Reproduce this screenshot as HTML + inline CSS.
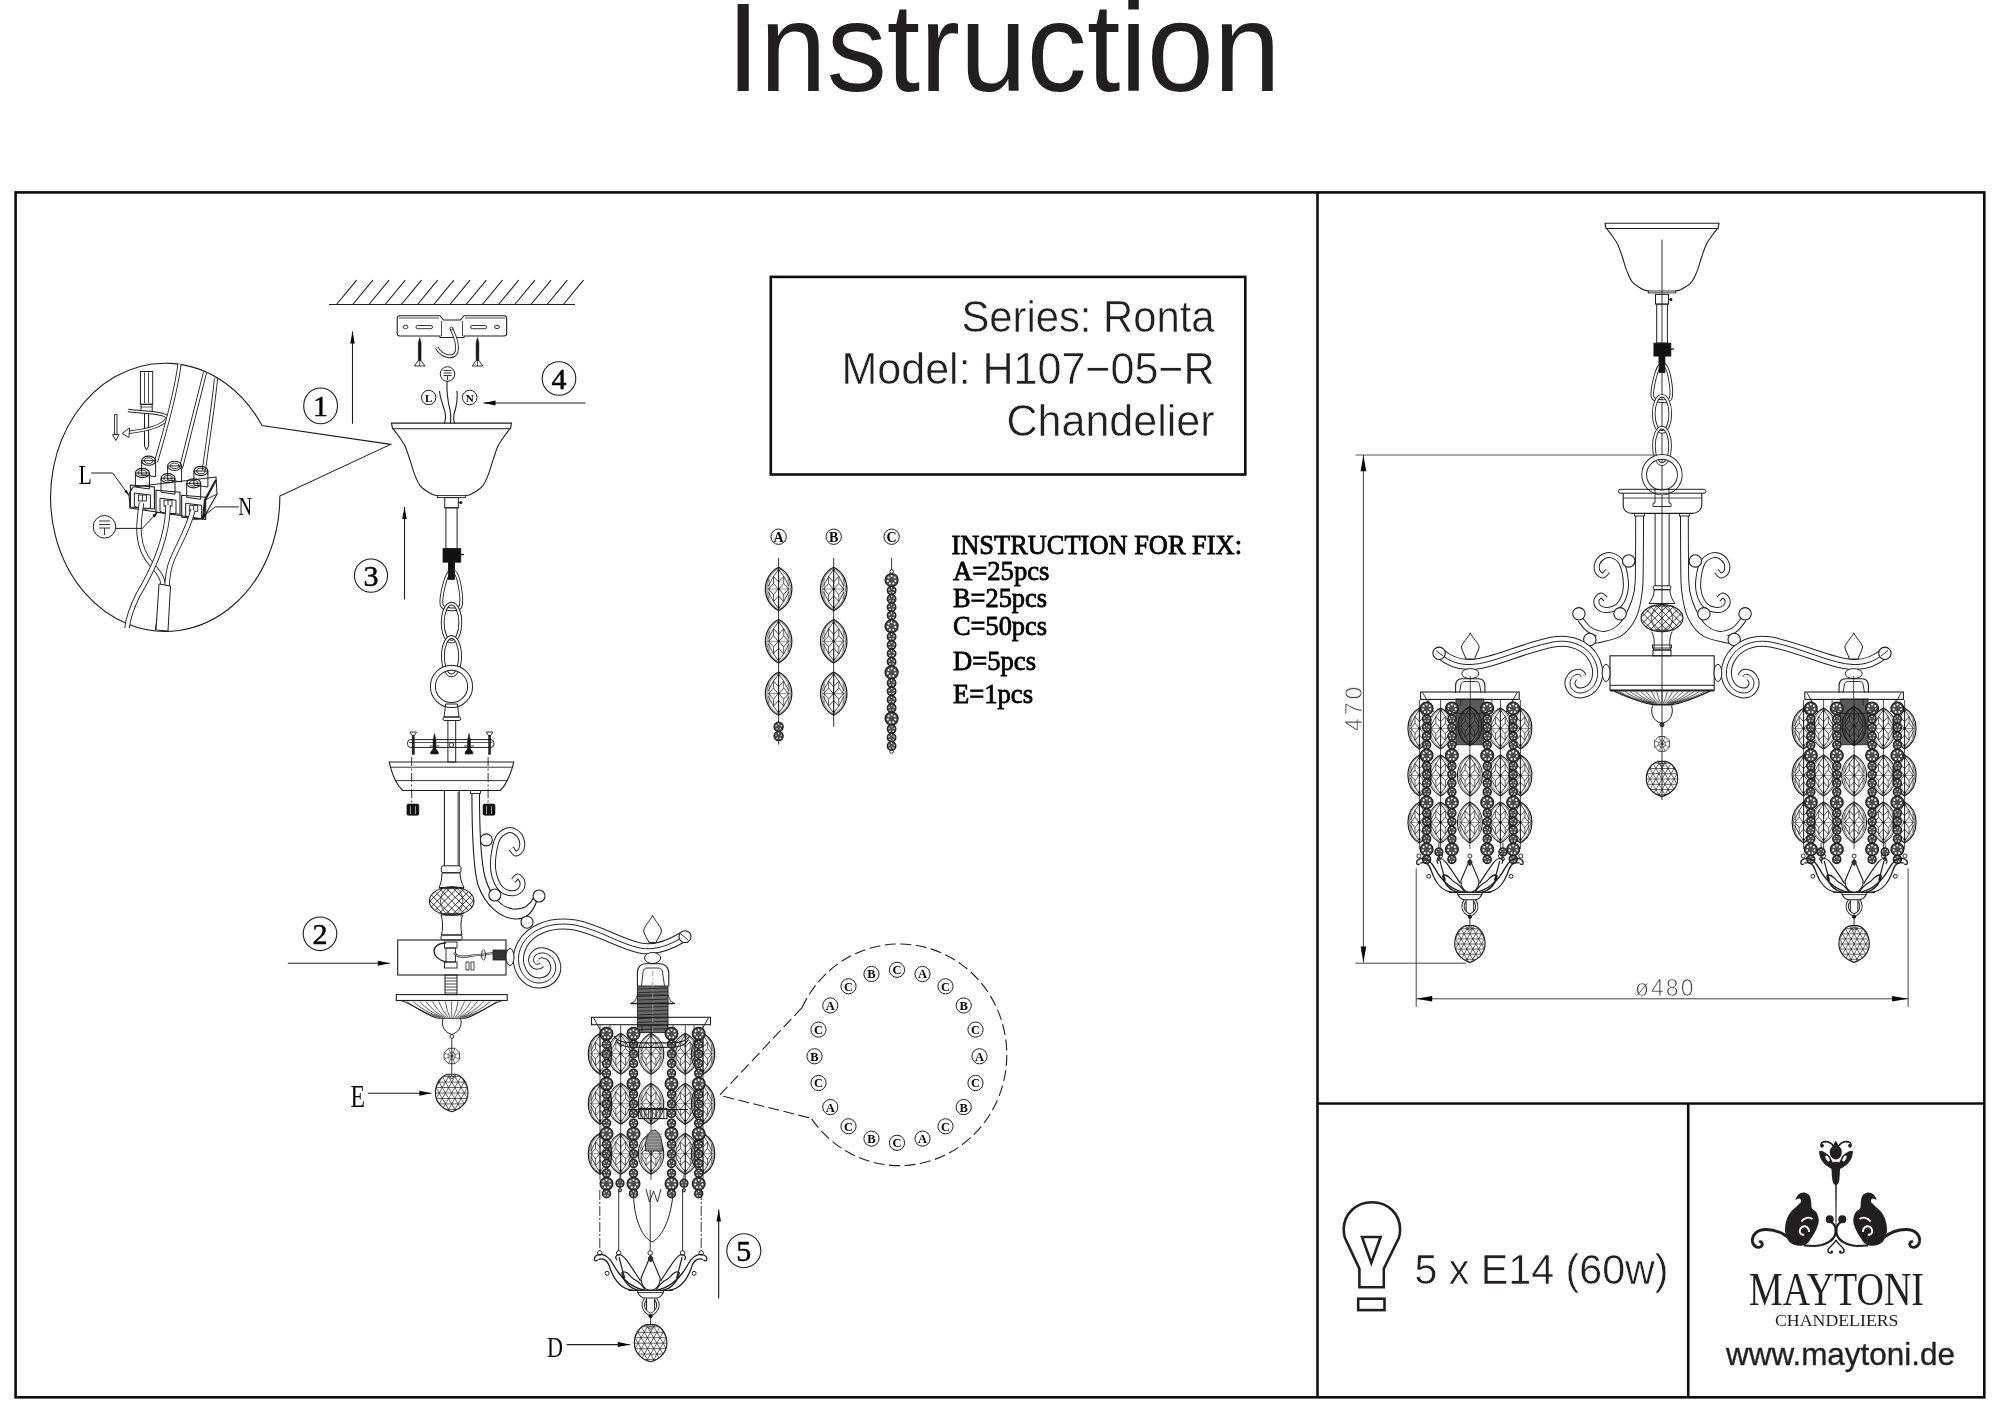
<!DOCTYPE html>
<html><head><meta charset="utf-8">
<style>
html,body{margin:0;padding:0;background:#fff;width:2000px;height:1414px;overflow:hidden}
svg{position:absolute;left:0;top:0;display:block;will-change:transform}
</style></head><body>
<svg width="2000" height="1414" viewBox="0 0 2000 1414">
<rect width="2000" height="1414" fill="#fff"/>
<g fill="#231f20" font-family="Liberation Sans">
<text x="726.5" y="90.5" font-size="127" textLength="554" lengthAdjust="spacingAndGlyphs">Instruction</text>
</g>
<g stroke="#100c0d" stroke-width="2.6" fill="none">
<rect x="15.6" y="192.4" width="1968.7" height="1204.9"/>
<line x1="1317.5" y1="192.4" x2="1317.5" y2="1397.3"/>
<line x1="1317.5" y1="1103.5" x2="1984.3" y2="1103.5"/>
<line x1="1688.2" y1="1103.5" x2="1688.2" y2="1397.3"/>
<rect x="770.8" y="276.9" width="474.5" height="197.6"/>
</g>
<g fill="#231f20" font-family="Liberation Sans" font-size="44.2" stroke="#fff" stroke-width="0.5">
<text x="961.5" y="331.5" textLength="253" lengthAdjust="spacingAndGlyphs">Series: Ronta</text>
<text x="841.5" y="383.5" textLength="373" lengthAdjust="spacingAndGlyphs">Model: H107−05−R</text>
<text x="1006.5" y="435.5" textLength="208" lengthAdjust="spacingAndGlyphs">Chandelier</text>
</g>
<g fill="#000" font-family="Liberation Serif" font-size="28" stroke="#000" stroke-width="0.8">
<text x="951.5" y="553.8" textLength="290.5" lengthAdjust="spacingAndGlyphs">INSTRUCTION FOR FIX:</text>
<text x="953" y="580.2" textLength="96.5" lengthAdjust="spacingAndGlyphs">A=25pcs</text>
<text x="953" y="607.4" textLength="94" lengthAdjust="spacingAndGlyphs">B=25pcs</text>
<text x="953" y="635.4" textLength="94" lengthAdjust="spacingAndGlyphs">C=50pcs</text>
<text x="953" y="669.8" textLength="83" lengthAdjust="spacingAndGlyphs">D=5pcs</text>
<text x="953" y="702.6" textLength="80" lengthAdjust="spacingAndGlyphs">E=1pcs</text>
</g>
<g fill="#231f20" font-family="Liberation Sans">
<text x="1414.5" y="1283.6" font-size="42.6" textLength="254" lengthAdjust="spacingAndGlyphs" stroke="#fff" stroke-width="0.5">5 x E14 (60w)</text>
<text x="1726" y="1364.5" font-size="32" textLength="229" lengthAdjust="spacingAndGlyphs" stroke="#231f20" stroke-width="0.35">www.maytoni.de</text>
</g>
<g fill="none" stroke="#1e1e1e" stroke-width="1"><line x1="329" y1="304.5" x2="575" y2="304.5" stroke-width="1.2"/><line x1="336.5" y1="304.5" x2="356.7" y2="280.2" stroke-width="1.1"/><line x1="352.7" y1="304.5" x2="372.9" y2="280.2" stroke-width="1.1"/><line x1="368.9" y1="304.5" x2="389.1" y2="280.2" stroke-width="1.1"/><line x1="385.1" y1="304.5" x2="405.3" y2="280.2" stroke-width="1.1"/><line x1="401.3" y1="304.5" x2="421.5" y2="280.2" stroke-width="1.1"/><line x1="417.5" y1="304.5" x2="437.7" y2="280.2" stroke-width="1.1"/><line x1="433.7" y1="304.5" x2="453.9" y2="280.2" stroke-width="1.1"/><line x1="449.9" y1="304.5" x2="470.1" y2="280.2" stroke-width="1.1"/><line x1="466.1" y1="304.5" x2="486.3" y2="280.2" stroke-width="1.1"/><line x1="482.3" y1="304.5" x2="502.5" y2="280.2" stroke-width="1.1"/><line x1="498.5" y1="304.5" x2="518.7" y2="280.2" stroke-width="1.1"/><line x1="514.7" y1="304.5" x2="534.9" y2="280.2" stroke-width="1.1"/><line x1="530.9" y1="304.5" x2="551.1" y2="280.2" stroke-width="1.1"/><line x1="547.1" y1="304.5" x2="567.3" y2="280.2" stroke-width="1.1"/><line x1="563.3" y1="304.5" x2="583.5" y2="280.2" stroke-width="1.1"/><path d="M400,315.7 L440,315.7 L443.5,320 L460.5,320 L464,315.7 L504,315.7 Q506.7,315.7 506.7,318.5 L506.7,333.5 Q506.7,336 504,336 L464,336 L464,337.5 L440,337.5 L440,336 L400,336 Q397.2,336 397.2,333.5 L397.2,318.5 Q397.2,315.7 400,315.7 Z" stroke-width="1.1"/><line x1="399" y1="318" x2="439" y2="318" stroke-width="0.8"/><line x1="465" y1="318" x2="505" y2="318" stroke-width="0.8"/><line x1="441.5" y1="321" x2="441.5" y2="336" stroke-width="0.8"/><line x1="462.5" y1="321" x2="462.5" y2="336" stroke-width="0.8"/><ellipse cx="405.5" cy="327" rx="2.5" ry="1.6" stroke-width="0.9"/><ellipse cx="497" cy="327" rx="2.5" ry="1.6" stroke-width="0.9"/><rect x="416" y="325.5" width="16.5" height="3.2" rx="1.6" stroke-width="0.9"/><rect x="470.7" y="325.5" width="15.8" height="3.2" rx="1.6" stroke-width="0.9"/><path d="M451.5,329 C455,336 458.5,345 456.5,352 C454,358.5 443,358 436.5,347.5" stroke="#222" stroke-width="3.6999999999999997" fill="none" stroke-linecap="butt"/><path d="M451.5,329 C455,336 458.5,345 456.5,352 C454,358.5 443,358 436.5,347.5" stroke="#fff" stroke-width="1.9" fill="none" stroke-linecap="butt"/><circle cx="451.5" cy="328.5" r="1.5" stroke-width="0.9"/><path d="M419.7,337.5 L421.1,343 L421,360.5 L418.4,360.5 L418.3,343 Z" fill="#111" stroke-width="0.6"/><path d="M414.5,366 L424.9,366 L421.2,360.5 L418.2,360.5 Z" fill="#fff" stroke-width="0.9"/><line x1="419.7" y1="361" x2="419.7" y2="366" stroke-width="0.8"/><path d="M477.5,337.5 L478.9,343 L478.8,360.5 L476.2,360.5 L476.1,343 Z" fill="#111" stroke-width="0.6"/><path d="M472.3,366 L482.7,366 L479,360.5 L476,360.5 Z" fill="#fff" stroke-width="0.9"/><line x1="477.5" y1="361" x2="477.5" y2="366" stroke-width="0.8"/><circle cx="447.5" cy="374" r="7.3" stroke-width="1"/><line x1="443.5" y1="370.5" x2="451.5" y2="370.5" stroke-width="0.9"/><line x1="443.5" y1="373" x2="451.5" y2="373" stroke-width="0.9"/><line x1="443.5" y1="375.5" x2="451.5" y2="375.5" stroke-width="0.9"/><line x1="447.5" y1="375.5" x2="447.5" y2="380" stroke-width="0.9"/><ellipse cx="428.7" cy="397.5" rx="7.2" ry="7.2" stroke-width="1.0" fill="none"/><text x="428.7" y="401.5" font-size="11" text-anchor="middle" fill="#000" stroke="none" stroke-width="0.5" font-family="Liberation Serif" font-weight="bold">L</text><ellipse cx="469.7" cy="397.5" rx="7.3" ry="7.3" stroke-width="1.0" fill="none"/><text x="469.7" y="401.5" font-size="11" text-anchor="middle" fill="#000" stroke="none" stroke-width="0.5" font-family="Liberation Serif" font-weight="bold">N</text><path d="M439.5,391 C440,398 443,405 445,412 C446.5,418 445,421 444.5,423.5" stroke-width="1.1"/><path d="M447,381 C446.5,392 448,402 450,410 C451.5,417 450.5,421 450.5,423.5" stroke-width="1.1"/><path d="M457,391 C458,400 456,408 454,414 C453,419 454,422 454.5,423.5" stroke-width="1.1"/><line x1="585.5" y1="403" x2="483.5" y2="403" stroke-width="1.1"/><path d="M483.5,403 L495.5,400.5 L495.5,405.5 Z" fill="#000" stroke="none"/><ellipse cx="559" cy="378.5" rx="16.8" ry="16.8" stroke-width="1.1" fill="none"/><text x="559" y="389" font-size="30" text-anchor="middle" fill="#000" stroke="#000" stroke-width="0.5" font-family="Liberation Serif" font-weight="normal">4</text><line x1="352.5" y1="423.8" x2="352.5" y2="331.5" stroke-width="1.1"/><path d="M352.5,331.5 L354.8,343.5 L350.2,343.5 Z" fill="#000" stroke="none"/><ellipse cx="320.6" cy="405.9" rx="16.9" ry="17.9" stroke-width="1.1" fill="none"/><text x="320.6" y="416.4" font-size="30" text-anchor="middle" fill="#000" stroke="#000" stroke-width="0.5" font-family="Liberation Serif" font-weight="normal">1</text><path d="M262,425.5 A114.6,134.1 0 1 0 279.8,496 L390.6,444.4 Z" stroke-width="1.1"/><rect x="140.4" y="371.5" width="12.3" height="32.8" stroke-width="1"/><line x1="144.5" y1="372.5" x2="144.5" y2="403" stroke-width="0.8"/><line x1="148.5" y1="372.5" x2="148.5" y2="403" stroke-width="0.8"/><rect x="141" y="404.3" width="11.2" height="8.3" stroke-width="1"/><line x1="141" y1="407" x2="152.2" y2="407" stroke-width="0.7"/><path d="M144.5,412.6 L148.6,412.6 L148.6,446 L146.5,450 L144.5,446 Z" stroke-width="1"/><path d="M128,410.5 C145,413 172,412 166,420 C160,428 140,431 128,432.5" stroke="#222" stroke-width="3.5" fill="none" stroke-linecap="butt"/><path d="M128,410.5 C145,413 172,412 166,420 C160,428 140,431 128,432.5" stroke="#fff" stroke-width="1.7000000000000002" fill="none" stroke-linecap="butt"/><path d="M122,433.5 L129.5,428 L129,437.5 Z" stroke-width="0.9" fill="#fff"/><rect x="114.6" y="414.6" width="2.4" height="20" stroke-width="0.9"/><path d="M112.5,434.6 L119.1,434.6 L115.8,440.5 Z" stroke-width="0.9"/><path d="M179.5,364 C175,400 162,440 156,462" stroke="#222" stroke-width="4.1000000000000005" fill="none" stroke-linecap="butt"/><path d="M179.5,364 C175,400 162,440 156,462" stroke="#fff" stroke-width="2.3000000000000003" fill="none" stroke-linecap="butt"/><path d="M205,372.5 C198,400 188,440 181,468" stroke="#222" stroke-width="4.1000000000000005" fill="none" stroke-linecap="butt"/><path d="M205,372.5 C198,400 188,440 181,468" stroke="#fff" stroke-width="2.3000000000000003" fill="none" stroke-linecap="butt"/><path d="M216,378.5 C213,410 207,445 204,470" stroke="#222" stroke-width="4.1000000000000005" fill="none" stroke-linecap="butt"/><path d="M216,378.5 C213,410 207,445 204,470" stroke="#fff" stroke-width="2.3000000000000003" fill="none" stroke-linecap="butt"/><path d="M133,487 L216,477 L217,494 L203,519 L130,508 L129,494 Z" stroke-width="1.1"/><path d="M205,500 L217,494" stroke-width="0.9"/><path d="M203,519 L205,500 L216,480" stroke-width="2.2"/><path d="M141.6,460.7 L141.6,474.7 L155.6,476.7 L155.6,460.7 Z" stroke-width="1"/><ellipse cx="148.6" cy="460.7" rx="7" ry="4.6" stroke-width="1.1"/><ellipse cx="148.6" cy="460.7" rx="4.2" ry="2.8" stroke-width="0.9"/><path d="M167.6,465.9 L167.6,479.9 L181.6,481.9 L181.6,465.9 Z" stroke-width="1"/><ellipse cx="174.6" cy="465.9" rx="7" ry="4.6" stroke-width="1.1"/><ellipse cx="174.6" cy="465.9" rx="4.2" ry="2.8" stroke-width="0.9"/><path d="M193.9,471 L193.9,485 L207.9,487 L207.9,471 Z" stroke-width="1"/><ellipse cx="200.9" cy="471" rx="7" ry="4.6" stroke-width="1.1"/><ellipse cx="200.9" cy="471" rx="4.2" ry="2.8" stroke-width="0.9"/><path d="M130.4,485 L154.4,487 L154.4,509 L130.4,507 Z" stroke-width="1.1"/><path d="M135.4,473 L135.4,487 L149.4,489 L149.4,473 Z" stroke-width="1"/><ellipse cx="142.4" cy="473" rx="7" ry="4.6" stroke-width="1.1"/><ellipse cx="142.4" cy="473" rx="4.2" ry="2.8" stroke-width="0.9"/><path d="M134.4,493 L134.4,506 Q142.4,511 150.4,508 L150.4,495 Z" stroke-width="1"/><rect x="138.4" y="495" width="8" height="6" stroke-width="0.9"/><line x1="142.4" y1="495" x2="142.4" y2="501" stroke-width="0.9"/><path d="M156,490.2 L180,492.2 L180,514.2 L156,512.2 Z" stroke-width="1.1"/><path d="M161,478.2 L161,492.2 L175,494.2 L175,478.2 Z" stroke-width="1"/><ellipse cx="168" cy="478.2" rx="7" ry="4.6" stroke-width="1.1"/><ellipse cx="168" cy="478.2" rx="4.2" ry="2.8" stroke-width="0.9"/><path d="M160,498.2 L160,511.2 Q168,516.2 176,513.2 L176,500.2 Z" stroke-width="1"/><rect x="164" y="500.2" width="8" height="6" stroke-width="0.9"/><line x1="168" y1="500.2" x2="168" y2="506.2" stroke-width="0.9"/><path d="M181.7,495.3 L205.7,497.3 L205.7,519.3 L181.7,517.3 Z" stroke-width="1.1"/><path d="M186.7,483.3 L186.7,497.3 L200.7,499.3 L200.7,483.3 Z" stroke-width="1"/><ellipse cx="193.7" cy="483.3" rx="7" ry="4.6" stroke-width="1.1"/><ellipse cx="193.7" cy="483.3" rx="4.2" ry="2.8" stroke-width="0.9"/><path d="M185.7,503.3 L185.7,516.3 Q193.7,521.3 201.7,518.3 L201.7,505.3 Z" stroke-width="1"/><rect x="189.7" y="505.3" width="8" height="6" stroke-width="0.9"/><line x1="193.7" y1="505.3" x2="193.7" y2="511.3" stroke-width="0.9"/><path d="M141.5,503 C139,520 134,545 152,565 C160,574 166,580 163,600 C160,615 158,625 157.5,631" stroke="#222" stroke-width="5.4" fill="none" stroke-linecap="butt"/><path d="M141.5,503 C139,520 134,545 152,565 C160,574 166,580 163,600 C160,615 158,625 157.5,631" stroke="#fff" stroke-width="3.6" fill="none" stroke-linecap="butt"/><path d="M168,505 C168,540 150,575 138,595 C132,607 128,620 127,628" stroke="#222" stroke-width="5.4" fill="none" stroke-linecap="butt"/><path d="M168,505 C168,540 150,575 138,595 C132,607 128,620 127,628" stroke="#fff" stroke-width="3.6" fill="none" stroke-linecap="butt"/><path d="M193,510 C188,530 178,545 172,560 C168,570 167,578 167,590" stroke="#222" stroke-width="5.4" fill="none" stroke-linecap="butt"/><path d="M193,510 C188,530 178,545 172,560 C168,570 167,578 167,590" stroke="#fff" stroke-width="3.6" fill="none" stroke-linecap="butt"/><path d="M159,584 L170.5,586 L168,631 L156,630 Z" stroke-width="1" fill="#fff"/><text x="78.5" y="484.3" font-size="28" font-family="Liberation Serif" fill="#000" stroke="none" transform="translate(78.5 484.3) scale(0.78 1) translate(-78.5 -484.3)">L</text><path d="M91.1,473 L112.7,473 L129,495.6" stroke-width="1"/><path d="M129,495.6 L124.3,491.6 L126.7,489.9 Z" fill="#000" stroke="none"/><text x="238.5" y="515.1" font-size="26" font-family="Liberation Serif" fill="#000" stroke="none" transform="translate(238.5 515.1) scale(0.72 1) translate(-238.5 -515.1)">N</text><path d="M238.8,506.9 L215.2,506.9 L200.9,518.2" stroke-width="1"/><path d="M200.9,518.2 L204.7,513.3 L206.5,515.7 Z" fill="#000" stroke="none"/><circle cx="104.5" cy="526.8" r="11.3" stroke-width="1"/><line x1="99" y1="521" x2="110" y2="521" stroke-width="0.9"/><line x1="99" y1="524.5" x2="110" y2="524.5" stroke-width="0.9"/><line x1="99" y1="528" x2="110" y2="528" stroke-width="0.9"/><line x1="104.5" y1="528" x2="104.5" y2="535" stroke-width="0.9"/><path d="M115.8,528.4 L142.4,528.4 L157.8,512" stroke-width="1"/><path d="M157.8,512 L154.8,517.4 L152.6,515.3 Z" fill="#000" stroke="none"/><path d="M391.5,423.1 L511.5,423.1 L510.5,428.70000000000005 L392.5,428.70000000000005 Z" stroke-width="1.1"/><path d="M393.1,428.7 C394.1,430 397,433.7 399,436.6 C401,439.5 403.2,442.2 405,446.1 C406.8,450 408.4,455.4 410,460.1 C411.6,464.8 412.8,469.8 414.5,474.1 C416.2,478.4 417.7,482.8 420.5,486.1 C423.3,489.4 428.7,492.5 431.5,494.1 C434.3,495.7 436.5,495.4 437.5,495.6" stroke-width="1.1"/><path d="M465.5,495.6 C466.5,495.4 468.7,495.7 471.5,494.1 C474.3,492.5 479.7,489.4 482.5,486.1 C485.3,482.8 486.8,478.4 488.5,474.1 C490.2,469.8 491.4,464.8 493,460.1 C494.6,455.4 496.2,450 498,446.1 C499.8,442.2 502,439.5 504,436.6 C506,433.7 508.9,430 509.9,428.7" stroke-width="1.1"/><rect x="437.5" y="495.6" width="28" height="2" stroke-width="0.9"/><rect x="444.7" y="497.6" width="13.6" height="10.2" stroke-width="1"/><circle cx="460.8" cy="502.6" r="1.5" fill="#111" stroke="none"/><line x1="458.3" y1="502.6" x2="460" y2="502.6" stroke-width="0.8"/><rect x="445.9" y="507.8" width="11.2" height="40.8" stroke-width="1"/><rect x="443" y="548.6" width="17.8" height="13.6" fill="#111" stroke-width="0.8"/><line x1="460.8" y1="554.6" x2="464" y2="554.6" stroke-width="1.3"/><rect x="448.5" y="562.2" width="6" height="17" fill="#111" stroke-width="0.8"/><path d="M451.5,570.6 C459.5,569.6 462.5,600.6 460.5,606.6 C458.5,610.6 443.5,610.6 441.5,604.6 C440.5,598.6 445.5,571.6 451.5,570.6 Z" stroke="#222" stroke-width="3.6999999999999997" fill="none" stroke-linecap="butt"/><path d="M451.5,570.6 C459.5,569.6 462.5,600.6 460.5,606.6 C458.5,610.6 443.5,610.6 441.5,604.6 C440.5,598.6 445.5,571.6 451.5,570.6 Z" stroke="#fff" stroke-width="1.9" fill="none" stroke-linecap="butt"/><rect x="448.5" y="562.2" width="6" height="17" fill="#111" stroke-width="0.8"/><ellipse cx="451.5" cy="622.6" rx="8.8" ry="19" stroke="#222" stroke-width="3.8" fill="none"/><ellipse cx="451.5" cy="622.6" rx="8.8" ry="19" stroke="#fff" stroke-width="1.9" fill="none"/><ellipse cx="451.5" cy="656.2" rx="8.6" ry="19.2" stroke="#222" stroke-width="3.8" fill="none"/><ellipse cx="451.5" cy="656.2" rx="8.6" ry="19.2" stroke="#fff" stroke-width="1.9" fill="none"/><circle cx="451.5" cy="686.4" r="18.6" stroke="#222" stroke-width="6.0" fill="none"/><circle cx="451.5" cy="686.4" r="18.6" stroke="#fff" stroke-width="4.0" fill="none"/><line x1="404.5" y1="599.5" x2="404.5" y2="507" stroke-width="1.1"/><path d="M404.5,507 L406.8,519 L402.2,519 Z" fill="#000" stroke="none"/><ellipse cx="371" cy="575.6" rx="16.6" ry="16.6" stroke-width="1.1" fill="none"/><text x="371" y="586.1" font-size="30" text-anchor="middle" fill="#000" stroke="#000" stroke-width="0.5" font-family="Liberation Serif" font-weight="normal">3</text><path d="M445.5,704 L457.5,704 C458,710 458.5,714 459,717 L444,717 C444.5,714 445,710 445.5,704 Z" stroke-width="1"/><rect x="443" y="717" width="17.6" height="3.5" rx="1.5" stroke-width="1"/><rect x="447.9" y="720.5" width="7.8" height="41.5" stroke-width="1"/><rect x="407.6" y="739.6" width="86.3" height="7.8" rx="3" stroke-width="1"/><line x1="409" y1="742.5" x2="492.5" y2="742.5" stroke-width="0.8"/><circle cx="451.4" cy="745" r="2.3" stroke-width="0.9"/><path d="M409.9,732 L416.5,732 L414.4,735.5 L412,735.5 Z" fill="#fff" stroke-width="0.9"/><rect x="412.1" y="735.5" width="2.2" height="19" fill="#222" stroke-width="0.5"/><line x1="411.7" y1="757" x2="411.7" y2="803" stroke-width="0.9" stroke-dasharray="9 2.5 2 2.5"/><path d="M486.3,732 L492.9,732 L490.8,735.5 L488.4,735.5 Z" fill="#fff" stroke-width="0.9"/><rect x="488.5" y="735.5" width="2.2" height="19" fill="#222" stroke-width="0.5"/><line x1="488.1" y1="757" x2="488.1" y2="803" stroke-width="0.9" stroke-dasharray="9 2.5 2 2.5"/><path d="M434.5,733.5 L435.9,740 L435.9,749 L438.3,752 L438.3,754 L430.7,754 L430.7,752 L433.1,749 L433.1,740 Z" fill="#111" stroke-width="0.6"/><line x1="429.5" y1="746" x2="439.5" y2="746" stroke-width="0.8"/><path d="M469,733.5 L470.4,740 L470.4,749 L472.8,752 L472.8,754 L465.2,754 L465.2,752 L467.6,749 L467.6,740 Z" fill="#111" stroke-width="0.6"/><line x1="464" y1="746" x2="474" y2="746" stroke-width="0.8"/><path d="M389.2,762 L513.7,762 L512.5,767.2 C510,775 506,785 500.2,790.5 L402.6,790.5 C397,785 392.5,775 390.5,767.2 Z" stroke-width="1.1"/><line x1="390.5" y1="767.2" x2="512.5" y2="767.2" stroke-width="0.9"/><line x1="396" y1="780.6" x2="507" y2="780.6" stroke-width="0.9"/><rect x="406.9" y="804" width="12" height="11.3" rx="1.5" fill="#111" stroke-width="0.6"/><line x1="410.4" y1="806" x2="410.4" y2="814" stroke="#fff" stroke-width="0.6"/><line x1="415.4" y1="806" x2="415.4" y2="814" stroke="#fff" stroke-width="0.6"/><rect x="483" y="804" width="12" height="11.3" rx="1.5" fill="#111" stroke-width="0.6"/><line x1="486.5" y1="806" x2="486.5" y2="814" stroke="#fff" stroke-width="0.6"/><line x1="491.5" y1="806" x2="491.5" y2="814" stroke="#fff" stroke-width="0.6"/><line x1="444.4" y1="790.5" x2="444.4" y2="866" stroke-width="1.1"/><line x1="459.2" y1="790.5" x2="459.2" y2="866" stroke-width="1.1"/><line x1="458" y1="792" x2="458" y2="866" stroke-width="0.7"/><rect x="441.3" y="865.8" width="19.7" height="7" rx="2" stroke-width="1"/><path d="M442,872.8 L460,872.8 C460,878 462,884 464,887.6 L439,887.6 C441,884 442,878 442,872.8 Z" stroke-width="1"/><clipPath id="pa451901"><ellipse cx="451.7" cy="901" rx="22.3" ry="14.3"/></clipPath><g clip-path="url(#pa451901)" stroke-width="0.9"><line x1="392.8" y1="885.3" x2="424.2" y2="916.7"/><line x1="424.2" y1="885.3" x2="392.8" y2="916.7"/><line x1="400" y1="885.3" x2="431.4" y2="916.7"/><line x1="431.4" y1="885.3" x2="400" y2="916.7"/><line x1="407.2" y1="885.3" x2="438.6" y2="916.7"/><line x1="438.6" y1="885.3" x2="407.2" y2="916.7"/><line x1="414.4" y1="885.3" x2="445.8" y2="916.7"/><line x1="445.8" y1="885.3" x2="414.4" y2="916.7"/><line x1="421.6" y1="885.3" x2="453" y2="916.7"/><line x1="453" y1="885.3" x2="421.6" y2="916.7"/><line x1="428.8" y1="885.3" x2="460.2" y2="916.7"/><line x1="460.2" y1="885.3" x2="428.8" y2="916.7"/><line x1="436" y1="885.3" x2="467.4" y2="916.7"/><line x1="467.4" y1="885.3" x2="436" y2="916.7"/><line x1="443.2" y1="885.3" x2="474.6" y2="916.7"/><line x1="474.6" y1="885.3" x2="443.2" y2="916.7"/><line x1="450.4" y1="885.3" x2="481.8" y2="916.7"/><line x1="481.8" y1="885.3" x2="450.4" y2="916.7"/><line x1="457.6" y1="885.3" x2="489" y2="916.7"/><line x1="489" y1="885.3" x2="457.6" y2="916.7"/><line x1="464.8" y1="885.3" x2="496.2" y2="916.7"/><line x1="496.2" y1="885.3" x2="464.8" y2="916.7"/><line x1="472" y1="885.3" x2="503.4" y2="916.7"/><line x1="503.4" y1="885.3" x2="472" y2="916.7"/><line x1="479.2" y1="885.3" x2="510.6" y2="916.7"/><line x1="510.6" y1="885.3" x2="479.2" y2="916.7"/></g><ellipse cx="451.7" cy="901" rx="22.3" ry="14.3" stroke-width="1.1"/><ellipse cx="451.7" cy="901" rx="11.2" ry="14.3" stroke-width="0.7"/><line x1="439.4" y1="913.6" x2="464" y2="913.6" stroke-width="0.9"/><line x1="439.4" y1="888.4" x2="464" y2="888.4" stroke-width="0.9"/><path d="M441,915 C443,920 443,930 441.5,935 L462,935 C460.5,930 460.5,920 462.5,915 Z" stroke-width="1"/><rect x="441" y="935" width="21" height="5" rx="1.5" stroke-width="1"/><rect x="397.7" y="940" width="108.3" height="35" stroke-width="1.1"/><rect x="444.5" y="942" width="12.5" height="6" stroke-width="0.9"/><rect x="444.5" y="962" width="12.5" height="6" stroke-width="0.9"/><rect x="446" y="948" width="9.5" height="14" stroke-width="0.9"/><path d="M446,943 C430,943 430,958 446,962" stroke-width="1.3"/><path d="M454,953 C460,960 470,955 478,955 C485,955 490,953 494,953" stroke-width="2.2"/><path d="M454,953 C460,960 470,955 478,955 C485,955 490,953 494,953" stroke="#fff" stroke-width="0.8"/><rect x="493" y="950" width="13" height="10" fill="#333" stroke-width="0.8"/><ellipse cx="483.5" cy="955" rx="2" ry="5" stroke-width="0.9"/><rect x="466" y="962" width="3" height="8" stroke-width="0.8"/><rect x="471" y="962" width="3" height="8" stroke-width="0.8"/><line x1="287.8" y1="963.3" x2="389.8" y2="963.3" stroke-width="1.1"/><path d="M389.8,963.3 L377.8,965.8 L377.8,960.8 Z" fill="#000" stroke="none"/><ellipse cx="320" cy="933.8" rx="16.8" ry="16.8" stroke-width="1.1" fill="none"/><text x="320" y="944.3" font-size="30" text-anchor="middle" fill="#000" stroke="#000" stroke-width="0.5" font-family="Liberation Serif" font-weight="normal">2</text><rect x="445" y="975" width="12" height="19.6" stroke-width="1"/><line x1="445" y1="978" x2="457" y2="978" stroke-width="0.8"/><line x1="445" y1="981" x2="457" y2="981" stroke-width="0.8"/><line x1="445" y1="984" x2="457" y2="984" stroke-width="0.8"/><line x1="445" y1="987" x2="457" y2="987" stroke-width="0.8"/><line x1="445" y1="990" x2="457" y2="990" stroke-width="0.8"/><line x1="445" y1="993" x2="457" y2="993" stroke-width="0.8"/><rect x="396.3" y="994.6" width="110.9" height="5.9" stroke-width="1.1"/><path d="M401,1000.5 C415,1005 425,1015 438,1018.3 L465,1018.3 C478,1015 488,1005 502,1000.5" stroke-width="1.1"/><path d="M406.7,1001.5 Q420.2,1012 439.7,1017.5" stroke-width="0.7"/><path d="M413.1,1001.5 Q424.7,1012 441.4,1017.5" stroke-width="0.7"/><path d="M419.6,1001.5 Q429.2,1012 443.1,1017.5" stroke-width="0.7"/><path d="M426,1001.5 Q433.7,1012 444.8,1017.5" stroke-width="0.7"/><path d="M432.4,1001.5 Q438.2,1012 446.6,1017.5" stroke-width="0.7"/><path d="M438.8,1001.5 Q442.7,1012 448.3,1017.5" stroke-width="0.7"/><path d="M445.3,1001.5 Q447.2,1012 450,1017.5" stroke-width="0.7"/><path d="M451.7,1001.5 Q451.7,1012 451.7,1017.5" stroke-width="0.7"/><path d="M458.1,1001.5 Q456.2,1012 453.4,1017.5" stroke-width="0.7"/><path d="M464.6,1001.5 Q460.7,1012 455.1,1017.5" stroke-width="0.7"/><path d="M471,1001.5 Q465.2,1012 456.8,1017.5" stroke-width="0.7"/><path d="M477.4,1001.5 Q469.7,1012 458.6,1017.5" stroke-width="0.7"/><path d="M483.8,1001.5 Q474.2,1012 460.3,1017.5" stroke-width="0.7"/><path d="M490.3,1001.5 Q478.7,1012 462,1017.5" stroke-width="0.7"/><path d="M496.7,1001.5 Q483.2,1012 463.7,1017.5" stroke-width="0.7"/><path d="M443,1018.3 C441,1024 443,1032 451.8,1034.5 C460,1032 462.5,1024 460.5,1018.3" stroke-width="1"/><circle cx="451.8" cy="1036.5" r="1.9" stroke-width="0.9"/><line x1="451.8" y1="1038.5" x2="451.8" y2="1074" stroke-width="0.9"/><path d="M459.5,1059.2 L455,1063.7 L448.6,1063.7 L444.1,1059.2 L444.1,1052.8 L448.6,1048.3 L455,1048.3 L459.5,1052.8 Z" stroke-width="0.8"/><line x1="459.5" y1="1059.2" x2="444.1" y2="1052.8" stroke-width="0.5599999999999999"/><line x1="455" y1="1063.7" x2="448.6" y2="1048.3" stroke-width="0.5599999999999999"/><line x1="448.6" y1="1063.7" x2="455" y2="1048.3" stroke-width="0.5599999999999999"/><line x1="444.1" y1="1059.2" x2="459.5" y2="1052.8" stroke-width="0.5599999999999999"/><circle cx="451.8" cy="1056" r="3.7" stroke-width="0.48"/><clipPath id="cb4517_10930"><path d="M448.1,1074.2 L455.3,1074.2 C462.8,1075.7 468,1083.6 468,1093 C468,1102.4 460.7,1109.2 451.7,1111.8 C442.7,1109.2 435.4,1102.4 435.4,1093 C435.4,1083.6 440.6,1075.7 448.1,1074.2 Z"/></clipPath><g clip-path="url(#cb4517_10930)" stroke-width="0.68"><line x1="379" y1="1053.5" x2="424.1" y2="1132.5"/><line x1="424.1" y1="1053.5" x2="379" y2="1132.5"/><line x1="385.3" y1="1053.5" x2="430.4" y2="1132.5"/><line x1="430.4" y1="1053.5" x2="385.3" y2="1132.5"/><line x1="391.5" y1="1053.5" x2="436.6" y2="1132.5"/><line x1="436.6" y1="1053.5" x2="391.5" y2="1132.5"/><line x1="397.8" y1="1053.5" x2="442.9" y2="1132.5"/><line x1="442.9" y1="1053.5" x2="397.8" y2="1132.5"/><line x1="404.1" y1="1053.5" x2="449.2" y2="1132.5"/><line x1="449.2" y1="1053.5" x2="404.1" y2="1132.5"/><line x1="410.3" y1="1053.5" x2="455.5" y2="1132.5"/><line x1="455.5" y1="1053.5" x2="410.3" y2="1132.5"/><line x1="416.6" y1="1053.5" x2="461.7" y2="1132.5"/><line x1="461.7" y1="1053.5" x2="416.6" y2="1132.5"/><line x1="422.9" y1="1053.5" x2="468" y2="1132.5"/><line x1="468" y1="1053.5" x2="422.9" y2="1132.5"/><line x1="429.1" y1="1053.5" x2="474.3" y2="1132.5"/><line x1="474.3" y1="1053.5" x2="429.1" y2="1132.5"/><line x1="435.4" y1="1053.5" x2="480.5" y2="1132.5"/><line x1="480.5" y1="1053.5" x2="435.4" y2="1132.5"/><line x1="441.7" y1="1053.5" x2="486.8" y2="1132.5"/><line x1="486.8" y1="1053.5" x2="441.7" y2="1132.5"/><line x1="447.9" y1="1053.5" x2="493.1" y2="1132.5"/><line x1="493.1" y1="1053.5" x2="447.9" y2="1132.5"/><line x1="454.2" y1="1053.5" x2="499.3" y2="1132.5"/><line x1="499.3" y1="1053.5" x2="454.2" y2="1132.5"/><line x1="460.5" y1="1053.5" x2="505.6" y2="1132.5"/><line x1="505.6" y1="1053.5" x2="460.5" y2="1132.5"/><line x1="466.8" y1="1053.5" x2="511.9" y2="1132.5"/><line x1="511.9" y1="1053.5" x2="466.8" y2="1132.5"/><line x1="473" y1="1053.5" x2="518.1" y2="1132.5"/><line x1="518.1" y1="1053.5" x2="473" y2="1132.5"/><line x1="479.3" y1="1053.5" x2="524.4" y2="1132.5"/><line x1="524.4" y1="1053.5" x2="479.3" y2="1132.5"/><line x1="432.1" y1="1060.3" x2="471.3" y2="1060.3"/><line x1="432.1" y1="1065.7" x2="471.3" y2="1065.7"/><line x1="432.1" y1="1071.2" x2="471.3" y2="1071.2"/><line x1="432.1" y1="1076.6" x2="471.3" y2="1076.6"/><line x1="432.1" y1="1082.1" x2="471.3" y2="1082.1"/><line x1="432.1" y1="1087.5" x2="471.3" y2="1087.5"/><line x1="432.1" y1="1093" x2="471.3" y2="1093"/><line x1="432.1" y1="1098.5" x2="471.3" y2="1098.5"/><line x1="432.1" y1="1103.9" x2="471.3" y2="1103.9"/><line x1="432.1" y1="1109.4" x2="471.3" y2="1109.4"/><line x1="432.1" y1="1114.8" x2="471.3" y2="1114.8"/><line x1="432.1" y1="1120.3" x2="471.3" y2="1120.3"/><line x1="432.1" y1="1125.7" x2="471.3" y2="1125.7"/></g><path d="M448.1,1074.2 L455.3,1074.2 C462.8,1075.7 468,1083.6 468,1093 C468,1102.4 460.7,1109.2 451.7,1111.8 C442.7,1109.2 435.4,1102.4 435.4,1093 C435.4,1083.6 440.6,1075.7 448.1,1074.2 Z" stroke-width="1.1199999999999999"/><circle cx="451.7" cy="1077.2" r="1.6" stroke-width="0.8"/><text x="350.5" y="1107.4" font-size="32" font-family="Liberation Serif" fill="#000" stroke="none" transform="translate(350.5 1107.4) scale(0.74 1) translate(-350.5 -1107.4)">E</text><line x1="368" y1="1093.2" x2="431.4" y2="1093.2" stroke-width="1.1"/><path d="M431.4,1093.2 L419.4,1095.7 L419.4,1090.7 Z" fill="#000" stroke="none"/><rect x="470.5" y="790.5" width="10" height="3" stroke-width="0.9"/><path d="M471.9,793 C472,830 473,868 478,885 C485,905 500,918 515,919 C525,919.5 533,913 537,900" stroke-width="1.1"/><path d="M479.5,793 C479.5,830 481,862 485,877 C490,895 500,907 513,909 C523,910 530,905 534,897" stroke-width="1.1"/><path d="M511.4,848.4 C512.1,849.3 514.2,853.5 515.9,853.6 C517.6,853.7 520.5,851.4 521.4,849 C522.3,846.6 522.4,842.1 521.4,839.2 C520.4,836.3 517.8,833.2 515.4,831.8 C513,830.4 509.8,829.5 506.9,830.6 C504,831.7 500.1,833.8 497.9,838.1 C495.6,842.4 494.1,850.6 493.4,856.5 C492.7,862.4 492.6,868.3 493.9,873.7 C495.1,879.1 497.9,885.4 500.9,888.7 C503.9,892 508.6,893.1 511.9,893.3 C515.1,893.5 518.6,891.7 520.4,889.8 C522.1,887.9 522.8,884 522.4,881.8 C522,879.6 519.4,876.8 517.9,876.6 C516.4,876.4 514.1,879.9 513.4,880.6" stroke="#222" stroke-width="6.0" fill="none" stroke-linecap="butt"/><path d="M511.4,848.4 C512.1,849.3 514.2,853.5 515.9,853.6 C517.6,853.7 520.5,851.4 521.4,849 C522.3,846.6 522.4,842.1 521.4,839.2 C520.4,836.3 517.8,833.2 515.4,831.8 C513,830.4 509.8,829.5 506.9,830.6 C504,831.7 500.1,833.8 497.9,838.1 C495.6,842.4 494.1,850.6 493.4,856.5 C492.7,862.4 492.6,868.3 493.9,873.7 C495.1,879.1 497.9,885.4 500.9,888.7 C503.9,892 508.6,893.1 511.9,893.3 C515.1,893.5 518.6,891.7 520.4,889.8 C522.1,887.9 522.8,884 522.4,881.8 C522,879.6 519.4,876.8 517.9,876.6 C516.4,876.4 514.1,879.9 513.4,880.6" stroke="#fff" stroke-width="4.0" fill="none" stroke-linecap="butt"/><circle cx="486.3" cy="839.9" r="6" stroke-width="1.1" fill="#fff"/><circle cx="494.8" cy="895" r="6" stroke-width="1.1" fill="#fff"/><circle cx="539" cy="896" r="6" stroke-width="1.1" fill="#fff"/><circle cx="527" cy="922.2" r="6" stroke-width="1.1" fill="#fff"/><path d="M683,937 C670,945 655,951 640,948 C620,944 600,930 575,925 C550,921 530,930 522,945 C512,965 525,984 540,983 C552,982 558,972 555,963 C552,953 540,950 535,956 C531,961 536,967 540,963" stroke="#222" stroke-width="11.0" fill="none" stroke-linecap="butt"/><path d="M683,937 C670,945 655,951 640,948 C620,944 600,930 575,925 C550,921 530,930 522,945 C512,965 525,984 540,983 C552,982 558,972 555,963 C552,953 540,950 535,956 C531,961 536,967 540,963" stroke="#fff" stroke-width="9.0" fill="none" stroke-linecap="butt"/><path d="M683,937 C670,945 655,951 640,948 C620,944 600,930 575,925 C550,921 530,930 522,945 C512,965 525,984 540,983 C552,982 558,972 555,963 C552,953 540,950 535,956 C531,961 536,967 540,963" stroke="#222" stroke-width="1.0" fill="none"/><circle cx="685" cy="936.7" r="6" stroke-width="1.1" fill="#fff"/><line x1="681" y1="934" x2="688" y2="940" stroke-width="0.9"/><ellipse cx="510" cy="957" rx="4" ry="8.5" stroke-width="1" fill="#fff"/><path d="M652.6,915.4 C655,921 661,926 661.5,931 C661,935 657,939 656,942.6 L649,942.6 C648,939 644,935 643.7,931 C644,926 650,921 652.6,915.4 Z" stroke-width="1" fill="#fff"/><ellipse cx="652.6" cy="958" rx="8" ry="5.5" stroke-width="1" fill="#fff"/><path d="M637.4,986 L637.4,973 C637.4,967 641,963.8 645,963.8 L660,963.8 C664,963.8 668.8,967 668.8,973 L668.8,986" stroke-width="1.1"/><path d="M641.5,986 L643,972 C643.5,969 645,968 647,968 L658,968 C660,968 662,969 662.5,972 L664.5,986" stroke-width="0.9"/><rect x="637.4" y="986" width="30.6" height="46.6" fill="#6a6a6a" stroke-width="0.9"/><line x1="637.4" y1="989" x2="668" y2="988" stroke="#222" stroke-width="0.9"/><line x1="637.4" y1="992.7" x2="668" y2="991.7" stroke="#222" stroke-width="0.9"/><line x1="637.4" y1="996.4" x2="668" y2="995.4" stroke="#222" stroke-width="0.9"/><line x1="637.4" y1="1000.1" x2="668" y2="999.1" stroke="#222" stroke-width="0.9"/><line x1="637.4" y1="1003.8" x2="668" y2="1002.8" stroke="#222" stroke-width="0.9"/><line x1="637.4" y1="1007.5" x2="668" y2="1006.5" stroke="#222" stroke-width="0.9"/><line x1="637.4" y1="1011.2" x2="668" y2="1010.2" stroke="#222" stroke-width="0.9"/><line x1="637.4" y1="1014.9" x2="668" y2="1013.9" stroke="#222" stroke-width="0.9"/><line x1="637.4" y1="1018.6" x2="668" y2="1017.6" stroke="#222" stroke-width="0.9"/><line x1="637.4" y1="1022.3" x2="668" y2="1021.3" stroke="#222" stroke-width="0.9"/><line x1="637.4" y1="1026" x2="668" y2="1025" stroke="#222" stroke-width="0.9"/><line x1="637.4" y1="1029.7" x2="668" y2="1028.7" stroke="#222" stroke-width="0.9"/><path d="M630.6,1003.5 C636,1002 636,998 637.4,995 L668,995 C669.5,998 670,1002 674.8,1003.5 Z" stroke-width="0.9" fill="none"/><line x1="630.6" y1="1003.5" x2="674.8" y2="1003.5" stroke-width="1.6"/><line x1="652.8" y1="970" x2="652.8" y2="1032" stroke="#999" stroke-width="0.8" stroke-dasharray="6 2 1.5 2"/><rect x="591.5" y="1017.3" width="119" height="7.4" stroke-width="1.1"/><line x1="593.5" y1="1017.8" x2="604.5" y2="1037.3" stroke-width="0.9"/><line x1="708.5" y1="1017.8" x2="697.5" y2="1037.3" stroke-width="0.9"/><line x1="600" y1="1025.3" x2="600" y2="1180.2" stroke-width="0.8"/><line x1="620.7" y1="1025.3" x2="620.7" y2="1180.2" stroke-width="0.8"/><line x1="651" y1="1025.3" x2="651" y2="1180.2" stroke-width="0.8"/><line x1="685.3" y1="1025.3" x2="685.3" y2="1180.2" stroke-width="0.8"/><line x1="703" y1="1025.3" x2="703" y2="1180.2" stroke-width="0.8"/><line x1="610" y1="1025.3" x2="610" y2="1031.3" stroke-width="0.8"/><line x1="642" y1="1025.3" x2="642" y2="1031.3" stroke-width="0.8"/><line x1="673" y1="1025.3" x2="673" y2="1031.3" stroke-width="0.8"/><line x1="694" y1="1025.3" x2="694" y2="1031.3" stroke-width="0.8"/><path d="M600,1033.2 C615.6,1041.8 615.6,1065.6 600,1074.2 C584.4,1065.6 584.4,1041.8 600,1033.2 Z" stroke-width="1.15"/><path d="M600,1034.2 C613.7,1042.4 613.7,1065 600,1073.2 C586.3,1065 586.3,1042.4 600,1034.2 Z" stroke-width="0.55"/><path d="M591.2,1053.7 L595.5,1048.4 L599.7,1053.7 L595.5,1059 Z" stroke-width="0.8"/><line x1="595.5" y1="1041.8" x2="595.5" y2="1048.4" stroke-width="0.7"/><line x1="595.5" y1="1065.6" x2="595.5" y2="1059" stroke-width="0.7"/><line x1="591.6" y1="1044.5" x2="591.6" y2="1062.9" stroke-width="0.5"/><path d="M608.8,1053.7 L604.5,1048.4 L600.3,1053.7 L604.5,1059 Z" stroke-width="0.8"/><line x1="604.5" y1="1041.8" x2="604.5" y2="1048.4" stroke-width="0.7"/><line x1="604.5" y1="1065.6" x2="604.5" y2="1059" stroke-width="0.7"/><line x1="608.4" y1="1044.5" x2="608.4" y2="1062.9" stroke-width="0.5"/><path d="M590.9,1051.2 L595.5,1041.8 L600,1047.1 L604.5,1041.8 L609.1,1051.2" stroke-width="0.8"/><path d="M595.5,1041.8 L600,1035.2 L604.5,1041.8" stroke-width="0.8"/><path d="M590.9,1056.2 L595.5,1065.6 L600,1060.3 L604.5,1065.6 L609.1,1056.2" stroke-width="0.8"/><path d="M595.5,1065.6 L600,1072.2 L604.5,1065.6" stroke-width="0.8"/><line x1="589.8" y1="1053.7" x2="610.2" y2="1053.7" stroke-width="0.5"/><line x1="600" y1="1033.2" x2="600" y2="1074.2" stroke-width="0.8"/><circle cx="600" cy="1053.7" r="1" fill="#000" stroke="none"/><circle cx="600" cy="1070.5" r="0.9" fill="#000" stroke="none"/><circle cx="600" cy="1036.1" r="0.9" stroke-width="0.6"/><path d="M620.7,1033.2 C637.7,1041.8 637.7,1065.6 620.7,1074.2 C603.7,1065.6 603.7,1041.8 620.7,1033.2 Z" stroke-width="1.15"/><path d="M620.7,1034.2 C635.6,1042.4 635.6,1065 620.7,1073.2 C605.8,1065 605.8,1042.4 620.7,1034.2 Z" stroke-width="0.55"/><path d="M611.1,1053.7 L615.8,1048.4 L620.3,1053.7 L615.8,1059 Z" stroke-width="0.8"/><line x1="615.8" y1="1041.8" x2="615.8" y2="1048.4" stroke-width="0.7"/><line x1="615.8" y1="1065.6" x2="615.8" y2="1059" stroke-width="0.7"/><line x1="611.6" y1="1044.5" x2="611.6" y2="1062.9" stroke-width="0.5"/><path d="M630.3,1053.7 L625.6,1048.4 L621.1,1053.7 L625.6,1059 Z" stroke-width="0.8"/><line x1="625.6" y1="1041.8" x2="625.6" y2="1048.4" stroke-width="0.7"/><line x1="625.6" y1="1065.6" x2="625.6" y2="1059" stroke-width="0.7"/><line x1="629.8" y1="1044.5" x2="629.8" y2="1062.9" stroke-width="0.5"/><path d="M610.8,1051.2 L615.8,1041.8 L620.7,1047.1 L625.6,1041.8 L630.6,1051.2" stroke-width="0.8"/><path d="M615.8,1041.8 L620.7,1035.2 L625.6,1041.8" stroke-width="0.8"/><path d="M610.8,1056.2 L615.8,1065.6 L620.7,1060.3 L625.6,1065.6 L630.6,1056.2" stroke-width="0.8"/><path d="M615.8,1065.6 L620.7,1072.2 L625.6,1065.6" stroke-width="0.8"/><line x1="609.6" y1="1053.7" x2="631.8" y2="1053.7" stroke-width="0.5"/><line x1="620.7" y1="1033.2" x2="620.7" y2="1074.2" stroke-width="0.8"/><circle cx="620.7" cy="1053.7" r="1" fill="#000" stroke="none"/><circle cx="620.7" cy="1070.5" r="0.9" fill="#000" stroke="none"/><circle cx="620.7" cy="1036.1" r="0.9" stroke-width="0.6"/><path d="M651,1033.2 C668,1041.8 668,1065.6 651,1074.2 C634,1065.6 634,1041.8 651,1033.2 Z" stroke-width="1.15"/><path d="M651,1034.2 C665.9,1042.4 665.9,1065 651,1073.2 C636.1,1065 636.1,1042.4 651,1034.2 Z" stroke-width="0.55"/><path d="M641.4,1053.7 L646.1,1048.4 L650.6,1053.7 L646.1,1059 Z" stroke-width="0.8"/><line x1="646.1" y1="1041.8" x2="646.1" y2="1048.4" stroke-width="0.7"/><line x1="646.1" y1="1065.6" x2="646.1" y2="1059" stroke-width="0.7"/><line x1="641.9" y1="1044.5" x2="641.9" y2="1062.9" stroke-width="0.5"/><path d="M660.6,1053.7 L655.9,1048.4 L651.4,1053.7 L655.9,1059 Z" stroke-width="0.8"/><line x1="655.9" y1="1041.8" x2="655.9" y2="1048.4" stroke-width="0.7"/><line x1="655.9" y1="1065.6" x2="655.9" y2="1059" stroke-width="0.7"/><line x1="660.1" y1="1044.5" x2="660.1" y2="1062.9" stroke-width="0.5"/><path d="M641.1,1051.2 L646.1,1041.8 L651,1047.1 L655.9,1041.8 L660.9,1051.2" stroke-width="0.8"/><path d="M646.1,1041.8 L651,1035.2 L655.9,1041.8" stroke-width="0.8"/><path d="M641.1,1056.2 L646.1,1065.6 L651,1060.3 L655.9,1065.6 L660.9,1056.2" stroke-width="0.8"/><path d="M646.1,1065.6 L651,1072.2 L655.9,1065.6" stroke-width="0.8"/><line x1="639.9" y1="1053.7" x2="662.1" y2="1053.7" stroke-width="0.5"/><line x1="651" y1="1033.2" x2="651" y2="1074.2" stroke-width="0.8"/><circle cx="651" cy="1053.7" r="1" fill="#000" stroke="none"/><circle cx="651" cy="1070.5" r="0.9" fill="#000" stroke="none"/><circle cx="651" cy="1036.1" r="0.9" stroke-width="0.6"/><path d="M685.3,1033.2 C702.3,1041.8 702.3,1065.6 685.3,1074.2 C668.3,1065.6 668.3,1041.8 685.3,1033.2 Z" stroke-width="1.15"/><path d="M685.3,1034.2 C700.2,1042.4 700.2,1065 685.3,1073.2 C670.4,1065 670.4,1042.4 685.3,1034.2 Z" stroke-width="0.55"/><path d="M675.7,1053.7 L680.4,1048.4 L684.9,1053.7 L680.4,1059 Z" stroke-width="0.8"/><line x1="680.4" y1="1041.8" x2="680.4" y2="1048.4" stroke-width="0.7"/><line x1="680.4" y1="1065.6" x2="680.4" y2="1059" stroke-width="0.7"/><line x1="676.2" y1="1044.5" x2="676.2" y2="1062.9" stroke-width="0.5"/><path d="M694.9,1053.7 L690.2,1048.4 L685.7,1053.7 L690.2,1059 Z" stroke-width="0.8"/><line x1="690.2" y1="1041.8" x2="690.2" y2="1048.4" stroke-width="0.7"/><line x1="690.2" y1="1065.6" x2="690.2" y2="1059" stroke-width="0.7"/><line x1="694.4" y1="1044.5" x2="694.4" y2="1062.9" stroke-width="0.5"/><path d="M675.4,1051.2 L680.4,1041.8 L685.3,1047.1 L690.2,1041.8 L695.2,1051.2" stroke-width="0.8"/><path d="M680.4,1041.8 L685.3,1035.2 L690.2,1041.8" stroke-width="0.8"/><path d="M675.4,1056.2 L680.4,1065.6 L685.3,1060.3 L690.2,1065.6 L695.2,1056.2" stroke-width="0.8"/><path d="M680.4,1065.6 L685.3,1072.2 L690.2,1065.6" stroke-width="0.8"/><line x1="674.2" y1="1053.7" x2="696.4" y2="1053.7" stroke-width="0.5"/><line x1="685.3" y1="1033.2" x2="685.3" y2="1074.2" stroke-width="0.8"/><circle cx="685.3" cy="1053.7" r="1" fill="#000" stroke="none"/><circle cx="685.3" cy="1070.5" r="0.9" fill="#000" stroke="none"/><circle cx="685.3" cy="1036.1" r="0.9" stroke-width="0.6"/><path d="M703,1033.2 C718.6,1041.8 718.6,1065.6 703,1074.2 C687.4,1065.6 687.4,1041.8 703,1033.2 Z" stroke-width="1.15"/><path d="M703,1034.2 C716.7,1042.4 716.7,1065 703,1073.2 C689.3,1065 689.3,1042.4 703,1034.2 Z" stroke-width="0.55"/><path d="M694.2,1053.7 L698.5,1048.4 L702.7,1053.7 L698.5,1059 Z" stroke-width="0.8"/><line x1="698.5" y1="1041.8" x2="698.5" y2="1048.4" stroke-width="0.7"/><line x1="698.5" y1="1065.6" x2="698.5" y2="1059" stroke-width="0.7"/><line x1="694.6" y1="1044.5" x2="694.6" y2="1062.9" stroke-width="0.5"/><path d="M711.8,1053.7 L707.5,1048.4 L703.3,1053.7 L707.5,1059 Z" stroke-width="0.8"/><line x1="707.5" y1="1041.8" x2="707.5" y2="1048.4" stroke-width="0.7"/><line x1="707.5" y1="1065.6" x2="707.5" y2="1059" stroke-width="0.7"/><line x1="711.4" y1="1044.5" x2="711.4" y2="1062.9" stroke-width="0.5"/><path d="M693.9,1051.2 L698.5,1041.8 L703,1047.1 L707.5,1041.8 L712.1,1051.2" stroke-width="0.8"/><path d="M698.5,1041.8 L703,1035.2 L707.5,1041.8" stroke-width="0.8"/><path d="M693.9,1056.2 L698.5,1065.6 L703,1060.3 L707.5,1065.6 L712.1,1056.2" stroke-width="0.8"/><path d="M698.5,1065.6 L703,1072.2 L707.5,1065.6" stroke-width="0.8"/><line x1="692.8" y1="1053.7" x2="713.2" y2="1053.7" stroke-width="0.5"/><line x1="703" y1="1033.2" x2="703" y2="1074.2" stroke-width="0.8"/><circle cx="703" cy="1053.7" r="1" fill="#000" stroke="none"/><circle cx="703" cy="1070.5" r="0.9" fill="#000" stroke="none"/><circle cx="703" cy="1036.1" r="0.9" stroke-width="0.6"/><path d="M600,1083.2 C615.6,1091.8 615.6,1115.6 600,1124.2 C584.4,1115.6 584.4,1091.8 600,1083.2 Z" stroke-width="1.15"/><path d="M600,1084.2 C613.7,1092.4 613.7,1115 600,1123.2 C586.3,1115 586.3,1092.4 600,1084.2 Z" stroke-width="0.55"/><path d="M591.2,1103.7 L595.5,1098.4 L599.7,1103.7 L595.5,1109 Z" stroke-width="0.8"/><line x1="595.5" y1="1091.8" x2="595.5" y2="1098.4" stroke-width="0.7"/><line x1="595.5" y1="1115.6" x2="595.5" y2="1109" stroke-width="0.7"/><line x1="591.6" y1="1094.5" x2="591.6" y2="1112.9" stroke-width="0.5"/><path d="M608.8,1103.7 L604.5,1098.4 L600.3,1103.7 L604.5,1109 Z" stroke-width="0.8"/><line x1="604.5" y1="1091.8" x2="604.5" y2="1098.4" stroke-width="0.7"/><line x1="604.5" y1="1115.6" x2="604.5" y2="1109" stroke-width="0.7"/><line x1="608.4" y1="1094.5" x2="608.4" y2="1112.9" stroke-width="0.5"/><path d="M590.9,1101.2 L595.5,1091.8 L600,1097.1 L604.5,1091.8 L609.1,1101.2" stroke-width="0.8"/><path d="M595.5,1091.8 L600,1085.2 L604.5,1091.8" stroke-width="0.8"/><path d="M590.9,1106.2 L595.5,1115.6 L600,1110.3 L604.5,1115.6 L609.1,1106.2" stroke-width="0.8"/><path d="M595.5,1115.6 L600,1122.2 L604.5,1115.6" stroke-width="0.8"/><line x1="589.8" y1="1103.7" x2="610.2" y2="1103.7" stroke-width="0.5"/><line x1="600" y1="1083.2" x2="600" y2="1124.2" stroke-width="0.8"/><circle cx="600" cy="1103.7" r="1" fill="#000" stroke="none"/><circle cx="600" cy="1120.5" r="0.9" fill="#000" stroke="none"/><circle cx="600" cy="1086.1" r="0.9" stroke-width="0.6"/><path d="M620.7,1083.2 C637.7,1091.8 637.7,1115.6 620.7,1124.2 C603.7,1115.6 603.7,1091.8 620.7,1083.2 Z" stroke-width="1.15"/><path d="M620.7,1084.2 C635.6,1092.4 635.6,1115 620.7,1123.2 C605.8,1115 605.8,1092.4 620.7,1084.2 Z" stroke-width="0.55"/><path d="M611.1,1103.7 L615.8,1098.4 L620.3,1103.7 L615.8,1109 Z" stroke-width="0.8"/><line x1="615.8" y1="1091.8" x2="615.8" y2="1098.4" stroke-width="0.7"/><line x1="615.8" y1="1115.6" x2="615.8" y2="1109" stroke-width="0.7"/><line x1="611.6" y1="1094.5" x2="611.6" y2="1112.9" stroke-width="0.5"/><path d="M630.3,1103.7 L625.6,1098.4 L621.1,1103.7 L625.6,1109 Z" stroke-width="0.8"/><line x1="625.6" y1="1091.8" x2="625.6" y2="1098.4" stroke-width="0.7"/><line x1="625.6" y1="1115.6" x2="625.6" y2="1109" stroke-width="0.7"/><line x1="629.8" y1="1094.5" x2="629.8" y2="1112.9" stroke-width="0.5"/><path d="M610.8,1101.2 L615.8,1091.8 L620.7,1097.1 L625.6,1091.8 L630.6,1101.2" stroke-width="0.8"/><path d="M615.8,1091.8 L620.7,1085.2 L625.6,1091.8" stroke-width="0.8"/><path d="M610.8,1106.2 L615.8,1115.6 L620.7,1110.3 L625.6,1115.6 L630.6,1106.2" stroke-width="0.8"/><path d="M615.8,1115.6 L620.7,1122.2 L625.6,1115.6" stroke-width="0.8"/><line x1="609.6" y1="1103.7" x2="631.8" y2="1103.7" stroke-width="0.5"/><line x1="620.7" y1="1083.2" x2="620.7" y2="1124.2" stroke-width="0.8"/><circle cx="620.7" cy="1103.7" r="1" fill="#000" stroke="none"/><circle cx="620.7" cy="1120.5" r="0.9" fill="#000" stroke="none"/><circle cx="620.7" cy="1086.1" r="0.9" stroke-width="0.6"/><path d="M651,1083.2 C668,1091.8 668,1115.6 651,1124.2 C634,1115.6 634,1091.8 651,1083.2 Z" stroke-width="1.15"/><path d="M651,1084.2 C665.9,1092.4 665.9,1115 651,1123.2 C636.1,1115 636.1,1092.4 651,1084.2 Z" stroke-width="0.55"/><path d="M641.4,1103.7 L646.1,1098.4 L650.6,1103.7 L646.1,1109 Z" stroke-width="0.8"/><line x1="646.1" y1="1091.8" x2="646.1" y2="1098.4" stroke-width="0.7"/><line x1="646.1" y1="1115.6" x2="646.1" y2="1109" stroke-width="0.7"/><line x1="641.9" y1="1094.5" x2="641.9" y2="1112.9" stroke-width="0.5"/><path d="M660.6,1103.7 L655.9,1098.4 L651.4,1103.7 L655.9,1109 Z" stroke-width="0.8"/><line x1="655.9" y1="1091.8" x2="655.9" y2="1098.4" stroke-width="0.7"/><line x1="655.9" y1="1115.6" x2="655.9" y2="1109" stroke-width="0.7"/><line x1="660.1" y1="1094.5" x2="660.1" y2="1112.9" stroke-width="0.5"/><path d="M641.1,1101.2 L646.1,1091.8 L651,1097.1 L655.9,1091.8 L660.9,1101.2" stroke-width="0.8"/><path d="M646.1,1091.8 L651,1085.2 L655.9,1091.8" stroke-width="0.8"/><path d="M641.1,1106.2 L646.1,1115.6 L651,1110.3 L655.9,1115.6 L660.9,1106.2" stroke-width="0.8"/><path d="M646.1,1115.6 L651,1122.2 L655.9,1115.6" stroke-width="0.8"/><line x1="639.9" y1="1103.7" x2="662.1" y2="1103.7" stroke-width="0.5"/><line x1="651" y1="1083.2" x2="651" y2="1124.2" stroke-width="0.8"/><circle cx="651" cy="1103.7" r="1" fill="#000" stroke="none"/><circle cx="651" cy="1120.5" r="0.9" fill="#000" stroke="none"/><circle cx="651" cy="1086.1" r="0.9" stroke-width="0.6"/><path d="M685.3,1083.2 C702.3,1091.8 702.3,1115.6 685.3,1124.2 C668.3,1115.6 668.3,1091.8 685.3,1083.2 Z" stroke-width="1.15"/><path d="M685.3,1084.2 C700.2,1092.4 700.2,1115 685.3,1123.2 C670.4,1115 670.4,1092.4 685.3,1084.2 Z" stroke-width="0.55"/><path d="M675.7,1103.7 L680.4,1098.4 L684.9,1103.7 L680.4,1109 Z" stroke-width="0.8"/><line x1="680.4" y1="1091.8" x2="680.4" y2="1098.4" stroke-width="0.7"/><line x1="680.4" y1="1115.6" x2="680.4" y2="1109" stroke-width="0.7"/><line x1="676.2" y1="1094.5" x2="676.2" y2="1112.9" stroke-width="0.5"/><path d="M694.9,1103.7 L690.2,1098.4 L685.7,1103.7 L690.2,1109 Z" stroke-width="0.8"/><line x1="690.2" y1="1091.8" x2="690.2" y2="1098.4" stroke-width="0.7"/><line x1="690.2" y1="1115.6" x2="690.2" y2="1109" stroke-width="0.7"/><line x1="694.4" y1="1094.5" x2="694.4" y2="1112.9" stroke-width="0.5"/><path d="M675.4,1101.2 L680.4,1091.8 L685.3,1097.1 L690.2,1091.8 L695.2,1101.2" stroke-width="0.8"/><path d="M680.4,1091.8 L685.3,1085.2 L690.2,1091.8" stroke-width="0.8"/><path d="M675.4,1106.2 L680.4,1115.6 L685.3,1110.3 L690.2,1115.6 L695.2,1106.2" stroke-width="0.8"/><path d="M680.4,1115.6 L685.3,1122.2 L690.2,1115.6" stroke-width="0.8"/><line x1="674.2" y1="1103.7" x2="696.4" y2="1103.7" stroke-width="0.5"/><line x1="685.3" y1="1083.2" x2="685.3" y2="1124.2" stroke-width="0.8"/><circle cx="685.3" cy="1103.7" r="1" fill="#000" stroke="none"/><circle cx="685.3" cy="1120.5" r="0.9" fill="#000" stroke="none"/><circle cx="685.3" cy="1086.1" r="0.9" stroke-width="0.6"/><path d="M703,1083.2 C718.6,1091.8 718.6,1115.6 703,1124.2 C687.4,1115.6 687.4,1091.8 703,1083.2 Z" stroke-width="1.15"/><path d="M703,1084.2 C716.7,1092.4 716.7,1115 703,1123.2 C689.3,1115 689.3,1092.4 703,1084.2 Z" stroke-width="0.55"/><path d="M694.2,1103.7 L698.5,1098.4 L702.7,1103.7 L698.5,1109 Z" stroke-width="0.8"/><line x1="698.5" y1="1091.8" x2="698.5" y2="1098.4" stroke-width="0.7"/><line x1="698.5" y1="1115.6" x2="698.5" y2="1109" stroke-width="0.7"/><line x1="694.6" y1="1094.5" x2="694.6" y2="1112.9" stroke-width="0.5"/><path d="M711.8,1103.7 L707.5,1098.4 L703.3,1103.7 L707.5,1109 Z" stroke-width="0.8"/><line x1="707.5" y1="1091.8" x2="707.5" y2="1098.4" stroke-width="0.7"/><line x1="707.5" y1="1115.6" x2="707.5" y2="1109" stroke-width="0.7"/><line x1="711.4" y1="1094.5" x2="711.4" y2="1112.9" stroke-width="0.5"/><path d="M693.9,1101.2 L698.5,1091.8 L703,1097.1 L707.5,1091.8 L712.1,1101.2" stroke-width="0.8"/><path d="M698.5,1091.8 L703,1085.2 L707.5,1091.8" stroke-width="0.8"/><path d="M693.9,1106.2 L698.5,1115.6 L703,1110.3 L707.5,1115.6 L712.1,1106.2" stroke-width="0.8"/><path d="M698.5,1115.6 L703,1122.2 L707.5,1115.6" stroke-width="0.8"/><line x1="692.8" y1="1103.7" x2="713.2" y2="1103.7" stroke-width="0.5"/><line x1="703" y1="1083.2" x2="703" y2="1124.2" stroke-width="0.8"/><circle cx="703" cy="1103.7" r="1" fill="#000" stroke="none"/><circle cx="703" cy="1120.5" r="0.9" fill="#000" stroke="none"/><circle cx="703" cy="1086.1" r="0.9" stroke-width="0.6"/><path d="M600,1133.2 C615.6,1141.8 615.6,1165.6 600,1174.2 C584.4,1165.6 584.4,1141.8 600,1133.2 Z" stroke-width="1.15"/><path d="M600,1134.2 C613.7,1142.4 613.7,1165 600,1173.2 C586.3,1165 586.3,1142.4 600,1134.2 Z" stroke-width="0.55"/><path d="M591.2,1153.7 L595.5,1148.4 L599.7,1153.7 L595.5,1159 Z" stroke-width="0.8"/><line x1="595.5" y1="1141.8" x2="595.5" y2="1148.4" stroke-width="0.7"/><line x1="595.5" y1="1165.6" x2="595.5" y2="1159" stroke-width="0.7"/><line x1="591.6" y1="1144.5" x2="591.6" y2="1162.9" stroke-width="0.5"/><path d="M608.8,1153.7 L604.5,1148.4 L600.3,1153.7 L604.5,1159 Z" stroke-width="0.8"/><line x1="604.5" y1="1141.8" x2="604.5" y2="1148.4" stroke-width="0.7"/><line x1="604.5" y1="1165.6" x2="604.5" y2="1159" stroke-width="0.7"/><line x1="608.4" y1="1144.5" x2="608.4" y2="1162.9" stroke-width="0.5"/><path d="M590.9,1151.2 L595.5,1141.8 L600,1147.1 L604.5,1141.8 L609.1,1151.2" stroke-width="0.8"/><path d="M595.5,1141.8 L600,1135.2 L604.5,1141.8" stroke-width="0.8"/><path d="M590.9,1156.2 L595.5,1165.6 L600,1160.3 L604.5,1165.6 L609.1,1156.2" stroke-width="0.8"/><path d="M595.5,1165.6 L600,1172.2 L604.5,1165.6" stroke-width="0.8"/><line x1="589.8" y1="1153.7" x2="610.2" y2="1153.7" stroke-width="0.5"/><line x1="600" y1="1133.2" x2="600" y2="1174.2" stroke-width="0.8"/><circle cx="600" cy="1153.7" r="1" fill="#000" stroke="none"/><circle cx="600" cy="1170.5" r="0.9" fill="#000" stroke="none"/><circle cx="600" cy="1136.1" r="0.9" stroke-width="0.6"/><path d="M620.7,1133.2 C637.7,1141.8 637.7,1165.6 620.7,1174.2 C603.7,1165.6 603.7,1141.8 620.7,1133.2 Z" stroke-width="1.15"/><path d="M620.7,1134.2 C635.6,1142.4 635.6,1165 620.7,1173.2 C605.8,1165 605.8,1142.4 620.7,1134.2 Z" stroke-width="0.55"/><path d="M611.1,1153.7 L615.8,1148.4 L620.3,1153.7 L615.8,1159 Z" stroke-width="0.8"/><line x1="615.8" y1="1141.8" x2="615.8" y2="1148.4" stroke-width="0.7"/><line x1="615.8" y1="1165.6" x2="615.8" y2="1159" stroke-width="0.7"/><line x1="611.6" y1="1144.5" x2="611.6" y2="1162.9" stroke-width="0.5"/><path d="M630.3,1153.7 L625.6,1148.4 L621.1,1153.7 L625.6,1159 Z" stroke-width="0.8"/><line x1="625.6" y1="1141.8" x2="625.6" y2="1148.4" stroke-width="0.7"/><line x1="625.6" y1="1165.6" x2="625.6" y2="1159" stroke-width="0.7"/><line x1="629.8" y1="1144.5" x2="629.8" y2="1162.9" stroke-width="0.5"/><path d="M610.8,1151.2 L615.8,1141.8 L620.7,1147.1 L625.6,1141.8 L630.6,1151.2" stroke-width="0.8"/><path d="M615.8,1141.8 L620.7,1135.2 L625.6,1141.8" stroke-width="0.8"/><path d="M610.8,1156.2 L615.8,1165.6 L620.7,1160.3 L625.6,1165.6 L630.6,1156.2" stroke-width="0.8"/><path d="M615.8,1165.6 L620.7,1172.2 L625.6,1165.6" stroke-width="0.8"/><line x1="609.6" y1="1153.7" x2="631.8" y2="1153.7" stroke-width="0.5"/><line x1="620.7" y1="1133.2" x2="620.7" y2="1174.2" stroke-width="0.8"/><circle cx="620.7" cy="1153.7" r="1" fill="#000" stroke="none"/><circle cx="620.7" cy="1170.5" r="0.9" fill="#000" stroke="none"/><circle cx="620.7" cy="1136.1" r="0.9" stroke-width="0.6"/><path d="M651,1133.2 C668,1141.8 668,1165.6 651,1174.2 C634,1165.6 634,1141.8 651,1133.2 Z" stroke-width="1.15"/><path d="M651,1134.2 C665.9,1142.4 665.9,1165 651,1173.2 C636.1,1165 636.1,1142.4 651,1134.2 Z" stroke-width="0.55"/><path d="M641.4,1153.7 L646.1,1148.4 L650.6,1153.7 L646.1,1159 Z" stroke-width="0.8"/><line x1="646.1" y1="1141.8" x2="646.1" y2="1148.4" stroke-width="0.7"/><line x1="646.1" y1="1165.6" x2="646.1" y2="1159" stroke-width="0.7"/><line x1="641.9" y1="1144.5" x2="641.9" y2="1162.9" stroke-width="0.5"/><path d="M660.6,1153.7 L655.9,1148.4 L651.4,1153.7 L655.9,1159 Z" stroke-width="0.8"/><line x1="655.9" y1="1141.8" x2="655.9" y2="1148.4" stroke-width="0.7"/><line x1="655.9" y1="1165.6" x2="655.9" y2="1159" stroke-width="0.7"/><line x1="660.1" y1="1144.5" x2="660.1" y2="1162.9" stroke-width="0.5"/><path d="M641.1,1151.2 L646.1,1141.8 L651,1147.1 L655.9,1141.8 L660.9,1151.2" stroke-width="0.8"/><path d="M646.1,1141.8 L651,1135.2 L655.9,1141.8" stroke-width="0.8"/><path d="M641.1,1156.2 L646.1,1165.6 L651,1160.3 L655.9,1165.6 L660.9,1156.2" stroke-width="0.8"/><path d="M646.1,1165.6 L651,1172.2 L655.9,1165.6" stroke-width="0.8"/><line x1="639.9" y1="1153.7" x2="662.1" y2="1153.7" stroke-width="0.5"/><line x1="651" y1="1133.2" x2="651" y2="1174.2" stroke-width="0.8"/><circle cx="651" cy="1153.7" r="1" fill="#000" stroke="none"/><circle cx="651" cy="1170.5" r="0.9" fill="#000" stroke="none"/><circle cx="651" cy="1136.1" r="0.9" stroke-width="0.6"/><path d="M685.3,1133.2 C702.3,1141.8 702.3,1165.6 685.3,1174.2 C668.3,1165.6 668.3,1141.8 685.3,1133.2 Z" stroke-width="1.15"/><path d="M685.3,1134.2 C700.2,1142.4 700.2,1165 685.3,1173.2 C670.4,1165 670.4,1142.4 685.3,1134.2 Z" stroke-width="0.55"/><path d="M675.7,1153.7 L680.4,1148.4 L684.9,1153.7 L680.4,1159 Z" stroke-width="0.8"/><line x1="680.4" y1="1141.8" x2="680.4" y2="1148.4" stroke-width="0.7"/><line x1="680.4" y1="1165.6" x2="680.4" y2="1159" stroke-width="0.7"/><line x1="676.2" y1="1144.5" x2="676.2" y2="1162.9" stroke-width="0.5"/><path d="M694.9,1153.7 L690.2,1148.4 L685.7,1153.7 L690.2,1159 Z" stroke-width="0.8"/><line x1="690.2" y1="1141.8" x2="690.2" y2="1148.4" stroke-width="0.7"/><line x1="690.2" y1="1165.6" x2="690.2" y2="1159" stroke-width="0.7"/><line x1="694.4" y1="1144.5" x2="694.4" y2="1162.9" stroke-width="0.5"/><path d="M675.4,1151.2 L680.4,1141.8 L685.3,1147.1 L690.2,1141.8 L695.2,1151.2" stroke-width="0.8"/><path d="M680.4,1141.8 L685.3,1135.2 L690.2,1141.8" stroke-width="0.8"/><path d="M675.4,1156.2 L680.4,1165.6 L685.3,1160.3 L690.2,1165.6 L695.2,1156.2" stroke-width="0.8"/><path d="M680.4,1165.6 L685.3,1172.2 L690.2,1165.6" stroke-width="0.8"/><line x1="674.2" y1="1153.7" x2="696.4" y2="1153.7" stroke-width="0.5"/><line x1="685.3" y1="1133.2" x2="685.3" y2="1174.2" stroke-width="0.8"/><circle cx="685.3" cy="1153.7" r="1" fill="#000" stroke="none"/><circle cx="685.3" cy="1170.5" r="0.9" fill="#000" stroke="none"/><circle cx="685.3" cy="1136.1" r="0.9" stroke-width="0.6"/><path d="M703,1133.2 C718.6,1141.8 718.6,1165.6 703,1174.2 C687.4,1165.6 687.4,1141.8 703,1133.2 Z" stroke-width="1.15"/><path d="M703,1134.2 C716.7,1142.4 716.7,1165 703,1173.2 C689.3,1165 689.3,1142.4 703,1134.2 Z" stroke-width="0.55"/><path d="M694.2,1153.7 L698.5,1148.4 L702.7,1153.7 L698.5,1159 Z" stroke-width="0.8"/><line x1="698.5" y1="1141.8" x2="698.5" y2="1148.4" stroke-width="0.7"/><line x1="698.5" y1="1165.6" x2="698.5" y2="1159" stroke-width="0.7"/><line x1="694.6" y1="1144.5" x2="694.6" y2="1162.9" stroke-width="0.5"/><path d="M711.8,1153.7 L707.5,1148.4 L703.3,1153.7 L707.5,1159 Z" stroke-width="0.8"/><line x1="707.5" y1="1141.8" x2="707.5" y2="1148.4" stroke-width="0.7"/><line x1="707.5" y1="1165.6" x2="707.5" y2="1159" stroke-width="0.7"/><line x1="711.4" y1="1144.5" x2="711.4" y2="1162.9" stroke-width="0.5"/><path d="M693.9,1151.2 L698.5,1141.8 L703,1147.1 L707.5,1141.8 L712.1,1151.2" stroke-width="0.8"/><path d="M698.5,1141.8 L703,1135.2 L707.5,1141.8" stroke-width="0.8"/><path d="M693.9,1156.2 L698.5,1165.6 L703,1160.3 L707.5,1165.6 L712.1,1156.2" stroke-width="0.8"/><path d="M698.5,1165.6 L703,1172.2 L707.5,1165.6" stroke-width="0.8"/><line x1="692.8" y1="1153.7" x2="713.2" y2="1153.7" stroke-width="0.5"/><line x1="703" y1="1133.2" x2="703" y2="1174.2" stroke-width="0.8"/><circle cx="703" cy="1153.7" r="1" fill="#000" stroke="none"/><circle cx="703" cy="1170.5" r="0.9" fill="#000" stroke="none"/><circle cx="703" cy="1136.1" r="0.9" stroke-width="0.6"/><line x1="620" y1="1174.2" x2="620" y2="1192.2" stroke-width="0.9"/><circle cx="620" cy="1183.2" r="4" stroke-width="1.25" fill="#4e4e4e"/><circle cx="620" cy="1180.8" r="0.6" fill="#fff" stroke="none"/><circle cx="622.3" cy="1182.5" r="0.6" fill="#fff" stroke="none"/><circle cx="621.4" cy="1185.1" r="0.6" fill="#fff" stroke="none"/><circle cx="618.6" cy="1185.1" r="0.6" fill="#fff" stroke="none"/><circle cx="617.7" cy="1182.5" r="0.6" fill="#fff" stroke="none"/><circle cx="620" cy="1190.2" r="1.6" stroke-width="0.9"/><line x1="684" y1="1174.2" x2="684" y2="1192.2" stroke-width="0.9"/><circle cx="684" cy="1183.2" r="4" stroke-width="1.25" fill="#4e4e4e"/><circle cx="684" cy="1180.8" r="0.6" fill="#fff" stroke="none"/><circle cx="686.3" cy="1182.5" r="0.6" fill="#fff" stroke="none"/><circle cx="685.4" cy="1185.1" r="0.6" fill="#fff" stroke="none"/><circle cx="682.6" cy="1185.1" r="0.6" fill="#fff" stroke="none"/><circle cx="681.7" cy="1182.5" r="0.6" fill="#fff" stroke="none"/><circle cx="684" cy="1190.2" r="1.6" stroke-width="0.9"/><circle cx="606.5" cy="1033.7" r="6.4" stroke-width="1.25" fill="#4e4e4e"/><circle cx="606.5" cy="1029.9" r="1" fill="#fff" stroke="none"/><circle cx="609.5" cy="1031.3" r="1" fill="#fff" stroke="none"/><circle cx="610.2" cy="1034.6" r="1" fill="#fff" stroke="none"/><circle cx="608.2" cy="1037.2" r="1" fill="#fff" stroke="none"/><circle cx="604.8" cy="1037.2" r="1" fill="#fff" stroke="none"/><circle cx="602.8" cy="1034.6" r="1" fill="#fff" stroke="none"/><circle cx="603.5" cy="1031.3" r="1" fill="#fff" stroke="none"/><circle cx="606.5" cy="1044.2" r="4.1" stroke-width="1.25" fill="#4e4e4e"/><circle cx="606.5" cy="1041.7" r="0.7" fill="#fff" stroke="none"/><circle cx="608.8" cy="1043.4" r="0.7" fill="#fff" stroke="none"/><circle cx="607.9" cy="1046.2" r="0.7" fill="#fff" stroke="none"/><circle cx="605.1" cy="1046.2" r="0.7" fill="#fff" stroke="none"/><circle cx="604.2" cy="1043.4" r="0.7" fill="#fff" stroke="none"/><circle cx="606.5" cy="1053.9" r="4.1" stroke-width="1.25" fill="#4e4e4e"/><circle cx="606.5" cy="1051.4" r="0.7" fill="#fff" stroke="none"/><circle cx="608.8" cy="1053.1" r="0.7" fill="#fff" stroke="none"/><circle cx="607.9" cy="1055.9" r="0.7" fill="#fff" stroke="none"/><circle cx="605.1" cy="1055.9" r="0.7" fill="#fff" stroke="none"/><circle cx="604.2" cy="1053.1" r="0.7" fill="#fff" stroke="none"/><circle cx="606.5" cy="1063.5" r="4.1" stroke-width="1.25" fill="#4e4e4e"/><circle cx="606.5" cy="1061.1" r="0.7" fill="#fff" stroke="none"/><circle cx="608.8" cy="1062.8" r="0.7" fill="#fff" stroke="none"/><circle cx="607.9" cy="1065.5" r="0.7" fill="#fff" stroke="none"/><circle cx="605.1" cy="1065.5" r="0.7" fill="#fff" stroke="none"/><circle cx="604.2" cy="1062.8" r="0.7" fill="#fff" stroke="none"/><circle cx="606.5" cy="1073.2" r="4.1" stroke-width="1.25" fill="#4e4e4e"/><circle cx="606.5" cy="1070.7" r="0.7" fill="#fff" stroke="none"/><circle cx="608.8" cy="1072.4" r="0.7" fill="#fff" stroke="none"/><circle cx="607.9" cy="1075.2" r="0.7" fill="#fff" stroke="none"/><circle cx="605.1" cy="1075.2" r="0.7" fill="#fff" stroke="none"/><circle cx="604.2" cy="1072.4" r="0.7" fill="#fff" stroke="none"/><circle cx="606.5" cy="1083.7" r="6.4" stroke-width="1.25" fill="#4e4e4e"/><circle cx="606.5" cy="1079.9" r="1" fill="#fff" stroke="none"/><circle cx="609.5" cy="1081.3" r="1" fill="#fff" stroke="none"/><circle cx="610.2" cy="1084.6" r="1" fill="#fff" stroke="none"/><circle cx="608.2" cy="1087.2" r="1" fill="#fff" stroke="none"/><circle cx="604.8" cy="1087.2" r="1" fill="#fff" stroke="none"/><circle cx="602.8" cy="1084.6" r="1" fill="#fff" stroke="none"/><circle cx="603.5" cy="1081.3" r="1" fill="#fff" stroke="none"/><circle cx="606.5" cy="1094.2" r="4.1" stroke-width="1.25" fill="#4e4e4e"/><circle cx="606.5" cy="1091.7" r="0.7" fill="#fff" stroke="none"/><circle cx="608.8" cy="1093.4" r="0.7" fill="#fff" stroke="none"/><circle cx="607.9" cy="1096.2" r="0.7" fill="#fff" stroke="none"/><circle cx="605.1" cy="1096.2" r="0.7" fill="#fff" stroke="none"/><circle cx="604.2" cy="1093.4" r="0.7" fill="#fff" stroke="none"/><circle cx="606.5" cy="1103.9" r="4.1" stroke-width="1.25" fill="#4e4e4e"/><circle cx="606.5" cy="1101.4" r="0.7" fill="#fff" stroke="none"/><circle cx="608.8" cy="1103.1" r="0.7" fill="#fff" stroke="none"/><circle cx="607.9" cy="1105.9" r="0.7" fill="#fff" stroke="none"/><circle cx="605.1" cy="1105.9" r="0.7" fill="#fff" stroke="none"/><circle cx="604.2" cy="1103.1" r="0.7" fill="#fff" stroke="none"/><circle cx="606.5" cy="1113.5" r="4.1" stroke-width="1.25" fill="#4e4e4e"/><circle cx="606.5" cy="1111.1" r="0.7" fill="#fff" stroke="none"/><circle cx="608.8" cy="1112.8" r="0.7" fill="#fff" stroke="none"/><circle cx="607.9" cy="1115.5" r="0.7" fill="#fff" stroke="none"/><circle cx="605.1" cy="1115.5" r="0.7" fill="#fff" stroke="none"/><circle cx="604.2" cy="1112.8" r="0.7" fill="#fff" stroke="none"/><circle cx="606.5" cy="1123.2" r="4.1" stroke-width="1.25" fill="#4e4e4e"/><circle cx="606.5" cy="1120.7" r="0.7" fill="#fff" stroke="none"/><circle cx="608.8" cy="1122.4" r="0.7" fill="#fff" stroke="none"/><circle cx="607.9" cy="1125.2" r="0.7" fill="#fff" stroke="none"/><circle cx="605.1" cy="1125.2" r="0.7" fill="#fff" stroke="none"/><circle cx="604.2" cy="1122.4" r="0.7" fill="#fff" stroke="none"/><circle cx="606.5" cy="1133.7" r="6.4" stroke-width="1.25" fill="#4e4e4e"/><circle cx="606.5" cy="1129.9" r="1" fill="#fff" stroke="none"/><circle cx="609.5" cy="1131.3" r="1" fill="#fff" stroke="none"/><circle cx="610.2" cy="1134.6" r="1" fill="#fff" stroke="none"/><circle cx="608.2" cy="1137.2" r="1" fill="#fff" stroke="none"/><circle cx="604.8" cy="1137.2" r="1" fill="#fff" stroke="none"/><circle cx="602.8" cy="1134.6" r="1" fill="#fff" stroke="none"/><circle cx="603.5" cy="1131.3" r="1" fill="#fff" stroke="none"/><circle cx="606.5" cy="1144.2" r="4.1" stroke-width="1.25" fill="#4e4e4e"/><circle cx="606.5" cy="1141.7" r="0.7" fill="#fff" stroke="none"/><circle cx="608.8" cy="1143.4" r="0.7" fill="#fff" stroke="none"/><circle cx="607.9" cy="1146.2" r="0.7" fill="#fff" stroke="none"/><circle cx="605.1" cy="1146.2" r="0.7" fill="#fff" stroke="none"/><circle cx="604.2" cy="1143.4" r="0.7" fill="#fff" stroke="none"/><circle cx="606.5" cy="1153.9" r="4.1" stroke-width="1.25" fill="#4e4e4e"/><circle cx="606.5" cy="1151.4" r="0.7" fill="#fff" stroke="none"/><circle cx="608.8" cy="1153.1" r="0.7" fill="#fff" stroke="none"/><circle cx="607.9" cy="1155.9" r="0.7" fill="#fff" stroke="none"/><circle cx="605.1" cy="1155.9" r="0.7" fill="#fff" stroke="none"/><circle cx="604.2" cy="1153.1" r="0.7" fill="#fff" stroke="none"/><circle cx="606.5" cy="1163.5" r="4.1" stroke-width="1.25" fill="#4e4e4e"/><circle cx="606.5" cy="1161.1" r="0.7" fill="#fff" stroke="none"/><circle cx="608.8" cy="1162.8" r="0.7" fill="#fff" stroke="none"/><circle cx="607.9" cy="1165.5" r="0.7" fill="#fff" stroke="none"/><circle cx="605.1" cy="1165.5" r="0.7" fill="#fff" stroke="none"/><circle cx="604.2" cy="1162.8" r="0.7" fill="#fff" stroke="none"/><circle cx="606.5" cy="1173.2" r="4.1" stroke-width="1.25" fill="#4e4e4e"/><circle cx="606.5" cy="1170.7" r="0.7" fill="#fff" stroke="none"/><circle cx="608.8" cy="1172.4" r="0.7" fill="#fff" stroke="none"/><circle cx="607.9" cy="1175.2" r="0.7" fill="#fff" stroke="none"/><circle cx="605.1" cy="1175.2" r="0.7" fill="#fff" stroke="none"/><circle cx="604.2" cy="1172.4" r="0.7" fill="#fff" stroke="none"/><circle cx="606.5" cy="1183.7" r="6.4" stroke-width="1.25" fill="#4e4e4e"/><circle cx="606.5" cy="1179.9" r="1" fill="#fff" stroke="none"/><circle cx="609.5" cy="1181.3" r="1" fill="#fff" stroke="none"/><circle cx="610.2" cy="1184.6" r="1" fill="#fff" stroke="none"/><circle cx="608.2" cy="1187.2" r="1" fill="#fff" stroke="none"/><circle cx="604.8" cy="1187.2" r="1" fill="#fff" stroke="none"/><circle cx="602.8" cy="1184.6" r="1" fill="#fff" stroke="none"/><circle cx="603.5" cy="1181.3" r="1" fill="#fff" stroke="none"/><circle cx="606.5" cy="1193.7" r="4.1" stroke-width="1.25" fill="#4e4e4e"/><circle cx="606.5" cy="1191.2" r="0.7" fill="#fff" stroke="none"/><circle cx="608.8" cy="1192.9" r="0.7" fill="#fff" stroke="none"/><circle cx="607.9" cy="1195.7" r="0.7" fill="#fff" stroke="none"/><circle cx="605.1" cy="1195.7" r="0.7" fill="#fff" stroke="none"/><circle cx="604.2" cy="1192.9" r="0.7" fill="#fff" stroke="none"/><circle cx="633.5" cy="1033.7" r="6.4" stroke-width="1.25" fill="#4e4e4e"/><circle cx="633.5" cy="1029.9" r="1" fill="#fff" stroke="none"/><circle cx="636.5" cy="1031.3" r="1" fill="#fff" stroke="none"/><circle cx="637.2" cy="1034.6" r="1" fill="#fff" stroke="none"/><circle cx="635.2" cy="1037.2" r="1" fill="#fff" stroke="none"/><circle cx="631.8" cy="1037.2" r="1" fill="#fff" stroke="none"/><circle cx="629.8" cy="1034.6" r="1" fill="#fff" stroke="none"/><circle cx="630.5" cy="1031.3" r="1" fill="#fff" stroke="none"/><circle cx="633.5" cy="1044.2" r="4.1" stroke-width="1.25" fill="#4e4e4e"/><circle cx="633.5" cy="1041.7" r="0.7" fill="#fff" stroke="none"/><circle cx="635.8" cy="1043.4" r="0.7" fill="#fff" stroke="none"/><circle cx="634.9" cy="1046.2" r="0.7" fill="#fff" stroke="none"/><circle cx="632.1" cy="1046.2" r="0.7" fill="#fff" stroke="none"/><circle cx="631.2" cy="1043.4" r="0.7" fill="#fff" stroke="none"/><circle cx="633.5" cy="1053.9" r="4.1" stroke-width="1.25" fill="#4e4e4e"/><circle cx="633.5" cy="1051.4" r="0.7" fill="#fff" stroke="none"/><circle cx="635.8" cy="1053.1" r="0.7" fill="#fff" stroke="none"/><circle cx="634.9" cy="1055.9" r="0.7" fill="#fff" stroke="none"/><circle cx="632.1" cy="1055.9" r="0.7" fill="#fff" stroke="none"/><circle cx="631.2" cy="1053.1" r="0.7" fill="#fff" stroke="none"/><circle cx="633.5" cy="1063.5" r="4.1" stroke-width="1.25" fill="#4e4e4e"/><circle cx="633.5" cy="1061.1" r="0.7" fill="#fff" stroke="none"/><circle cx="635.8" cy="1062.8" r="0.7" fill="#fff" stroke="none"/><circle cx="634.9" cy="1065.5" r="0.7" fill="#fff" stroke="none"/><circle cx="632.1" cy="1065.5" r="0.7" fill="#fff" stroke="none"/><circle cx="631.2" cy="1062.8" r="0.7" fill="#fff" stroke="none"/><circle cx="633.5" cy="1073.2" r="4.1" stroke-width="1.25" fill="#4e4e4e"/><circle cx="633.5" cy="1070.7" r="0.7" fill="#fff" stroke="none"/><circle cx="635.8" cy="1072.4" r="0.7" fill="#fff" stroke="none"/><circle cx="634.9" cy="1075.2" r="0.7" fill="#fff" stroke="none"/><circle cx="632.1" cy="1075.2" r="0.7" fill="#fff" stroke="none"/><circle cx="631.2" cy="1072.4" r="0.7" fill="#fff" stroke="none"/><circle cx="633.5" cy="1083.7" r="6.4" stroke-width="1.25" fill="#4e4e4e"/><circle cx="633.5" cy="1079.9" r="1" fill="#fff" stroke="none"/><circle cx="636.5" cy="1081.3" r="1" fill="#fff" stroke="none"/><circle cx="637.2" cy="1084.6" r="1" fill="#fff" stroke="none"/><circle cx="635.2" cy="1087.2" r="1" fill="#fff" stroke="none"/><circle cx="631.8" cy="1087.2" r="1" fill="#fff" stroke="none"/><circle cx="629.8" cy="1084.6" r="1" fill="#fff" stroke="none"/><circle cx="630.5" cy="1081.3" r="1" fill="#fff" stroke="none"/><circle cx="633.5" cy="1094.2" r="4.1" stroke-width="1.25" fill="#4e4e4e"/><circle cx="633.5" cy="1091.7" r="0.7" fill="#fff" stroke="none"/><circle cx="635.8" cy="1093.4" r="0.7" fill="#fff" stroke="none"/><circle cx="634.9" cy="1096.2" r="0.7" fill="#fff" stroke="none"/><circle cx="632.1" cy="1096.2" r="0.7" fill="#fff" stroke="none"/><circle cx="631.2" cy="1093.4" r="0.7" fill="#fff" stroke="none"/><circle cx="633.5" cy="1103.9" r="4.1" stroke-width="1.25" fill="#4e4e4e"/><circle cx="633.5" cy="1101.4" r="0.7" fill="#fff" stroke="none"/><circle cx="635.8" cy="1103.1" r="0.7" fill="#fff" stroke="none"/><circle cx="634.9" cy="1105.9" r="0.7" fill="#fff" stroke="none"/><circle cx="632.1" cy="1105.9" r="0.7" fill="#fff" stroke="none"/><circle cx="631.2" cy="1103.1" r="0.7" fill="#fff" stroke="none"/><circle cx="633.5" cy="1113.5" r="4.1" stroke-width="1.25" fill="#4e4e4e"/><circle cx="633.5" cy="1111.1" r="0.7" fill="#fff" stroke="none"/><circle cx="635.8" cy="1112.8" r="0.7" fill="#fff" stroke="none"/><circle cx="634.9" cy="1115.5" r="0.7" fill="#fff" stroke="none"/><circle cx="632.1" cy="1115.5" r="0.7" fill="#fff" stroke="none"/><circle cx="631.2" cy="1112.8" r="0.7" fill="#fff" stroke="none"/><circle cx="633.5" cy="1123.2" r="4.1" stroke-width="1.25" fill="#4e4e4e"/><circle cx="633.5" cy="1120.7" r="0.7" fill="#fff" stroke="none"/><circle cx="635.8" cy="1122.4" r="0.7" fill="#fff" stroke="none"/><circle cx="634.9" cy="1125.2" r="0.7" fill="#fff" stroke="none"/><circle cx="632.1" cy="1125.2" r="0.7" fill="#fff" stroke="none"/><circle cx="631.2" cy="1122.4" r="0.7" fill="#fff" stroke="none"/><circle cx="633.5" cy="1133.7" r="6.4" stroke-width="1.25" fill="#4e4e4e"/><circle cx="633.5" cy="1129.9" r="1" fill="#fff" stroke="none"/><circle cx="636.5" cy="1131.3" r="1" fill="#fff" stroke="none"/><circle cx="637.2" cy="1134.6" r="1" fill="#fff" stroke="none"/><circle cx="635.2" cy="1137.2" r="1" fill="#fff" stroke="none"/><circle cx="631.8" cy="1137.2" r="1" fill="#fff" stroke="none"/><circle cx="629.8" cy="1134.6" r="1" fill="#fff" stroke="none"/><circle cx="630.5" cy="1131.3" r="1" fill="#fff" stroke="none"/><circle cx="633.5" cy="1144.2" r="4.1" stroke-width="1.25" fill="#4e4e4e"/><circle cx="633.5" cy="1141.7" r="0.7" fill="#fff" stroke="none"/><circle cx="635.8" cy="1143.4" r="0.7" fill="#fff" stroke="none"/><circle cx="634.9" cy="1146.2" r="0.7" fill="#fff" stroke="none"/><circle cx="632.1" cy="1146.2" r="0.7" fill="#fff" stroke="none"/><circle cx="631.2" cy="1143.4" r="0.7" fill="#fff" stroke="none"/><circle cx="633.5" cy="1153.9" r="4.1" stroke-width="1.25" fill="#4e4e4e"/><circle cx="633.5" cy="1151.4" r="0.7" fill="#fff" stroke="none"/><circle cx="635.8" cy="1153.1" r="0.7" fill="#fff" stroke="none"/><circle cx="634.9" cy="1155.9" r="0.7" fill="#fff" stroke="none"/><circle cx="632.1" cy="1155.9" r="0.7" fill="#fff" stroke="none"/><circle cx="631.2" cy="1153.1" r="0.7" fill="#fff" stroke="none"/><circle cx="633.5" cy="1163.5" r="4.1" stroke-width="1.25" fill="#4e4e4e"/><circle cx="633.5" cy="1161.1" r="0.7" fill="#fff" stroke="none"/><circle cx="635.8" cy="1162.8" r="0.7" fill="#fff" stroke="none"/><circle cx="634.9" cy="1165.5" r="0.7" fill="#fff" stroke="none"/><circle cx="632.1" cy="1165.5" r="0.7" fill="#fff" stroke="none"/><circle cx="631.2" cy="1162.8" r="0.7" fill="#fff" stroke="none"/><circle cx="633.5" cy="1173.2" r="4.1" stroke-width="1.25" fill="#4e4e4e"/><circle cx="633.5" cy="1170.7" r="0.7" fill="#fff" stroke="none"/><circle cx="635.8" cy="1172.4" r="0.7" fill="#fff" stroke="none"/><circle cx="634.9" cy="1175.2" r="0.7" fill="#fff" stroke="none"/><circle cx="632.1" cy="1175.2" r="0.7" fill="#fff" stroke="none"/><circle cx="631.2" cy="1172.4" r="0.7" fill="#fff" stroke="none"/><circle cx="633.5" cy="1183.7" r="6.4" stroke-width="1.25" fill="#4e4e4e"/><circle cx="633.5" cy="1179.9" r="1" fill="#fff" stroke="none"/><circle cx="636.5" cy="1181.3" r="1" fill="#fff" stroke="none"/><circle cx="637.2" cy="1184.6" r="1" fill="#fff" stroke="none"/><circle cx="635.2" cy="1187.2" r="1" fill="#fff" stroke="none"/><circle cx="631.8" cy="1187.2" r="1" fill="#fff" stroke="none"/><circle cx="629.8" cy="1184.6" r="1" fill="#fff" stroke="none"/><circle cx="630.5" cy="1181.3" r="1" fill="#fff" stroke="none"/><circle cx="633.5" cy="1193.7" r="4.1" stroke-width="1.25" fill="#4e4e4e"/><circle cx="633.5" cy="1191.2" r="0.7" fill="#fff" stroke="none"/><circle cx="635.8" cy="1192.9" r="0.7" fill="#fff" stroke="none"/><circle cx="634.9" cy="1195.7" r="0.7" fill="#fff" stroke="none"/><circle cx="632.1" cy="1195.7" r="0.7" fill="#fff" stroke="none"/><circle cx="631.2" cy="1192.9" r="0.7" fill="#fff" stroke="none"/><circle cx="671.5" cy="1033.7" r="6.4" stroke-width="1.25" fill="#4e4e4e"/><circle cx="671.5" cy="1029.9" r="1" fill="#fff" stroke="none"/><circle cx="674.5" cy="1031.3" r="1" fill="#fff" stroke="none"/><circle cx="675.2" cy="1034.6" r="1" fill="#fff" stroke="none"/><circle cx="673.2" cy="1037.2" r="1" fill="#fff" stroke="none"/><circle cx="669.8" cy="1037.2" r="1" fill="#fff" stroke="none"/><circle cx="667.8" cy="1034.6" r="1" fill="#fff" stroke="none"/><circle cx="668.5" cy="1031.3" r="1" fill="#fff" stroke="none"/><circle cx="671.5" cy="1044.2" r="4.1" stroke-width="1.25" fill="#4e4e4e"/><circle cx="671.5" cy="1041.7" r="0.7" fill="#fff" stroke="none"/><circle cx="673.8" cy="1043.4" r="0.7" fill="#fff" stroke="none"/><circle cx="672.9" cy="1046.2" r="0.7" fill="#fff" stroke="none"/><circle cx="670.1" cy="1046.2" r="0.7" fill="#fff" stroke="none"/><circle cx="669.2" cy="1043.4" r="0.7" fill="#fff" stroke="none"/><circle cx="671.5" cy="1053.9" r="4.1" stroke-width="1.25" fill="#4e4e4e"/><circle cx="671.5" cy="1051.4" r="0.7" fill="#fff" stroke="none"/><circle cx="673.8" cy="1053.1" r="0.7" fill="#fff" stroke="none"/><circle cx="672.9" cy="1055.9" r="0.7" fill="#fff" stroke="none"/><circle cx="670.1" cy="1055.9" r="0.7" fill="#fff" stroke="none"/><circle cx="669.2" cy="1053.1" r="0.7" fill="#fff" stroke="none"/><circle cx="671.5" cy="1063.5" r="4.1" stroke-width="1.25" fill="#4e4e4e"/><circle cx="671.5" cy="1061.1" r="0.7" fill="#fff" stroke="none"/><circle cx="673.8" cy="1062.8" r="0.7" fill="#fff" stroke="none"/><circle cx="672.9" cy="1065.5" r="0.7" fill="#fff" stroke="none"/><circle cx="670.1" cy="1065.5" r="0.7" fill="#fff" stroke="none"/><circle cx="669.2" cy="1062.8" r="0.7" fill="#fff" stroke="none"/><circle cx="671.5" cy="1073.2" r="4.1" stroke-width="1.25" fill="#4e4e4e"/><circle cx="671.5" cy="1070.7" r="0.7" fill="#fff" stroke="none"/><circle cx="673.8" cy="1072.4" r="0.7" fill="#fff" stroke="none"/><circle cx="672.9" cy="1075.2" r="0.7" fill="#fff" stroke="none"/><circle cx="670.1" cy="1075.2" r="0.7" fill="#fff" stroke="none"/><circle cx="669.2" cy="1072.4" r="0.7" fill="#fff" stroke="none"/><circle cx="671.5" cy="1083.7" r="6.4" stroke-width="1.25" fill="#4e4e4e"/><circle cx="671.5" cy="1079.9" r="1" fill="#fff" stroke="none"/><circle cx="674.5" cy="1081.3" r="1" fill="#fff" stroke="none"/><circle cx="675.2" cy="1084.6" r="1" fill="#fff" stroke="none"/><circle cx="673.2" cy="1087.2" r="1" fill="#fff" stroke="none"/><circle cx="669.8" cy="1087.2" r="1" fill="#fff" stroke="none"/><circle cx="667.8" cy="1084.6" r="1" fill="#fff" stroke="none"/><circle cx="668.5" cy="1081.3" r="1" fill="#fff" stroke="none"/><circle cx="671.5" cy="1094.2" r="4.1" stroke-width="1.25" fill="#4e4e4e"/><circle cx="671.5" cy="1091.7" r="0.7" fill="#fff" stroke="none"/><circle cx="673.8" cy="1093.4" r="0.7" fill="#fff" stroke="none"/><circle cx="672.9" cy="1096.2" r="0.7" fill="#fff" stroke="none"/><circle cx="670.1" cy="1096.2" r="0.7" fill="#fff" stroke="none"/><circle cx="669.2" cy="1093.4" r="0.7" fill="#fff" stroke="none"/><circle cx="671.5" cy="1103.9" r="4.1" stroke-width="1.25" fill="#4e4e4e"/><circle cx="671.5" cy="1101.4" r="0.7" fill="#fff" stroke="none"/><circle cx="673.8" cy="1103.1" r="0.7" fill="#fff" stroke="none"/><circle cx="672.9" cy="1105.9" r="0.7" fill="#fff" stroke="none"/><circle cx="670.1" cy="1105.9" r="0.7" fill="#fff" stroke="none"/><circle cx="669.2" cy="1103.1" r="0.7" fill="#fff" stroke="none"/><circle cx="671.5" cy="1113.5" r="4.1" stroke-width="1.25" fill="#4e4e4e"/><circle cx="671.5" cy="1111.1" r="0.7" fill="#fff" stroke="none"/><circle cx="673.8" cy="1112.8" r="0.7" fill="#fff" stroke="none"/><circle cx="672.9" cy="1115.5" r="0.7" fill="#fff" stroke="none"/><circle cx="670.1" cy="1115.5" r="0.7" fill="#fff" stroke="none"/><circle cx="669.2" cy="1112.8" r="0.7" fill="#fff" stroke="none"/><circle cx="671.5" cy="1123.2" r="4.1" stroke-width="1.25" fill="#4e4e4e"/><circle cx="671.5" cy="1120.7" r="0.7" fill="#fff" stroke="none"/><circle cx="673.8" cy="1122.4" r="0.7" fill="#fff" stroke="none"/><circle cx="672.9" cy="1125.2" r="0.7" fill="#fff" stroke="none"/><circle cx="670.1" cy="1125.2" r="0.7" fill="#fff" stroke="none"/><circle cx="669.2" cy="1122.4" r="0.7" fill="#fff" stroke="none"/><circle cx="671.5" cy="1133.7" r="6.4" stroke-width="1.25" fill="#4e4e4e"/><circle cx="671.5" cy="1129.9" r="1" fill="#fff" stroke="none"/><circle cx="674.5" cy="1131.3" r="1" fill="#fff" stroke="none"/><circle cx="675.2" cy="1134.6" r="1" fill="#fff" stroke="none"/><circle cx="673.2" cy="1137.2" r="1" fill="#fff" stroke="none"/><circle cx="669.8" cy="1137.2" r="1" fill="#fff" stroke="none"/><circle cx="667.8" cy="1134.6" r="1" fill="#fff" stroke="none"/><circle cx="668.5" cy="1131.3" r="1" fill="#fff" stroke="none"/><circle cx="671.5" cy="1144.2" r="4.1" stroke-width="1.25" fill="#4e4e4e"/><circle cx="671.5" cy="1141.7" r="0.7" fill="#fff" stroke="none"/><circle cx="673.8" cy="1143.4" r="0.7" fill="#fff" stroke="none"/><circle cx="672.9" cy="1146.2" r="0.7" fill="#fff" stroke="none"/><circle cx="670.1" cy="1146.2" r="0.7" fill="#fff" stroke="none"/><circle cx="669.2" cy="1143.4" r="0.7" fill="#fff" stroke="none"/><circle cx="671.5" cy="1153.9" r="4.1" stroke-width="1.25" fill="#4e4e4e"/><circle cx="671.5" cy="1151.4" r="0.7" fill="#fff" stroke="none"/><circle cx="673.8" cy="1153.1" r="0.7" fill="#fff" stroke="none"/><circle cx="672.9" cy="1155.9" r="0.7" fill="#fff" stroke="none"/><circle cx="670.1" cy="1155.9" r="0.7" fill="#fff" stroke="none"/><circle cx="669.2" cy="1153.1" r="0.7" fill="#fff" stroke="none"/><circle cx="671.5" cy="1163.5" r="4.1" stroke-width="1.25" fill="#4e4e4e"/><circle cx="671.5" cy="1161.1" r="0.7" fill="#fff" stroke="none"/><circle cx="673.8" cy="1162.8" r="0.7" fill="#fff" stroke="none"/><circle cx="672.9" cy="1165.5" r="0.7" fill="#fff" stroke="none"/><circle cx="670.1" cy="1165.5" r="0.7" fill="#fff" stroke="none"/><circle cx="669.2" cy="1162.8" r="0.7" fill="#fff" stroke="none"/><circle cx="671.5" cy="1173.2" r="4.1" stroke-width="1.25" fill="#4e4e4e"/><circle cx="671.5" cy="1170.7" r="0.7" fill="#fff" stroke="none"/><circle cx="673.8" cy="1172.4" r="0.7" fill="#fff" stroke="none"/><circle cx="672.9" cy="1175.2" r="0.7" fill="#fff" stroke="none"/><circle cx="670.1" cy="1175.2" r="0.7" fill="#fff" stroke="none"/><circle cx="669.2" cy="1172.4" r="0.7" fill="#fff" stroke="none"/><circle cx="671.5" cy="1183.7" r="6.4" stroke-width="1.25" fill="#4e4e4e"/><circle cx="671.5" cy="1179.9" r="1" fill="#fff" stroke="none"/><circle cx="674.5" cy="1181.3" r="1" fill="#fff" stroke="none"/><circle cx="675.2" cy="1184.6" r="1" fill="#fff" stroke="none"/><circle cx="673.2" cy="1187.2" r="1" fill="#fff" stroke="none"/><circle cx="669.8" cy="1187.2" r="1" fill="#fff" stroke="none"/><circle cx="667.8" cy="1184.6" r="1" fill="#fff" stroke="none"/><circle cx="668.5" cy="1181.3" r="1" fill="#fff" stroke="none"/><circle cx="671.5" cy="1193.7" r="4.1" stroke-width="1.25" fill="#4e4e4e"/><circle cx="671.5" cy="1191.2" r="0.7" fill="#fff" stroke="none"/><circle cx="673.8" cy="1192.9" r="0.7" fill="#fff" stroke="none"/><circle cx="672.9" cy="1195.7" r="0.7" fill="#fff" stroke="none"/><circle cx="670.1" cy="1195.7" r="0.7" fill="#fff" stroke="none"/><circle cx="669.2" cy="1192.9" r="0.7" fill="#fff" stroke="none"/><circle cx="698.7" cy="1033.7" r="6.4" stroke-width="1.25" fill="#4e4e4e"/><circle cx="698.7" cy="1029.9" r="1" fill="#fff" stroke="none"/><circle cx="701.7" cy="1031.3" r="1" fill="#fff" stroke="none"/><circle cx="702.4" cy="1034.6" r="1" fill="#fff" stroke="none"/><circle cx="700.4" cy="1037.2" r="1" fill="#fff" stroke="none"/><circle cx="697" cy="1037.2" r="1" fill="#fff" stroke="none"/><circle cx="695" cy="1034.6" r="1" fill="#fff" stroke="none"/><circle cx="695.7" cy="1031.3" r="1" fill="#fff" stroke="none"/><circle cx="698.7" cy="1044.2" r="4.1" stroke-width="1.25" fill="#4e4e4e"/><circle cx="698.7" cy="1041.7" r="0.7" fill="#fff" stroke="none"/><circle cx="701" cy="1043.4" r="0.7" fill="#fff" stroke="none"/><circle cx="700.1" cy="1046.2" r="0.7" fill="#fff" stroke="none"/><circle cx="697.3" cy="1046.2" r="0.7" fill="#fff" stroke="none"/><circle cx="696.4" cy="1043.4" r="0.7" fill="#fff" stroke="none"/><circle cx="698.7" cy="1053.9" r="4.1" stroke-width="1.25" fill="#4e4e4e"/><circle cx="698.7" cy="1051.4" r="0.7" fill="#fff" stroke="none"/><circle cx="701" cy="1053.1" r="0.7" fill="#fff" stroke="none"/><circle cx="700.1" cy="1055.9" r="0.7" fill="#fff" stroke="none"/><circle cx="697.3" cy="1055.9" r="0.7" fill="#fff" stroke="none"/><circle cx="696.4" cy="1053.1" r="0.7" fill="#fff" stroke="none"/><circle cx="698.7" cy="1063.5" r="4.1" stroke-width="1.25" fill="#4e4e4e"/><circle cx="698.7" cy="1061.1" r="0.7" fill="#fff" stroke="none"/><circle cx="701" cy="1062.8" r="0.7" fill="#fff" stroke="none"/><circle cx="700.1" cy="1065.5" r="0.7" fill="#fff" stroke="none"/><circle cx="697.3" cy="1065.5" r="0.7" fill="#fff" stroke="none"/><circle cx="696.4" cy="1062.8" r="0.7" fill="#fff" stroke="none"/><circle cx="698.7" cy="1073.2" r="4.1" stroke-width="1.25" fill="#4e4e4e"/><circle cx="698.7" cy="1070.7" r="0.7" fill="#fff" stroke="none"/><circle cx="701" cy="1072.4" r="0.7" fill="#fff" stroke="none"/><circle cx="700.1" cy="1075.2" r="0.7" fill="#fff" stroke="none"/><circle cx="697.3" cy="1075.2" r="0.7" fill="#fff" stroke="none"/><circle cx="696.4" cy="1072.4" r="0.7" fill="#fff" stroke="none"/><circle cx="698.7" cy="1083.7" r="6.4" stroke-width="1.25" fill="#4e4e4e"/><circle cx="698.7" cy="1079.9" r="1" fill="#fff" stroke="none"/><circle cx="701.7" cy="1081.3" r="1" fill="#fff" stroke="none"/><circle cx="702.4" cy="1084.6" r="1" fill="#fff" stroke="none"/><circle cx="700.4" cy="1087.2" r="1" fill="#fff" stroke="none"/><circle cx="697" cy="1087.2" r="1" fill="#fff" stroke="none"/><circle cx="695" cy="1084.6" r="1" fill="#fff" stroke="none"/><circle cx="695.7" cy="1081.3" r="1" fill="#fff" stroke="none"/><circle cx="698.7" cy="1094.2" r="4.1" stroke-width="1.25" fill="#4e4e4e"/><circle cx="698.7" cy="1091.7" r="0.7" fill="#fff" stroke="none"/><circle cx="701" cy="1093.4" r="0.7" fill="#fff" stroke="none"/><circle cx="700.1" cy="1096.2" r="0.7" fill="#fff" stroke="none"/><circle cx="697.3" cy="1096.2" r="0.7" fill="#fff" stroke="none"/><circle cx="696.4" cy="1093.4" r="0.7" fill="#fff" stroke="none"/><circle cx="698.7" cy="1103.9" r="4.1" stroke-width="1.25" fill="#4e4e4e"/><circle cx="698.7" cy="1101.4" r="0.7" fill="#fff" stroke="none"/><circle cx="701" cy="1103.1" r="0.7" fill="#fff" stroke="none"/><circle cx="700.1" cy="1105.9" r="0.7" fill="#fff" stroke="none"/><circle cx="697.3" cy="1105.9" r="0.7" fill="#fff" stroke="none"/><circle cx="696.4" cy="1103.1" r="0.7" fill="#fff" stroke="none"/><circle cx="698.7" cy="1113.5" r="4.1" stroke-width="1.25" fill="#4e4e4e"/><circle cx="698.7" cy="1111.1" r="0.7" fill="#fff" stroke="none"/><circle cx="701" cy="1112.8" r="0.7" fill="#fff" stroke="none"/><circle cx="700.1" cy="1115.5" r="0.7" fill="#fff" stroke="none"/><circle cx="697.3" cy="1115.5" r="0.7" fill="#fff" stroke="none"/><circle cx="696.4" cy="1112.8" r="0.7" fill="#fff" stroke="none"/><circle cx="698.7" cy="1123.2" r="4.1" stroke-width="1.25" fill="#4e4e4e"/><circle cx="698.7" cy="1120.7" r="0.7" fill="#fff" stroke="none"/><circle cx="701" cy="1122.4" r="0.7" fill="#fff" stroke="none"/><circle cx="700.1" cy="1125.2" r="0.7" fill="#fff" stroke="none"/><circle cx="697.3" cy="1125.2" r="0.7" fill="#fff" stroke="none"/><circle cx="696.4" cy="1122.4" r="0.7" fill="#fff" stroke="none"/><circle cx="698.7" cy="1133.7" r="6.4" stroke-width="1.25" fill="#4e4e4e"/><circle cx="698.7" cy="1129.9" r="1" fill="#fff" stroke="none"/><circle cx="701.7" cy="1131.3" r="1" fill="#fff" stroke="none"/><circle cx="702.4" cy="1134.6" r="1" fill="#fff" stroke="none"/><circle cx="700.4" cy="1137.2" r="1" fill="#fff" stroke="none"/><circle cx="697" cy="1137.2" r="1" fill="#fff" stroke="none"/><circle cx="695" cy="1134.6" r="1" fill="#fff" stroke="none"/><circle cx="695.7" cy="1131.3" r="1" fill="#fff" stroke="none"/><circle cx="698.7" cy="1144.2" r="4.1" stroke-width="1.25" fill="#4e4e4e"/><circle cx="698.7" cy="1141.7" r="0.7" fill="#fff" stroke="none"/><circle cx="701" cy="1143.4" r="0.7" fill="#fff" stroke="none"/><circle cx="700.1" cy="1146.2" r="0.7" fill="#fff" stroke="none"/><circle cx="697.3" cy="1146.2" r="0.7" fill="#fff" stroke="none"/><circle cx="696.4" cy="1143.4" r="0.7" fill="#fff" stroke="none"/><circle cx="698.7" cy="1153.9" r="4.1" stroke-width="1.25" fill="#4e4e4e"/><circle cx="698.7" cy="1151.4" r="0.7" fill="#fff" stroke="none"/><circle cx="701" cy="1153.1" r="0.7" fill="#fff" stroke="none"/><circle cx="700.1" cy="1155.9" r="0.7" fill="#fff" stroke="none"/><circle cx="697.3" cy="1155.9" r="0.7" fill="#fff" stroke="none"/><circle cx="696.4" cy="1153.1" r="0.7" fill="#fff" stroke="none"/><circle cx="698.7" cy="1163.5" r="4.1" stroke-width="1.25" fill="#4e4e4e"/><circle cx="698.7" cy="1161.1" r="0.7" fill="#fff" stroke="none"/><circle cx="701" cy="1162.8" r="0.7" fill="#fff" stroke="none"/><circle cx="700.1" cy="1165.5" r="0.7" fill="#fff" stroke="none"/><circle cx="697.3" cy="1165.5" r="0.7" fill="#fff" stroke="none"/><circle cx="696.4" cy="1162.8" r="0.7" fill="#fff" stroke="none"/><circle cx="698.7" cy="1173.2" r="4.1" stroke-width="1.25" fill="#4e4e4e"/><circle cx="698.7" cy="1170.7" r="0.7" fill="#fff" stroke="none"/><circle cx="701" cy="1172.4" r="0.7" fill="#fff" stroke="none"/><circle cx="700.1" cy="1175.2" r="0.7" fill="#fff" stroke="none"/><circle cx="697.3" cy="1175.2" r="0.7" fill="#fff" stroke="none"/><circle cx="696.4" cy="1172.4" r="0.7" fill="#fff" stroke="none"/><circle cx="698.7" cy="1183.7" r="6.4" stroke-width="1.25" fill="#4e4e4e"/><circle cx="698.7" cy="1179.9" r="1" fill="#fff" stroke="none"/><circle cx="701.7" cy="1181.3" r="1" fill="#fff" stroke="none"/><circle cx="702.4" cy="1184.6" r="1" fill="#fff" stroke="none"/><circle cx="700.4" cy="1187.2" r="1" fill="#fff" stroke="none"/><circle cx="697" cy="1187.2" r="1" fill="#fff" stroke="none"/><circle cx="695" cy="1184.6" r="1" fill="#fff" stroke="none"/><circle cx="695.7" cy="1181.3" r="1" fill="#fff" stroke="none"/><circle cx="698.7" cy="1193.7" r="4.1" stroke-width="1.25" fill="#4e4e4e"/><circle cx="698.7" cy="1191.2" r="0.7" fill="#fff" stroke="none"/><circle cx="701" cy="1192.9" r="0.7" fill="#fff" stroke="none"/><circle cx="700.1" cy="1195.7" r="0.7" fill="#fff" stroke="none"/><circle cx="697.3" cy="1195.7" r="0.7" fill="#fff" stroke="none"/><circle cx="696.4" cy="1192.9" r="0.7" fill="#fff" stroke="none"/><path d="M614,1036 C618,1042.5 626,1042.8 640,1042.8 L664,1042.8 C678,1042.8 685,1042.5 690,1036" stroke-width="1.2"/><path d="M616,1040 C620,1047 628,1047.3 640,1047.3 L664,1047.3 C677,1047.3 684,1047 688,1040" stroke-width="1.2"/><line x1="628" y1="1109.5" x2="688" y2="1109.5" stroke-width="1.1"/><rect x="638.6" y="1108.4" width="28.4" height="10.2" stroke-width="1.1" fill="none"/><line x1="641" y1="1110" x2="641" y2="1118.6" stroke-width="0.8"/><line x1="644.8" y1="1110" x2="644.8" y2="1118.6" stroke-width="0.8"/><line x1="648.6" y1="1110" x2="648.6" y2="1118.6" stroke-width="0.8"/><line x1="652.4" y1="1110" x2="652.4" y2="1118.6" stroke-width="0.8"/><line x1="656.2" y1="1110" x2="656.2" y2="1118.6" stroke-width="0.8"/><line x1="660" y1="1110" x2="660" y2="1118.6" stroke-width="0.8"/><line x1="663.8" y1="1110" x2="663.8" y2="1118.6" stroke-width="0.8"/><path d="M645.4,1151 C645,1140 648,1131 654,1130 C660,1131 662.5,1140 662.4,1151 Z" fill="#9a9a9a" stroke-width="0.9"/><line x1="646" y1="1134" x2="662" y2="1134" stroke="#555" stroke-width="0.7"/><line x1="646" y1="1137" x2="662" y2="1137" stroke="#555" stroke-width="0.7"/><line x1="646" y1="1140" x2="662" y2="1140" stroke="#555" stroke-width="0.7"/><line x1="646" y1="1143" x2="662" y2="1143" stroke="#555" stroke-width="0.7"/><line x1="646" y1="1146" x2="662" y2="1146" stroke="#555" stroke-width="0.7"/><line x1="646" y1="1149" x2="662" y2="1149" stroke="#555" stroke-width="0.7"/><path d="M633.5,1194.5 C634,1215 640,1236 652,1242 C664,1236 671,1215 673,1194.5" stroke-width="1"/><path d="M646,1189 L649.5,1202 L653.5,1191 L657.5,1202 L661,1189" stroke-width="0.9"/><line x1="599.8" y1="1190" x2="599.8" y2="1251" stroke-width="0.9" stroke-dasharray="10 2 2 2"/><circle cx="599.8" cy="1253" r="2.3" stroke-width="0.9"/><line x1="618.7" y1="1190" x2="618.7" y2="1251" stroke-width="0.9"/><circle cx="618.7" cy="1253" r="2.3" stroke-width="0.9"/><line x1="650.2" y1="1190" x2="650.2" y2="1251" stroke-width="0.9"/><circle cx="650.2" cy="1253" r="2.3" stroke-width="0.9"/><line x1="682.6" y1="1190" x2="682.6" y2="1251" stroke-width="0.9"/><circle cx="682.6" cy="1253" r="2.3" stroke-width="0.9"/><line x1="701.2" y1="1190" x2="701.2" y2="1251" stroke-width="0.9" stroke-dasharray="10 2 2 2"/><circle cx="701.2" cy="1253" r="2.3" stroke-width="0.9"/><path d="M597.6,1260 C594.1,1263 592.6,1257 597.6,1255 C603.6,1253 608.6,1256 613.6,1265 C619.6,1276 628.6,1287 644.6,1290.3 M598.1,1259.5 C602.6,1257.5 607.6,1260 609.6,1267 C613.6,1279 619.6,1289 632.6,1290.3" stroke-width="1.3"/><circle cx="607.1" cy="1273.3" r="2" stroke-width="1.0" fill="#fff"/><path d="M617.1,1260 C614.6,1258 615.6,1254.5 619.6,1254.5 C624.6,1255 630.6,1266 640.6,1281 M619.1,1257 C620.6,1264 622.6,1270 624.6,1278 M621.6,1272.5 C626.6,1270 629.6,1276 633.6,1279 C637.6,1281 641.6,1284 645.1,1290 M621.6,1272.5 C623.6,1281 628.6,1288 638.6,1290.3" stroke-width="1.2"/><path d="M703.6,1260 C707.1,1263 708.6,1257 703.6,1255 C697.6,1253 692.6,1256 687.6,1265 C681.6,1276 672.6,1287 656.6,1290.3 M703.1,1259.5 C698.6,1257.5 693.6,1260 691.6,1267 C687.6,1279 681.6,1289 668.6,1290.3" stroke-width="1.3"/><circle cx="694.1" cy="1273.3" r="2" stroke-width="1.0" fill="#fff"/><path d="M684.1,1260 C686.6,1258 685.6,1254.5 681.6,1254.5 C676.6,1255 670.6,1266 660.6,1281 M682.1,1257 C680.6,1264 678.6,1270 676.6,1278 M679.6,1272.5 C674.6,1270 671.6,1276 667.6,1279 C663.6,1281 659.6,1284 656.1,1290 M679.6,1272.5 C677.6,1281 672.6,1288 662.6,1290.3" stroke-width="1.2"/><path d="M650.6,1255.5 L641.1,1278 C640.6,1284 644.6,1290 650.6,1290.3 C656.6,1290 660.6,1284 660.1,1278 Z" stroke-width="1.1"/><path d="M650.6,1256 C647.6,1257 647.6,1259 650.6,1262 C653.6,1259 653.6,1257 650.6,1256 Z" stroke-width="1.0" fill="#333"/><line x1="628.6" y1="1290.3" x2="672.6" y2="1290.3" stroke-width="1.2"/><path d="M637,1290.6 C638.6,1296 642.6,1298 644.6,1298 L656.6,1298 C658.6,1298 662.6,1296 663.8,1290.6" stroke-width="1.1"/><line x1="637.6" y1="1292.6" x2="663.6" y2="1292.6" stroke-width="0.9"/><path d="M646.6,1298.6 L646.6,1312 M654.6,1298.6 L654.6,1312" stroke-width="1.0"/><path d="M645.6,1299 C641.6,1304 642.6,1311 650.6,1314.5 C658.6,1311 659.6,1304 655.6,1299" stroke="#222" stroke-width="3.3" fill="none" stroke-linecap="butt"/><path d="M645.6,1299 C641.6,1304 642.6,1311 650.6,1314.5 C658.6,1311 659.6,1304 655.6,1299" stroke="#fff" stroke-width="1.5" fill="none" stroke-linecap="butt"/><circle cx="650.6" cy="1316" r="1.8" fill="#111" stroke-width="0.8"/><line x1="650.6" y1="1317.5" x2="650.6" y2="1325" stroke-width="0.9"/><clipPath id="cb6506_13432"><path d="M647,1324.6 L654.2,1324.6 C661.7,1326.1 666.9,1333.9 666.9,1343.2 C666.9,1352.5 659.6,1359.2 650.6,1361.8 C641.6,1359.2 634.3,1352.5 634.3,1343.2 C634.3,1333.9 639.5,1326.1 647,1324.6 Z"/></clipPath><g clip-path="url(#cb6506_13432)" stroke-width="0.68"><line x1="578.1" y1="1304.1" x2="622.8" y2="1382.3"/><line x1="622.8" y1="1304.1" x2="578.1" y2="1382.3"/><line x1="584.4" y1="1304.1" x2="629" y2="1382.3"/><line x1="629" y1="1304.1" x2="584.4" y2="1382.3"/><line x1="590.7" y1="1304.1" x2="635.3" y2="1382.3"/><line x1="635.3" y1="1304.1" x2="590.7" y2="1382.3"/><line x1="596.9" y1="1304.1" x2="641.6" y2="1382.3"/><line x1="641.6" y1="1304.1" x2="596.9" y2="1382.3"/><line x1="603.2" y1="1304.1" x2="647.8" y2="1382.3"/><line x1="647.8" y1="1304.1" x2="603.2" y2="1382.3"/><line x1="609.5" y1="1304.1" x2="654.1" y2="1382.3"/><line x1="654.1" y1="1304.1" x2="609.5" y2="1382.3"/><line x1="615.7" y1="1304.1" x2="660.4" y2="1382.3"/><line x1="660.4" y1="1304.1" x2="615.7" y2="1382.3"/><line x1="622" y1="1304.1" x2="666.7" y2="1382.3"/><line x1="666.7" y1="1304.1" x2="622" y2="1382.3"/><line x1="628.3" y1="1304.1" x2="672.9" y2="1382.3"/><line x1="672.9" y1="1304.1" x2="628.3" y2="1382.3"/><line x1="634.5" y1="1304.1" x2="679.2" y2="1382.3"/><line x1="679.2" y1="1304.1" x2="634.5" y2="1382.3"/><line x1="640.8" y1="1304.1" x2="685.5" y2="1382.3"/><line x1="685.5" y1="1304.1" x2="640.8" y2="1382.3"/><line x1="647.1" y1="1304.1" x2="691.7" y2="1382.3"/><line x1="691.7" y1="1304.1" x2="647.1" y2="1382.3"/><line x1="653.4" y1="1304.1" x2="698" y2="1382.3"/><line x1="698" y1="1304.1" x2="653.4" y2="1382.3"/><line x1="659.6" y1="1304.1" x2="704.3" y2="1382.3"/><line x1="704.3" y1="1304.1" x2="659.6" y2="1382.3"/><line x1="665.9" y1="1304.1" x2="710.5" y2="1382.3"/><line x1="710.5" y1="1304.1" x2="665.9" y2="1382.3"/><line x1="672.2" y1="1304.1" x2="716.8" y2="1382.3"/><line x1="716.8" y1="1304.1" x2="672.2" y2="1382.3"/><line x1="678.4" y1="1304.1" x2="723.1" y2="1382.3"/><line x1="723.1" y1="1304.1" x2="678.4" y2="1382.3"/><line x1="631" y1="1310.5" x2="670.2" y2="1310.5"/><line x1="631" y1="1315.9" x2="670.2" y2="1315.9"/><line x1="631" y1="1321.4" x2="670.2" y2="1321.4"/><line x1="631" y1="1326.8" x2="670.2" y2="1326.8"/><line x1="631" y1="1332.3" x2="670.2" y2="1332.3"/><line x1="631" y1="1337.7" x2="670.2" y2="1337.7"/><line x1="631" y1="1343.2" x2="670.2" y2="1343.2"/><line x1="631" y1="1348.7" x2="670.2" y2="1348.7"/><line x1="631" y1="1354.1" x2="670.2" y2="1354.1"/><line x1="631" y1="1359.6" x2="670.2" y2="1359.6"/><line x1="631" y1="1365" x2="670.2" y2="1365"/><line x1="631" y1="1370.5" x2="670.2" y2="1370.5"/><line x1="631" y1="1375.9" x2="670.2" y2="1375.9"/></g><path d="M647,1324.6 L654.2,1324.6 C661.7,1326.1 666.9,1333.9 666.9,1343.2 C666.9,1352.5 659.6,1359.2 650.6,1361.8 C641.6,1359.2 634.3,1352.5 634.3,1343.2 C634.3,1333.9 639.5,1326.1 647,1324.6 Z" stroke-width="1.1199999999999999"/><circle cx="650.6" cy="1327.6" r="1.6" stroke-width="0.8"/><text x="547" y="1357.5" font-size="30" font-family="Liberation Serif" fill="#000" stroke="none" transform="translate(547 1357.5) scale(0.74 1) translate(-547 -1357.5)">D</text><line x1="566.7" y1="1344.6" x2="629.8" y2="1344.6" stroke-width="1.1"/><path d="M629.8,1344.6 L617.8,1347.1 L617.8,1342.1 Z" fill="#000" stroke="none"/><line x1="718.7" y1="1298.5" x2="718.7" y2="1209.4" stroke-width="1.1"/><path d="M718.7,1209.4 L721,1221.4 L716.5,1221.4 Z" fill="#000" stroke="none"/><ellipse cx="743.8" cy="1250.7" rx="17" ry="17" stroke-width="1.1" fill="none"/><text x="743.8" y="1261.2" font-size="30" text-anchor="middle" fill="#000" stroke="#000" stroke-width="0.5" font-family="Liberation Serif" font-weight="normal">5</text><path d="M801.9,1007.9 A107.5,110.8 0 1 1 811.2,1118.3" stroke-width="1.1" stroke-dasharray="11 4.5"/><path d="M801.9,1007.9 L719.5,1095.3 L811.2,1118.3" stroke-width="1.1" stroke-dasharray="11 4.5"/><ellipse cx="897" cy="969.8" rx="7.6" ry="7.6" stroke-width="1.0" fill="none"/><text x="897" y="974.2" font-size="12.5" text-anchor="middle" fill="#000" stroke="none" stroke-width="0.5" font-family="Liberation Serif" font-weight="bold">C</text><ellipse cx="922.5" cy="974" rx="7.6" ry="7.6" stroke-width="1.0" fill="none"/><text x="922.5" y="978.4" font-size="12.5" text-anchor="middle" fill="#000" stroke="none" stroke-width="0.5" font-family="Liberation Serif" font-weight="bold">A</text><ellipse cx="945.5" cy="986.3" rx="7.6" ry="7.6" stroke-width="1.0" fill="none"/><text x="945.5" y="990.7" font-size="12.5" text-anchor="middle" fill="#000" stroke="none" stroke-width="0.5" font-family="Liberation Serif" font-weight="bold">C</text><ellipse cx="963.7" cy="1005.5" rx="7.6" ry="7.6" stroke-width="1.0" fill="none"/><text x="963.7" y="1009.9" font-size="12.5" text-anchor="middle" fill="#000" stroke="none" stroke-width="0.5" font-family="Liberation Serif" font-weight="bold">B</text><ellipse cx="975.5" cy="1029.6" rx="7.6" ry="7.6" stroke-width="1.0" fill="none"/><text x="975.5" y="1034" font-size="12.5" text-anchor="middle" fill="#000" stroke="none" stroke-width="0.5" font-family="Liberation Serif" font-weight="bold">C</text><ellipse cx="979.5" cy="1056.3" rx="7.6" ry="7.6" stroke-width="1.0" fill="none"/><text x="979.5" y="1060.7" font-size="12.5" text-anchor="middle" fill="#000" stroke="none" stroke-width="0.5" font-family="Liberation Serif" font-weight="bold">A</text><ellipse cx="975.5" cy="1083" rx="7.6" ry="7.6" stroke-width="1.0" fill="none"/><text x="975.5" y="1087.4" font-size="12.5" text-anchor="middle" fill="#000" stroke="none" stroke-width="0.5" font-family="Liberation Serif" font-weight="bold">C</text><ellipse cx="963.7" cy="1107.1" rx="7.6" ry="7.6" stroke-width="1.0" fill="none"/><text x="963.7" y="1111.5" font-size="12.5" text-anchor="middle" fill="#000" stroke="none" stroke-width="0.5" font-family="Liberation Serif" font-weight="bold">B</text><ellipse cx="945.5" cy="1126.3" rx="7.6" ry="7.6" stroke-width="1.0" fill="none"/><text x="945.5" y="1130.7" font-size="12.5" text-anchor="middle" fill="#000" stroke="none" stroke-width="0.5" font-family="Liberation Serif" font-weight="bold">C</text><ellipse cx="922.5" cy="1138.6" rx="7.6" ry="7.6" stroke-width="1.0" fill="none"/><text x="922.5" y="1143" font-size="12.5" text-anchor="middle" fill="#000" stroke="none" stroke-width="0.5" font-family="Liberation Serif" font-weight="bold">A</text><ellipse cx="897" cy="1142.8" rx="7.6" ry="7.6" stroke-width="1.0" fill="none"/><text x="897" y="1147.2" font-size="12.5" text-anchor="middle" fill="#000" stroke="none" stroke-width="0.5" font-family="Liberation Serif" font-weight="bold">C</text><ellipse cx="871.5" cy="1138.6" rx="7.6" ry="7.6" stroke-width="1.0" fill="none"/><text x="871.5" y="1143" font-size="12.5" text-anchor="middle" fill="#000" stroke="none" stroke-width="0.5" font-family="Liberation Serif" font-weight="bold">B</text><ellipse cx="848.5" cy="1126.3" rx="7.6" ry="7.6" stroke-width="1.0" fill="none"/><text x="848.5" y="1130.7" font-size="12.5" text-anchor="middle" fill="#000" stroke="none" stroke-width="0.5" font-family="Liberation Serif" font-weight="bold">C</text><ellipse cx="830.3" cy="1107.1" rx="7.6" ry="7.6" stroke-width="1.0" fill="none"/><text x="830.3" y="1111.5" font-size="12.5" text-anchor="middle" fill="#000" stroke="none" stroke-width="0.5" font-family="Liberation Serif" font-weight="bold">A</text><ellipse cx="818.5" cy="1083" rx="7.6" ry="7.6" stroke-width="1.0" fill="none"/><text x="818.5" y="1087.4" font-size="12.5" text-anchor="middle" fill="#000" stroke="none" stroke-width="0.5" font-family="Liberation Serif" font-weight="bold">C</text><ellipse cx="814.5" cy="1056.3" rx="7.6" ry="7.6" stroke-width="1.0" fill="none"/><text x="814.5" y="1060.7" font-size="12.5" text-anchor="middle" fill="#000" stroke="none" stroke-width="0.5" font-family="Liberation Serif" font-weight="bold">B</text><ellipse cx="818.5" cy="1029.6" rx="7.6" ry="7.6" stroke-width="1.0" fill="none"/><text x="818.5" y="1034" font-size="12.5" text-anchor="middle" fill="#000" stroke="none" stroke-width="0.5" font-family="Liberation Serif" font-weight="bold">C</text><ellipse cx="830.3" cy="1005.5" rx="7.6" ry="7.6" stroke-width="1.0" fill="none"/><text x="830.3" y="1009.9" font-size="12.5" text-anchor="middle" fill="#000" stroke="none" stroke-width="0.5" font-family="Liberation Serif" font-weight="bold">A</text><ellipse cx="848.5" cy="986.3" rx="7.6" ry="7.6" stroke-width="1.0" fill="none"/><text x="848.5" y="990.7" font-size="12.5" text-anchor="middle" fill="#000" stroke="none" stroke-width="0.5" font-family="Liberation Serif" font-weight="bold">C</text><ellipse cx="871.5" cy="974" rx="7.6" ry="7.6" stroke-width="1.0" fill="none"/><text x="871.5" y="978.4" font-size="12.5" text-anchor="middle" fill="#000" stroke="none" stroke-width="0.5" font-family="Liberation Serif" font-weight="bold">B</text><ellipse cx="778.6" cy="536.7" rx="7.7" ry="7.7" stroke-width="1.0" fill="none"/><text x="778.6" y="541.6" font-size="14" text-anchor="middle" fill="#000" stroke="none" stroke-width="0.5" font-family="Liberation Serif" font-weight="bold">A</text><ellipse cx="833.7" cy="536.7" rx="7.7" ry="7.7" stroke-width="1.0" fill="none"/><text x="833.7" y="541.6" font-size="14" text-anchor="middle" fill="#000" stroke="none" stroke-width="0.5" font-family="Liberation Serif" font-weight="bold">B</text><ellipse cx="891.6" cy="536.7" rx="7.7" ry="7.7" stroke-width="1.0" fill="none"/><text x="891.6" y="541.6" font-size="14" text-anchor="middle" fill="#000" stroke="none" stroke-width="0.5" font-family="Liberation Serif" font-weight="bold">C</text><line x1="778.6" y1="557.9" x2="778.6" y2="744.6" stroke-width="0.9"/><line x1="833.7" y1="557.9" x2="833.7" y2="726.7" stroke-width="0.9"/><path d="M778.6,567.3 C796.3,576.4 796.3,601.6 778.6,610.7 C760.9,601.6 760.9,576.4 778.6,567.3 Z" stroke-width="1.15"/><path d="M778.6,568.4 C794.2,577 794.2,601 778.6,609.6 C763,601 763,577 778.6,568.4 Z" stroke-width="0.55"/><path d="M768.6,589 L773.5,583.4 L778.2,589 L773.5,594.6 Z" stroke-width="0.8"/><line x1="773.5" y1="576.4" x2="773.5" y2="583.4" stroke-width="0.7"/><line x1="773.5" y1="601.6" x2="773.5" y2="594.6" stroke-width="0.7"/><line x1="769.1" y1="579.2" x2="769.1" y2="598.8" stroke-width="0.5"/><path d="M788.6,589 L783.7,583.4 L779,589 L783.7,594.6 Z" stroke-width="0.8"/><line x1="783.7" y1="576.4" x2="783.7" y2="583.4" stroke-width="0.7"/><line x1="783.7" y1="601.6" x2="783.7" y2="594.6" stroke-width="0.7"/><line x1="788.1" y1="579.2" x2="788.1" y2="598.8" stroke-width="0.5"/><path d="M768.2,586.4 L773.5,576.4 L778.6,582.1 L783.7,576.4 L789,586.4" stroke-width="0.8"/><path d="M773.5,576.4 L778.6,569.5 L783.7,576.4" stroke-width="0.8"/><path d="M768.2,591.6 L773.5,601.6 L778.6,595.9 L783.7,601.6 L789,591.6" stroke-width="0.8"/><path d="M773.5,601.6 L778.6,608.5 L783.7,601.6" stroke-width="0.8"/><line x1="767" y1="589" x2="790.2" y2="589" stroke-width="0.5"/><line x1="778.6" y1="567.3" x2="778.6" y2="610.7" stroke-width="0.8"/><circle cx="778.6" cy="589" r="1" fill="#000" stroke="none"/><circle cx="778.6" cy="606.8" r="0.9" fill="#000" stroke="none"/><circle cx="778.6" cy="570.3" r="0.9" stroke-width="0.6"/><path d="M778.6,619.6 C796.3,628.7 796.3,653.9 778.6,663 C760.9,653.9 760.9,628.7 778.6,619.6 Z" stroke-width="1.15"/><path d="M778.6,620.7 C794.2,629.3 794.2,653.3 778.6,661.9 C763,653.3 763,629.3 778.6,620.7 Z" stroke-width="0.55"/><path d="M768.6,641.3 L773.5,635.7 L778.2,641.3 L773.5,646.9 Z" stroke-width="0.8"/><line x1="773.5" y1="628.7" x2="773.5" y2="635.7" stroke-width="0.7"/><line x1="773.5" y1="653.9" x2="773.5" y2="646.9" stroke-width="0.7"/><line x1="769.1" y1="631.5" x2="769.1" y2="651.1" stroke-width="0.5"/><path d="M788.6,641.3 L783.7,635.7 L779,641.3 L783.7,646.9 Z" stroke-width="0.8"/><line x1="783.7" y1="628.7" x2="783.7" y2="635.7" stroke-width="0.7"/><line x1="783.7" y1="653.9" x2="783.7" y2="646.9" stroke-width="0.7"/><line x1="788.1" y1="631.5" x2="788.1" y2="651.1" stroke-width="0.5"/><path d="M768.2,638.7 L773.5,628.7 L778.6,634.4 L783.7,628.7 L789,638.7" stroke-width="0.8"/><path d="M773.5,628.7 L778.6,621.8 L783.7,628.7" stroke-width="0.8"/><path d="M768.2,643.9 L773.5,653.9 L778.6,648.2 L783.7,653.9 L789,643.9" stroke-width="0.8"/><path d="M773.5,653.9 L778.6,660.8 L783.7,653.9" stroke-width="0.8"/><line x1="767" y1="641.3" x2="790.2" y2="641.3" stroke-width="0.5"/><line x1="778.6" y1="619.6" x2="778.6" y2="663" stroke-width="0.8"/><circle cx="778.6" cy="641.3" r="1" fill="#000" stroke="none"/><circle cx="778.6" cy="659.1" r="0.9" fill="#000" stroke="none"/><circle cx="778.6" cy="622.6" r="0.9" stroke-width="0.6"/><path d="M778.6,671.9 C796.3,681 796.3,706.2 778.6,715.3 C760.9,706.2 760.9,681 778.6,671.9 Z" stroke-width="1.15"/><path d="M778.6,673 C794.2,681.6 794.2,705.6 778.6,714.2 C763,705.6 763,681.6 778.6,673 Z" stroke-width="0.55"/><path d="M768.6,693.6 L773.5,688 L778.2,693.6 L773.5,699.2 Z" stroke-width="0.8"/><line x1="773.5" y1="681" x2="773.5" y2="688" stroke-width="0.7"/><line x1="773.5" y1="706.2" x2="773.5" y2="699.2" stroke-width="0.7"/><line x1="769.1" y1="683.8" x2="769.1" y2="703.4" stroke-width="0.5"/><path d="M788.6,693.6 L783.7,688 L779,693.6 L783.7,699.2 Z" stroke-width="0.8"/><line x1="783.7" y1="681" x2="783.7" y2="688" stroke-width="0.7"/><line x1="783.7" y1="706.2" x2="783.7" y2="699.2" stroke-width="0.7"/><line x1="788.1" y1="683.8" x2="788.1" y2="703.4" stroke-width="0.5"/><path d="M768.2,691 L773.5,681 L778.6,686.7 L783.7,681 L789,691" stroke-width="0.8"/><path d="M773.5,681 L778.6,674.1 L783.7,681" stroke-width="0.8"/><path d="M768.2,696.2 L773.5,706.2 L778.6,700.5 L783.7,706.2 L789,696.2" stroke-width="0.8"/><path d="M773.5,706.2 L778.6,713.1 L783.7,706.2" stroke-width="0.8"/><line x1="767" y1="693.6" x2="790.2" y2="693.6" stroke-width="0.5"/><line x1="778.6" y1="671.9" x2="778.6" y2="715.3" stroke-width="0.8"/><circle cx="778.6" cy="693.6" r="1" fill="#000" stroke="none"/><circle cx="778.6" cy="711.4" r="0.9" fill="#000" stroke="none"/><circle cx="778.6" cy="674.9" r="0.9" stroke-width="0.6"/><path d="M833.7,567.3 C851.4,576.4 851.4,601.6 833.7,610.7 C816,601.6 816,576.4 833.7,567.3 Z" stroke-width="1.15"/><path d="M833.7,568.4 C849.3,577 849.3,601 833.7,609.6 C818.1,601 818.1,577 833.7,568.4 Z" stroke-width="0.55"/><path d="M823.7,589 L828.6,583.4 L833.3,589 L828.6,594.6 Z" stroke-width="0.8"/><line x1="828.6" y1="576.4" x2="828.6" y2="583.4" stroke-width="0.7"/><line x1="828.6" y1="601.6" x2="828.6" y2="594.6" stroke-width="0.7"/><line x1="824.2" y1="579.2" x2="824.2" y2="598.8" stroke-width="0.5"/><path d="M843.7,589 L838.8,583.4 L834.1,589 L838.8,594.6 Z" stroke-width="0.8"/><line x1="838.8" y1="576.4" x2="838.8" y2="583.4" stroke-width="0.7"/><line x1="838.8" y1="601.6" x2="838.8" y2="594.6" stroke-width="0.7"/><line x1="843.2" y1="579.2" x2="843.2" y2="598.8" stroke-width="0.5"/><path d="M823.3,586.4 L828.6,576.4 L833.7,582.1 L838.8,576.4 L844.1,586.4" stroke-width="0.8"/><path d="M828.6,576.4 L833.7,569.5 L838.8,576.4" stroke-width="0.8"/><path d="M823.3,591.6 L828.6,601.6 L833.7,595.9 L838.8,601.6 L844.1,591.6" stroke-width="0.8"/><path d="M828.6,601.6 L833.7,608.5 L838.8,601.6" stroke-width="0.8"/><line x1="822.1" y1="589" x2="845.3" y2="589" stroke-width="0.5"/><line x1="833.7" y1="567.3" x2="833.7" y2="610.7" stroke-width="0.8"/><circle cx="833.7" cy="589" r="1" fill="#000" stroke="none"/><circle cx="833.7" cy="606.8" r="0.9" fill="#000" stroke="none"/><circle cx="833.7" cy="570.3" r="0.9" stroke-width="0.6"/><path d="M833.7,619.6 C851.4,628.7 851.4,653.9 833.7,663 C816,653.9 816,628.7 833.7,619.6 Z" stroke-width="1.15"/><path d="M833.7,620.7 C849.3,629.3 849.3,653.3 833.7,661.9 C818.1,653.3 818.1,629.3 833.7,620.7 Z" stroke-width="0.55"/><path d="M823.7,641.3 L828.6,635.7 L833.3,641.3 L828.6,646.9 Z" stroke-width="0.8"/><line x1="828.6" y1="628.7" x2="828.6" y2="635.7" stroke-width="0.7"/><line x1="828.6" y1="653.9" x2="828.6" y2="646.9" stroke-width="0.7"/><line x1="824.2" y1="631.5" x2="824.2" y2="651.1" stroke-width="0.5"/><path d="M843.7,641.3 L838.8,635.7 L834.1,641.3 L838.8,646.9 Z" stroke-width="0.8"/><line x1="838.8" y1="628.7" x2="838.8" y2="635.7" stroke-width="0.7"/><line x1="838.8" y1="653.9" x2="838.8" y2="646.9" stroke-width="0.7"/><line x1="843.2" y1="631.5" x2="843.2" y2="651.1" stroke-width="0.5"/><path d="M823.3,638.7 L828.6,628.7 L833.7,634.4 L838.8,628.7 L844.1,638.7" stroke-width="0.8"/><path d="M828.6,628.7 L833.7,621.8 L838.8,628.7" stroke-width="0.8"/><path d="M823.3,643.9 L828.6,653.9 L833.7,648.2 L838.8,653.9 L844.1,643.9" stroke-width="0.8"/><path d="M828.6,653.9 L833.7,660.8 L838.8,653.9" stroke-width="0.8"/><line x1="822.1" y1="641.3" x2="845.3" y2="641.3" stroke-width="0.5"/><line x1="833.7" y1="619.6" x2="833.7" y2="663" stroke-width="0.8"/><circle cx="833.7" cy="641.3" r="1" fill="#000" stroke="none"/><circle cx="833.7" cy="659.1" r="0.9" fill="#000" stroke="none"/><circle cx="833.7" cy="622.6" r="0.9" stroke-width="0.6"/><path d="M833.7,671.9 C851.4,681 851.4,706.2 833.7,715.3 C816,706.2 816,681 833.7,671.9 Z" stroke-width="1.15"/><path d="M833.7,673 C849.3,681.6 849.3,705.6 833.7,714.2 C818.1,705.6 818.1,681.6 833.7,673 Z" stroke-width="0.55"/><path d="M823.7,693.6 L828.6,688 L833.3,693.6 L828.6,699.2 Z" stroke-width="0.8"/><line x1="828.6" y1="681" x2="828.6" y2="688" stroke-width="0.7"/><line x1="828.6" y1="706.2" x2="828.6" y2="699.2" stroke-width="0.7"/><line x1="824.2" y1="683.8" x2="824.2" y2="703.4" stroke-width="0.5"/><path d="M843.7,693.6 L838.8,688 L834.1,693.6 L838.8,699.2 Z" stroke-width="0.8"/><line x1="838.8" y1="681" x2="838.8" y2="688" stroke-width="0.7"/><line x1="838.8" y1="706.2" x2="838.8" y2="699.2" stroke-width="0.7"/><line x1="843.2" y1="683.8" x2="843.2" y2="703.4" stroke-width="0.5"/><path d="M823.3,691 L828.6,681 L833.7,686.7 L838.8,681 L844.1,691" stroke-width="0.8"/><path d="M828.6,681 L833.7,674.1 L838.8,681" stroke-width="0.8"/><path d="M823.3,696.2 L828.6,706.2 L833.7,700.5 L838.8,706.2 L844.1,696.2" stroke-width="0.8"/><path d="M828.6,706.2 L833.7,713.1 L838.8,706.2" stroke-width="0.8"/><line x1="822.1" y1="693.6" x2="845.3" y2="693.6" stroke-width="0.5"/><line x1="833.7" y1="671.9" x2="833.7" y2="715.3" stroke-width="0.8"/><circle cx="833.7" cy="693.6" r="1" fill="#000" stroke="none"/><circle cx="833.7" cy="711.4" r="0.9" fill="#000" stroke="none"/><circle cx="833.7" cy="674.9" r="0.9" stroke-width="0.6"/><circle cx="778.6" cy="726.7" r="4.6" stroke-width="1.25" fill="#4e4e4e"/><circle cx="778.6" cy="723.9" r="0.7" fill="#fff" stroke="none"/><circle cx="781.2" cy="725.8" r="0.7" fill="#fff" stroke="none"/><circle cx="780.2" cy="728.9" r="0.7" fill="#fff" stroke="none"/><circle cx="777" cy="728.9" r="0.7" fill="#fff" stroke="none"/><circle cx="776" cy="725.8" r="0.7" fill="#fff" stroke="none"/><circle cx="778.6" cy="736" r="4.6" stroke-width="1.25" fill="#4e4e4e"/><circle cx="778.6" cy="733.2" r="0.7" fill="#fff" stroke="none"/><circle cx="781.2" cy="735.1" r="0.7" fill="#fff" stroke="none"/><circle cx="780.2" cy="738.2" r="0.7" fill="#fff" stroke="none"/><circle cx="777" cy="738.2" r="0.7" fill="#fff" stroke="none"/><circle cx="776" cy="735.1" r="0.7" fill="#fff" stroke="none"/><line x1="891.6" y1="557.9" x2="891.6" y2="569.8" stroke-width="0.9"/><circle cx="891.6" cy="571.5" r="1.8" stroke-width="0.9"/><circle cx="891.6" cy="580" r="6.5" stroke-width="1.25" fill="#4e4e4e"/><circle cx="891.6" cy="576.1" r="1" fill="#fff" stroke="none"/><circle cx="894.6" cy="577.6" r="1" fill="#fff" stroke="none"/><circle cx="895.4" cy="580.9" r="1" fill="#fff" stroke="none"/><circle cx="893.3" cy="583.5" r="1" fill="#fff" stroke="none"/><circle cx="889.9" cy="583.5" r="1" fill="#fff" stroke="none"/><circle cx="887.8" cy="580.9" r="1" fill="#fff" stroke="none"/><circle cx="888.6" cy="577.6" r="1" fill="#fff" stroke="none"/><circle cx="891.6" cy="590.5" r="4.3" stroke-width="1.25" fill="#4e4e4e"/><circle cx="891.6" cy="587.9" r="0.7" fill="#fff" stroke="none"/><circle cx="894.1" cy="589.7" r="0.7" fill="#fff" stroke="none"/><circle cx="893.1" cy="592.6" r="0.7" fill="#fff" stroke="none"/><circle cx="890.1" cy="592.6" r="0.7" fill="#fff" stroke="none"/><circle cx="889.1" cy="589.7" r="0.7" fill="#fff" stroke="none"/><circle cx="891.6" cy="598.9" r="4.3" stroke-width="1.25" fill="#4e4e4e"/><circle cx="891.6" cy="596.3" r="0.7" fill="#fff" stroke="none"/><circle cx="894.1" cy="598.1" r="0.7" fill="#fff" stroke="none"/><circle cx="893.1" cy="600.9" r="0.7" fill="#fff" stroke="none"/><circle cx="890.1" cy="600.9" r="0.7" fill="#fff" stroke="none"/><circle cx="889.1" cy="598.1" r="0.7" fill="#fff" stroke="none"/><circle cx="891.6" cy="607.2" r="4.3" stroke-width="1.25" fill="#4e4e4e"/><circle cx="891.6" cy="604.7" r="0.7" fill="#fff" stroke="none"/><circle cx="894.1" cy="606.4" r="0.7" fill="#fff" stroke="none"/><circle cx="893.1" cy="609.3" r="0.7" fill="#fff" stroke="none"/><circle cx="890.1" cy="609.3" r="0.7" fill="#fff" stroke="none"/><circle cx="889.1" cy="606.4" r="0.7" fill="#fff" stroke="none"/><circle cx="891.6" cy="615.6" r="4.3" stroke-width="1.25" fill="#4e4e4e"/><circle cx="891.6" cy="613" r="0.7" fill="#fff" stroke="none"/><circle cx="894.1" cy="614.8" r="0.7" fill="#fff" stroke="none"/><circle cx="893.1" cy="617.7" r="0.7" fill="#fff" stroke="none"/><circle cx="890.1" cy="617.7" r="0.7" fill="#fff" stroke="none"/><circle cx="889.1" cy="614.8" r="0.7" fill="#fff" stroke="none"/><circle cx="891.6" cy="626.2" r="6.5" stroke-width="1.25" fill="#4e4e4e"/><circle cx="891.6" cy="622.3" r="1" fill="#fff" stroke="none"/><circle cx="894.6" cy="623.8" r="1" fill="#fff" stroke="none"/><circle cx="895.4" cy="627.1" r="1" fill="#fff" stroke="none"/><circle cx="893.3" cy="629.7" r="1" fill="#fff" stroke="none"/><circle cx="889.9" cy="629.7" r="1" fill="#fff" stroke="none"/><circle cx="887.8" cy="627.1" r="1" fill="#fff" stroke="none"/><circle cx="888.6" cy="623.8" r="1" fill="#fff" stroke="none"/><circle cx="891.6" cy="636.7" r="4.3" stroke-width="1.25" fill="#4e4e4e"/><circle cx="891.6" cy="634.1" r="0.7" fill="#fff" stroke="none"/><circle cx="894.1" cy="635.9" r="0.7" fill="#fff" stroke="none"/><circle cx="893.1" cy="638.8" r="0.7" fill="#fff" stroke="none"/><circle cx="890.1" cy="638.8" r="0.7" fill="#fff" stroke="none"/><circle cx="889.1" cy="635.9" r="0.7" fill="#fff" stroke="none"/><circle cx="891.6" cy="645.1" r="4.3" stroke-width="1.25" fill="#4e4e4e"/><circle cx="891.6" cy="642.5" r="0.7" fill="#fff" stroke="none"/><circle cx="894.1" cy="644.3" r="0.7" fill="#fff" stroke="none"/><circle cx="893.1" cy="647.2" r="0.7" fill="#fff" stroke="none"/><circle cx="890.1" cy="647.2" r="0.7" fill="#fff" stroke="none"/><circle cx="889.1" cy="644.3" r="0.7" fill="#fff" stroke="none"/><circle cx="891.6" cy="653.5" r="4.3" stroke-width="1.25" fill="#4e4e4e"/><circle cx="891.6" cy="650.9" r="0.7" fill="#fff" stroke="none"/><circle cx="894.1" cy="652.7" r="0.7" fill="#fff" stroke="none"/><circle cx="893.1" cy="655.5" r="0.7" fill="#fff" stroke="none"/><circle cx="890.1" cy="655.5" r="0.7" fill="#fff" stroke="none"/><circle cx="889.1" cy="652.7" r="0.7" fill="#fff" stroke="none"/><circle cx="891.6" cy="661.8" r="4.3" stroke-width="1.25" fill="#4e4e4e"/><circle cx="891.6" cy="659.3" r="0.7" fill="#fff" stroke="none"/><circle cx="894.1" cy="661" r="0.7" fill="#fff" stroke="none"/><circle cx="893.1" cy="663.9" r="0.7" fill="#fff" stroke="none"/><circle cx="890.1" cy="663.9" r="0.7" fill="#fff" stroke="none"/><circle cx="889.1" cy="661" r="0.7" fill="#fff" stroke="none"/><circle cx="891.6" cy="672.4" r="6.5" stroke-width="1.25" fill="#4e4e4e"/><circle cx="891.6" cy="668.5" r="1" fill="#fff" stroke="none"/><circle cx="894.6" cy="670" r="1" fill="#fff" stroke="none"/><circle cx="895.4" cy="673.3" r="1" fill="#fff" stroke="none"/><circle cx="893.3" cy="675.9" r="1" fill="#fff" stroke="none"/><circle cx="889.9" cy="675.9" r="1" fill="#fff" stroke="none"/><circle cx="887.8" cy="673.3" r="1" fill="#fff" stroke="none"/><circle cx="888.6" cy="670" r="1" fill="#fff" stroke="none"/><circle cx="891.6" cy="682.9" r="4.3" stroke-width="1.25" fill="#4e4e4e"/><circle cx="891.6" cy="680.3" r="0.7" fill="#fff" stroke="none"/><circle cx="894.1" cy="682.1" r="0.7" fill="#fff" stroke="none"/><circle cx="893.1" cy="685" r="0.7" fill="#fff" stroke="none"/><circle cx="890.1" cy="685" r="0.7" fill="#fff" stroke="none"/><circle cx="889.1" cy="682.1" r="0.7" fill="#fff" stroke="none"/><circle cx="891.6" cy="691.3" r="4.3" stroke-width="1.25" fill="#4e4e4e"/><circle cx="891.6" cy="688.7" r="0.7" fill="#fff" stroke="none"/><circle cx="894.1" cy="690.5" r="0.7" fill="#fff" stroke="none"/><circle cx="893.1" cy="693.4" r="0.7" fill="#fff" stroke="none"/><circle cx="890.1" cy="693.4" r="0.7" fill="#fff" stroke="none"/><circle cx="889.1" cy="690.5" r="0.7" fill="#fff" stroke="none"/><circle cx="891.6" cy="699.7" r="4.3" stroke-width="1.25" fill="#4e4e4e"/><circle cx="891.6" cy="697.1" r="0.7" fill="#fff" stroke="none"/><circle cx="894.1" cy="698.9" r="0.7" fill="#fff" stroke="none"/><circle cx="893.1" cy="701.8" r="0.7" fill="#fff" stroke="none"/><circle cx="890.1" cy="701.8" r="0.7" fill="#fff" stroke="none"/><circle cx="889.1" cy="698.9" r="0.7" fill="#fff" stroke="none"/><circle cx="891.6" cy="708.1" r="4.3" stroke-width="1.25" fill="#4e4e4e"/><circle cx="891.6" cy="705.5" r="0.7" fill="#fff" stroke="none"/><circle cx="894.1" cy="707.3" r="0.7" fill="#fff" stroke="none"/><circle cx="893.1" cy="710.1" r="0.7" fill="#fff" stroke="none"/><circle cx="890.1" cy="710.1" r="0.7" fill="#fff" stroke="none"/><circle cx="889.1" cy="707.3" r="0.7" fill="#fff" stroke="none"/><circle cx="891.6" cy="718.6" r="6.5" stroke-width="1.25" fill="#4e4e4e"/><circle cx="891.6" cy="714.7" r="1" fill="#fff" stroke="none"/><circle cx="894.6" cy="716.2" r="1" fill="#fff" stroke="none"/><circle cx="895.4" cy="719.5" r="1" fill="#fff" stroke="none"/><circle cx="893.3" cy="722.2" r="1" fill="#fff" stroke="none"/><circle cx="889.9" cy="722.2" r="1" fill="#fff" stroke="none"/><circle cx="887.8" cy="719.5" r="1" fill="#fff" stroke="none"/><circle cx="888.6" cy="716.2" r="1" fill="#fff" stroke="none"/><circle cx="891.6" cy="729.1" r="4.3" stroke-width="1.25" fill="#4e4e4e"/><circle cx="891.6" cy="726.5" r="0.7" fill="#fff" stroke="none"/><circle cx="894.1" cy="728.3" r="0.7" fill="#fff" stroke="none"/><circle cx="893.1" cy="731.2" r="0.7" fill="#fff" stroke="none"/><circle cx="890.1" cy="731.2" r="0.7" fill="#fff" stroke="none"/><circle cx="889.1" cy="728.3" r="0.7" fill="#fff" stroke="none"/><circle cx="891.6" cy="737.5" r="4.3" stroke-width="1.25" fill="#4e4e4e"/><circle cx="891.6" cy="734.9" r="0.7" fill="#fff" stroke="none"/><circle cx="894.1" cy="736.7" r="0.7" fill="#fff" stroke="none"/><circle cx="893.1" cy="739.6" r="0.7" fill="#fff" stroke="none"/><circle cx="890.1" cy="739.6" r="0.7" fill="#fff" stroke="none"/><circle cx="889.1" cy="736.7" r="0.7" fill="#fff" stroke="none"/><circle cx="891.6" cy="745.9" r="4.3" stroke-width="1.25" fill="#4e4e4e"/><circle cx="891.6" cy="743.3" r="0.7" fill="#fff" stroke="none"/><circle cx="894.1" cy="745.1" r="0.7" fill="#fff" stroke="none"/><circle cx="893.1" cy="748" r="0.7" fill="#fff" stroke="none"/><circle cx="890.1" cy="748" r="0.7" fill="#fff" stroke="none"/><circle cx="889.1" cy="745.1" r="0.7" fill="#fff" stroke="none"/><circle cx="891.6" cy="751.5" r="1.8" stroke-width="0.9"/><line x1="1662" y1="239.6" x2="1662" y2="800" stroke-width="0.9"/><path d="M1605,223.2 L1719,223.2 L1718,228.43599999999998 L1606,228.43599999999998 Z" stroke-width="1.1"/><path d="M1606.5,228.4 C1607.5,229.7 1610.2,233.1 1612.1,235.8 C1614,238.5 1616.1,241 1617.8,244.7 C1619.6,248.4 1621.1,253.4 1622.6,257.8 C1624.1,262.2 1625.2,266.8 1626.8,270.9 C1628.5,274.9 1629.9,279 1632.5,282.1 C1635.2,285.2 1640.3,288.1 1643,289.6 C1645.7,291.1 1647.8,290.8 1648.7,291" stroke-width="1.1"/><path d="M1675.3,291 C1676.2,290.8 1678.3,291.1 1681,289.6 C1683.7,288.1 1688.8,285.2 1691.5,282.1 C1694.1,279 1695.5,274.9 1697.2,270.9 C1698.8,266.8 1699.9,262.2 1701.4,257.8 C1702.9,253.4 1704.4,248.4 1706.2,244.7 C1707.9,241 1710,238.5 1711.9,235.8 C1713.8,233.1 1716.5,229.7 1717.5,228.4" stroke-width="1.1"/><rect x="1648.3" y="291" width="27.4" height="1.9" stroke-width="0.9"/><rect x="1655.5" y="294.4" width="13" height="9.7" stroke-width="1"/><circle cx="1670.9" cy="299.4" r="1.5" fill="#111" stroke="none"/><line x1="1668.5" y1="299.4" x2="1670.1" y2="299.4" stroke-width="0.8"/><rect x="1656.7" y="304.1" width="10.7" height="39" stroke-width="1"/><rect x="1653.9" y="343.1" width="17" height="13" fill="#111" stroke-width="0.8"/><line x1="1670.9" y1="349.1" x2="1673.9" y2="349.1" stroke-width="1.3"/><rect x="1659.1" y="356.1" width="5.7" height="16.2" fill="#111" stroke-width="0.8"/><path d="M1662,364.11499999999995 C1669.64,363.15999999999997 1672.505,392.76499999999993 1670.595,398.49499999999995 C1668.685,402.31499999999994 1654.36,402.31499999999994 1652.45,396.5849999999999 C1651.495,390.85499999999996 1656.27,365.06999999999994 1662,364.11499999999995 Z" stroke="#222" stroke-width="3.574" fill="none" stroke-linecap="butt"/><path d="M1662,364.11499999999995 C1669.64,363.15999999999997 1672.505,392.76499999999993 1670.595,398.49499999999995 C1668.685,402.31499999999994 1654.36,402.31499999999994 1652.45,396.5849999999999 C1651.495,390.85499999999996 1656.27,365.06999999999994 1662,364.11499999999995 Z" stroke="#fff" stroke-width="1.774" fill="none" stroke-linecap="butt"/><rect x="1659.1" y="356.1" width="5.7" height="16.2" fill="#111" stroke-width="0.8"/><ellipse cx="1662" cy="413.8" rx="8.3" ry="18.1" stroke="#222" stroke-width="3.6289999999999996" fill="none"/><ellipse cx="1662" cy="413.8" rx="8.3" ry="18.1" stroke="#fff" stroke-width="1.8144999999999998" fill="none"/><ellipse cx="1662" cy="445.9" rx="8.1" ry="18.3" stroke="#222" stroke-width="3.6289999999999996" fill="none"/><ellipse cx="1662" cy="445.9" rx="8.1" ry="18.3" stroke="#fff" stroke-width="1.8144999999999998" fill="none"/><circle cx="1662" cy="474.7" r="17.8" stroke="#222" stroke-width="5.7299999999999995" fill="none"/><circle cx="1662" cy="474.7" r="17.8" stroke="#fff" stroke-width="3.82" fill="none"/><rect x="1618.6" y="489.3" width="87.1" height="3.9" rx="1.5" stroke-width="1"/><path d="M1623.2,493.2 L1623.2,505 C1623.2,510 1627,513.4 1632,513.4 L1692,513.4 C1697,513.4 1701.8,510 1701.8,505 L1701.8,493.2" stroke-width="1.1"/><line x1="1623.2" y1="498" x2="1701.8" y2="498" stroke-width="0.8"/><path d="M1655,489 L1655,503 L1653,503.5 L1653,506.5 L1671,506.5 L1671,503.5 L1669,503 L1669,489" stroke-width="0.9"/><line x1="1655.1" y1="514" x2="1655.1" y2="585.8" stroke-width="1"/><line x1="1669.1" y1="514" x2="1669.1" y2="585.8" stroke-width="1"/><rect x="1653.3" y="585.8" width="17.4" height="3.9" rx="1" stroke-width="1"/><path d="M1654.3,589.7 L1669.9,589.7 C1670,595 1672,600 1675,603.5 L1649,603.5 C1652,600 1654,595 1654.3,589.7 Z" stroke-width="1"/><clipPath id="pa1662618"><ellipse cx="1662" cy="618.1" rx="21" ry="13.6"/></clipPath><g clip-path="url(#pa1662618)" stroke-width="0.9"><line x1="1603.8" y1="603.1" x2="1633.8" y2="633.1"/><line x1="1633.8" y1="603.1" x2="1603.8" y2="633.1"/><line x1="1611" y1="603.1" x2="1641" y2="633.1"/><line x1="1641" y1="603.1" x2="1611" y2="633.1"/><line x1="1618.2" y1="603.1" x2="1648.2" y2="633.1"/><line x1="1648.2" y1="603.1" x2="1618.2" y2="633.1"/><line x1="1625.4" y1="603.1" x2="1655.4" y2="633.1"/><line x1="1655.4" y1="603.1" x2="1625.4" y2="633.1"/><line x1="1632.6" y1="603.1" x2="1662.6" y2="633.1"/><line x1="1662.6" y1="603.1" x2="1632.6" y2="633.1"/><line x1="1639.8" y1="603.1" x2="1669.8" y2="633.1"/><line x1="1669.8" y1="603.1" x2="1639.8" y2="633.1"/><line x1="1647" y1="603.1" x2="1677" y2="633.1"/><line x1="1677" y1="603.1" x2="1647" y2="633.1"/><line x1="1654.2" y1="603.1" x2="1684.2" y2="633.1"/><line x1="1684.2" y1="603.1" x2="1654.2" y2="633.1"/><line x1="1661.4" y1="603.1" x2="1691.4" y2="633.1"/><line x1="1691.4" y1="603.1" x2="1661.4" y2="633.1"/><line x1="1668.6" y1="603.1" x2="1698.6" y2="633.1"/><line x1="1698.6" y1="603.1" x2="1668.6" y2="633.1"/><line x1="1675.8" y1="603.1" x2="1705.8" y2="633.1"/><line x1="1705.8" y1="603.1" x2="1675.8" y2="633.1"/><line x1="1683" y1="603.1" x2="1713" y2="633.1"/><line x1="1713" y1="603.1" x2="1683" y2="633.1"/><line x1="1690.2" y1="603.1" x2="1720.2" y2="633.1"/><line x1="1720.2" y1="603.1" x2="1690.2" y2="633.1"/></g><ellipse cx="1662" cy="618.1" rx="21" ry="13.6" stroke-width="1.1"/><ellipse cx="1662" cy="618.1" rx="10.5" ry="13.6" stroke-width="0.7"/><line x1="1650.5" y1="630.1" x2="1673.5" y2="630.1" stroke-width="0.9"/><line x1="1650.5" y1="606.1" x2="1673.5" y2="606.1" stroke-width="0.9"/><path d="M1651.7,631.7 C1654,636 1655,642 1653.5,650 L1670.5,650 C1669,642 1670,636 1672.2,631.7" stroke-width="1"/><rect x="1652.5" y="645" width="19" height="3" stroke-width="0.9"/><rect x="1653" y="650" width="18" height="5.8" stroke-width="1"/><rect x="1610" y="655.8" width="104.2" height="34.2" stroke-width="1.1"/><line x1="1610" y1="685.3" x2="1714.2" y2="685.3" stroke-width="1"/><path d="M1612,690 C1625,695 1640,703 1651.8,704.4 L1673,704.4 C1685,703 1700,695 1712,690" stroke-width="1.1"/><line x1="1610" y1="690.8" x2="1714.2" y2="690.8" stroke-width="1.6"/><path d="M1614,691.5 Q1628.5,699 1651,703.5" stroke-width="0.7"/><path d="M1619.3,691.5 Q1632.2,699 1652.2,703.5" stroke-width="0.7"/><path d="M1624.7,691.5 Q1635.9,699 1653.4,703.5" stroke-width="0.7"/><path d="M1630,691.5 Q1639.7,699 1654.7,703.5" stroke-width="0.7"/><path d="M1635.3,691.5 Q1643.4,699 1655.9,703.5" stroke-width="0.7"/><path d="M1640.7,691.5 Q1647.1,699 1657.1,703.5" stroke-width="0.7"/><path d="M1646,691.5 Q1650.8,699 1658.3,703.5" stroke-width="0.7"/><path d="M1651.3,691.5 Q1654.6,699 1659.6,703.5" stroke-width="0.7"/><path d="M1656.7,691.5 Q1658.3,699 1660.8,703.5" stroke-width="0.7"/><path d="M1662,691.5 Q1662,699 1662,703.5" stroke-width="0.7"/><path d="M1667.3,691.5 Q1665.7,699 1663.2,703.5" stroke-width="0.7"/><path d="M1672.7,691.5 Q1669.4,699 1664.4,703.5" stroke-width="0.7"/><path d="M1678,691.5 Q1673.2,699 1665.7,703.5" stroke-width="0.7"/><path d="M1683.3,691.5 Q1676.9,699 1666.9,703.5" stroke-width="0.7"/><path d="M1688.7,691.5 Q1680.6,699 1668.1,703.5" stroke-width="0.7"/><path d="M1694,691.5 Q1684.3,699 1669.3,703.5" stroke-width="0.7"/><path d="M1699.3,691.5 Q1688.1,699 1670.6,703.5" stroke-width="0.7"/><path d="M1704.7,691.5 Q1691.8,699 1671.8,703.5" stroke-width="0.7"/><path d="M1710,691.5 Q1695.5,699 1673,703.5" stroke-width="0.7"/><line x1="1651.8" y1="705" x2="1673" y2="705" stroke-width="1"/><path d="M1652.5,706 C1650,712 1653,722 1662,723.3 C1671,722 1674,712 1671.5,706" stroke-width="1"/><circle cx="1662" cy="724.8" r="2" stroke-width="1" fill="#333"/><path d="M1669.4,747 L1665.1,751.3 L1658.9,751.3 L1654.6,747 L1654.6,740.8 L1658.9,736.5 L1665.1,736.5 L1669.4,740.8 Z" stroke-width="0.8"/><line x1="1669.4" y1="747" x2="1654.6" y2="740.8" stroke-width="0.5599999999999999"/><line x1="1665.1" y1="751.3" x2="1658.9" y2="736.5" stroke-width="0.5599999999999999"/><line x1="1658.9" y1="751.3" x2="1665.1" y2="736.5" stroke-width="0.5599999999999999"/><line x1="1654.6" y1="747" x2="1669.4" y2="740.8" stroke-width="0.5599999999999999"/><circle cx="1662" cy="743.9" r="3.6" stroke-width="0.48"/><clipPath id="cb16620_7790"><path d="M1658.5,761.4 L1665.5,761.4 C1672.7,762.8 1677.7,770.2 1677.7,779 C1677.7,787.8 1670.6,794.1 1662,796.6 C1653.4,794.1 1646.3,787.8 1646.3,779 C1646.3,770.2 1651.3,762.8 1658.5,761.4 Z"/></clipPath><g clip-path="url(#cb16620_7790)" stroke-width="0.68"><line x1="1592.6" y1="742" x2="1634.8" y2="816"/><line x1="1634.8" y1="742" x2="1592.6" y2="816"/><line x1="1598.6" y1="742" x2="1640.9" y2="816"/><line x1="1640.9" y1="742" x2="1598.6" y2="816"/><line x1="1604.6" y1="742" x2="1646.9" y2="816"/><line x1="1646.9" y1="742" x2="1604.6" y2="816"/><line x1="1610.7" y1="742" x2="1652.9" y2="816"/><line x1="1652.9" y1="742" x2="1610.7" y2="816"/><line x1="1616.7" y1="742" x2="1659" y2="816"/><line x1="1659" y1="742" x2="1616.7" y2="816"/><line x1="1622.8" y1="742" x2="1665" y2="816"/><line x1="1665" y1="742" x2="1622.8" y2="816"/><line x1="1628.8" y1="742" x2="1671" y2="816"/><line x1="1671" y1="742" x2="1628.8" y2="816"/><line x1="1634.8" y1="742" x2="1677.1" y2="816"/><line x1="1677.1" y1="742" x2="1634.8" y2="816"/><line x1="1640.9" y1="742" x2="1683.1" y2="816"/><line x1="1683.1" y1="742" x2="1640.9" y2="816"/><line x1="1646.9" y1="742" x2="1689.2" y2="816"/><line x1="1689.2" y1="742" x2="1646.9" y2="816"/><line x1="1653" y1="742" x2="1695.2" y2="816"/><line x1="1695.2" y1="742" x2="1653" y2="816"/><line x1="1659" y1="742" x2="1701.2" y2="816"/><line x1="1701.2" y1="742" x2="1659" y2="816"/><line x1="1665" y1="742" x2="1707.3" y2="816"/><line x1="1707.3" y1="742" x2="1665" y2="816"/><line x1="1671.1" y1="742" x2="1713.3" y2="816"/><line x1="1713.3" y1="742" x2="1671.1" y2="816"/><line x1="1677.1" y1="742" x2="1719.4" y2="816"/><line x1="1719.4" y1="742" x2="1677.1" y2="816"/><line x1="1683.1" y1="742" x2="1725.4" y2="816"/><line x1="1725.4" y1="742" x2="1683.1" y2="816"/><line x1="1689.2" y1="742" x2="1731.4" y2="816"/><line x1="1731.4" y1="742" x2="1689.2" y2="816"/><line x1="1643.2" y1="747.5" x2="1680.8" y2="747.5"/><line x1="1643.2" y1="752.7" x2="1680.8" y2="752.7"/><line x1="1643.2" y1="758" x2="1680.8" y2="758"/><line x1="1643.2" y1="763.2" x2="1680.8" y2="763.2"/><line x1="1643.2" y1="768.5" x2="1680.8" y2="768.5"/><line x1="1643.2" y1="773.7" x2="1680.8" y2="773.7"/><line x1="1643.2" y1="779" x2="1680.8" y2="779"/><line x1="1643.2" y1="784.3" x2="1680.8" y2="784.3"/><line x1="1643.2" y1="789.5" x2="1680.8" y2="789.5"/><line x1="1643.2" y1="794.8" x2="1680.8" y2="794.8"/><line x1="1643.2" y1="800" x2="1680.8" y2="800"/><line x1="1643.2" y1="805.3" x2="1680.8" y2="805.3"/><line x1="1643.2" y1="810.5" x2="1680.8" y2="810.5"/></g><path d="M1658.5,761.4 L1665.5,761.4 C1672.7,762.8 1677.7,770.2 1677.7,779 C1677.7,787.8 1670.6,794.1 1662,796.6 C1653.4,794.1 1646.3,787.8 1646.3,779 C1646.3,770.2 1651.3,762.8 1658.5,761.4 Z" stroke-width="1.1199999999999999"/><circle cx="1662" cy="764.4" r="1.6" stroke-width="0.8"/><path d="M1639.6,514 C1639.6,521.7 1639.6,547.3 1639.4,560 C1639.2,572.7 1639.6,580.8 1638.5,590 C1637.4,599.2 1636.1,608 1633,615 C1629.9,622 1625.5,628.1 1620,632 C1614.5,635.9 1604.7,637.2 1600,638.5 C1595.3,639.8 1593.3,639.3 1592,639.5" stroke="#222" stroke-width="8.8" fill="none"/><path d="M1580,619 C1581.7,620.8 1585.7,627.5 1590,630 C1594.3,632.5 1600.8,634.7 1606,634 C1611.2,633.3 1616.8,630 1621,626 C1625.2,622 1628.3,615.7 1631,610 C1633.7,604.3 1635.7,597.8 1637,592 C1638.3,586.2 1638.5,577.8 1638.8,575" stroke="#222" stroke-width="6.5" fill="none"/><path d="M1639.6,514 C1639.6,521.7 1639.6,547.3 1639.4,560 C1639.2,572.7 1639.6,580.8 1638.5,590 C1637.4,599.2 1636.1,608 1633,615 C1629.9,622 1625.5,628.1 1620,632 C1614.5,635.9 1604.7,637.2 1600,638.5 C1595.3,639.8 1593.3,639.3 1592,639.5" stroke="#fff" stroke-width="6.8" fill="none"/><path d="M1580,619 C1581.7,620.8 1585.7,627.5 1590,630 C1594.3,632.5 1600.8,634.7 1606,634 C1611.2,633.3 1616.8,630 1621,626 C1625.2,622 1628.3,615.7 1631,610 C1633.7,604.3 1635.7,597.8 1637,592 C1638.3,586.2 1638.5,577.8 1638.8,575" stroke="#fff" stroke-width="4.5" fill="none"/><path d="M1607.5,571 C1606.8,571.8 1604.7,575.4 1603,575.5 C1601.3,575.6 1598.4,573.6 1597.5,571.5 C1596.6,569.4 1596.5,565.5 1597.5,563 C1598.5,560.5 1601.1,557.8 1603.5,556.5 C1605.9,555.2 1609.1,554.6 1612,555.5 C1614.9,556.4 1618.8,558.2 1621,562 C1623.2,565.8 1624.8,572.8 1625.5,578 C1626.2,583.2 1626.2,588.3 1625,593 C1623.8,597.7 1621,603.2 1618,606 C1615,608.8 1610.2,609.8 1607,610 C1603.8,610.2 1600.2,608.7 1598.5,607 C1596.8,605.3 1596.1,601.9 1596.5,600 C1596.9,598.1 1599.5,595.7 1601,595.5 C1602.5,595.3 1604.8,598.4 1605.5,599" stroke="#222" stroke-width="6.0" fill="none" stroke-linecap="butt"/><path d="M1607.5,571 C1606.8,571.8 1604.7,575.4 1603,575.5 C1601.3,575.6 1598.4,573.6 1597.5,571.5 C1596.6,569.4 1596.5,565.5 1597.5,563 C1598.5,560.5 1601.1,557.8 1603.5,556.5 C1605.9,555.2 1609.1,554.6 1612,555.5 C1614.9,556.4 1618.8,558.2 1621,562 C1623.2,565.8 1624.8,572.8 1625.5,578 C1626.2,583.2 1626.2,588.3 1625,593 C1623.8,597.7 1621,603.2 1618,606 C1615,608.8 1610.2,609.8 1607,610 C1603.8,610.2 1600.2,608.7 1598.5,607 C1596.8,605.3 1596.1,601.9 1596.5,600 C1596.9,598.1 1599.5,595.7 1601,595.5 C1602.5,595.3 1604.8,598.4 1605.5,599" stroke="#fff" stroke-width="4.0" fill="none" stroke-linecap="butt"/><rect x="1634.5" y="513.5" width="10" height="2.5" stroke-width="0.9" fill="#fff"/><circle cx="1628.7" cy="560.9" r="6.2" stroke-width="1.1" fill="#fff"/><circle cx="1620.1" cy="613.8" r="6.2" stroke-width="1.1" fill="#fff"/><circle cx="1578.9" cy="613.8" r="6.2" stroke-width="1.1" fill="#fff"/><circle cx="1589.8" cy="639.5" r="6.2" stroke-width="1.1" fill="#fff"/><path d="M1440,653.5 C1450,662 1460,665 1471,664.5 C1492,664 1522,648 1553,642 C1576,638 1593,650 1597,667 C1600,681 1592,692 1581,693 C1572,693.5 1567,684 1572,677.5 C1575,673.5 1580,673.5 1581,676.5" stroke="#222" stroke-width="11.0" fill="none" stroke-linecap="butt"/><path d="M1440,653.5 C1450,662 1460,665 1471,664.5 C1492,664 1522,648 1553,642 C1576,638 1593,650 1597,667 C1600,681 1592,692 1581,693 C1572,693.5 1567,684 1572,677.5 C1575,673.5 1580,673.5 1581,676.5" stroke="#fff" stroke-width="9.0" fill="none" stroke-linecap="butt"/><path d="M1440,653.5 C1450,662 1460,665 1471,664.5 C1492,664 1522,648 1553,642 C1576,638 1593,650 1597,667 C1600,681 1592,692 1581,693 C1572,693.5 1567,684 1572,677.5 C1575,673.5 1580,673.5 1581,676.5" stroke="#222" stroke-width="1.0" fill="none"/><circle cx="1439.1" cy="653.3" r="6.2" stroke-width="1.1" fill="#fff"/><line x1="1436" y1="650.5" x2="1443" y2="656" stroke-width="0.9"/><ellipse cx="1606.1" cy="672.9" rx="3.9" ry="8.6" stroke-width="1" fill="#fff"/><path d="M1470.3,632.9 C1472.5,638 1478.5,643 1479.2,647 C1478.5,651 1475.5,655 1474.7,659 L1465.8,659 C1465,655 1462,651 1461.4,647 C1462,643 1468,638 1470.3,632.9 Z" stroke-width="1" fill="#fff"/><ellipse cx="1470.3" cy="673.6" rx="8.5" ry="5" stroke-width="1" fill="#fff"/><path d="M1455.6,692.7 L1455.6,686 C1455.6,681 1457.5,678.7 1462,678.7 L1478.5,678.7 C1483,678.7 1484.9,681 1484.9,686 L1484.9,692.7" stroke-width="1.1"/><path d="M1459.5,692.7 L1461,684 C1461.5,682 1463,681.5 1465,681.5 L1475.5,681.5 C1477.5,681.5 1479,682 1479.5,684 L1481,692.7" stroke-width="0.9"/><line x1="1470.3" y1="676" x2="1470.3" y2="700" stroke-width="0.8"/><rect x="1455.9" y="699" width="28" height="45.8" fill="#5a5a5a" stroke-width="0.8"/><rect x="1420.6" y="692" width="98.6" height="7.4" stroke-width="1.1"/><line x1="1422.6" y1="692.5" x2="1433.6" y2="712" stroke-width="0.9"/><line x1="1517.2" y1="692.5" x2="1506.2" y2="712" stroke-width="0.9"/><line x1="1419.4" y1="700" x2="1419.4" y2="848.9" stroke-width="0.8"/><line x1="1440.6" y1="700" x2="1440.6" y2="848.9" stroke-width="0.8"/><line x1="1469.9" y1="700" x2="1469.9" y2="848.9" stroke-width="0.8"/><line x1="1500.4" y1="700" x2="1500.4" y2="848.9" stroke-width="0.8"/><line x1="1520.4" y1="700" x2="1520.4" y2="848.9" stroke-width="0.8"/><line x1="1428.9" y1="700" x2="1428.9" y2="706" stroke-width="0.8"/><line x1="1460.9" y1="700" x2="1460.9" y2="706" stroke-width="0.8"/><line x1="1491.9" y1="700" x2="1491.9" y2="706" stroke-width="0.8"/><line x1="1512.9" y1="700" x2="1512.9" y2="706" stroke-width="0.8"/><path d="M1419.4,707.9 C1434.7,716.5 1434.7,740.3 1419.4,748.9 C1404.1,740.3 1404.1,716.5 1419.4,707.9 Z" stroke-width="1.15"/><path d="M1419.4,708.9 C1432.9,717.1 1432.9,739.7 1419.4,747.9 C1405.9,739.7 1405.9,717.1 1419.4,708.9 Z" stroke-width="0.55"/><path d="M1410.7,728.4 L1415,723.1 L1419.1,728.4 L1415,733.7 Z" stroke-width="0.8"/><line x1="1415" y1="716.5" x2="1415" y2="723.1" stroke-width="0.7"/><line x1="1415" y1="740.3" x2="1415" y2="733.7" stroke-width="0.7"/><line x1="1411.1" y1="719.2" x2="1411.1" y2="737.6" stroke-width="0.5"/><path d="M1428.1,728.4 L1423.8,723.1 L1419.7,728.4 L1423.8,733.7 Z" stroke-width="0.8"/><line x1="1423.8" y1="716.5" x2="1423.8" y2="723.1" stroke-width="0.7"/><line x1="1423.8" y1="740.3" x2="1423.8" y2="733.7" stroke-width="0.7"/><line x1="1427.7" y1="719.2" x2="1427.7" y2="737.6" stroke-width="0.5"/><path d="M1410.4,725.9 L1415,716.5 L1419.4,721.8 L1423.8,716.5 L1428.4,725.9" stroke-width="0.8"/><path d="M1415,716.5 L1419.4,709.9 L1423.8,716.5" stroke-width="0.8"/><path d="M1410.4,730.9 L1415,740.3 L1419.4,735 L1423.8,740.3 L1428.4,730.9" stroke-width="0.8"/><path d="M1415,740.3 L1419.4,746.9 L1423.8,740.3" stroke-width="0.8"/><line x1="1409.3" y1="728.4" x2="1429.5" y2="728.4" stroke-width="0.5"/><line x1="1419.4" y1="707.9" x2="1419.4" y2="748.9" stroke-width="0.8"/><circle cx="1419.4" cy="728.4" r="1" fill="#000" stroke="none"/><circle cx="1419.4" cy="745.2" r="0.9" fill="#000" stroke="none"/><circle cx="1419.4" cy="710.8" r="0.9" stroke-width="0.6"/><path d="M1440.6,707.9 C1457.3,716.5 1457.3,740.3 1440.6,748.9 C1423.9,740.3 1423.9,716.5 1440.6,707.9 Z" stroke-width="1.15"/><path d="M1440.6,708.9 C1455.3,717.1 1455.3,739.7 1440.6,747.9 C1425.9,739.7 1425.9,717.1 1440.6,708.9 Z" stroke-width="0.55"/><path d="M1431.2,728.4 L1435.8,723.1 L1440.3,728.4 L1435.8,733.7 Z" stroke-width="0.8"/><line x1="1435.8" y1="716.5" x2="1435.8" y2="723.1" stroke-width="0.7"/><line x1="1435.8" y1="740.3" x2="1435.8" y2="733.7" stroke-width="0.7"/><line x1="1431.6" y1="719.2" x2="1431.6" y2="737.6" stroke-width="0.5"/><path d="M1450,728.4 L1445.4,723.1 L1440.9,728.4 L1445.4,733.7 Z" stroke-width="0.8"/><line x1="1445.4" y1="716.5" x2="1445.4" y2="723.1" stroke-width="0.7"/><line x1="1445.4" y1="740.3" x2="1445.4" y2="733.7" stroke-width="0.7"/><line x1="1449.6" y1="719.2" x2="1449.6" y2="737.6" stroke-width="0.5"/><path d="M1430.8,725.9 L1435.8,716.5 L1440.6,721.8 L1445.4,716.5 L1450.4,725.9" stroke-width="0.8"/><path d="M1435.8,716.5 L1440.6,709.9 L1445.4,716.5" stroke-width="0.8"/><path d="M1430.8,730.9 L1435.8,740.3 L1440.6,735 L1445.4,740.3 L1450.4,730.9" stroke-width="0.8"/><path d="M1435.8,740.3 L1440.6,746.9 L1445.4,740.3" stroke-width="0.8"/><line x1="1429.7" y1="728.4" x2="1451.5" y2="728.4" stroke-width="0.5"/><line x1="1440.6" y1="707.9" x2="1440.6" y2="748.9" stroke-width="0.8"/><circle cx="1440.6" cy="728.4" r="1" fill="#000" stroke="none"/><circle cx="1440.6" cy="745.2" r="0.9" fill="#000" stroke="none"/><circle cx="1440.6" cy="710.8" r="0.9" stroke-width="0.6"/><path d="M1500.4,707.9 C1517.1,716.5 1517.1,740.3 1500.4,748.9 C1483.7,740.3 1483.7,716.5 1500.4,707.9 Z" stroke-width="1.15"/><path d="M1500.4,708.9 C1515.1,717.1 1515.1,739.7 1500.4,747.9 C1485.7,739.7 1485.7,717.1 1500.4,708.9 Z" stroke-width="0.55"/><path d="M1491,728.4 L1495.6,723.1 L1500.1,728.4 L1495.6,733.7 Z" stroke-width="0.8"/><line x1="1495.6" y1="716.5" x2="1495.6" y2="723.1" stroke-width="0.7"/><line x1="1495.6" y1="740.3" x2="1495.6" y2="733.7" stroke-width="0.7"/><line x1="1491.4" y1="719.2" x2="1491.4" y2="737.6" stroke-width="0.5"/><path d="M1509.8,728.4 L1505.2,723.1 L1500.7,728.4 L1505.2,733.7 Z" stroke-width="0.8"/><line x1="1505.2" y1="716.5" x2="1505.2" y2="723.1" stroke-width="0.7"/><line x1="1505.2" y1="740.3" x2="1505.2" y2="733.7" stroke-width="0.7"/><line x1="1509.4" y1="719.2" x2="1509.4" y2="737.6" stroke-width="0.5"/><path d="M1490.6,725.9 L1495.6,716.5 L1500.4,721.8 L1505.2,716.5 L1510.2,725.9" stroke-width="0.8"/><path d="M1495.6,716.5 L1500.4,709.9 L1505.2,716.5" stroke-width="0.8"/><path d="M1490.6,730.9 L1495.6,740.3 L1500.4,735 L1505.2,740.3 L1510.2,730.9" stroke-width="0.8"/><path d="M1495.6,740.3 L1500.4,746.9 L1505.2,740.3" stroke-width="0.8"/><line x1="1489.5" y1="728.4" x2="1511.3" y2="728.4" stroke-width="0.5"/><line x1="1500.4" y1="707.9" x2="1500.4" y2="748.9" stroke-width="0.8"/><circle cx="1500.4" cy="728.4" r="1" fill="#000" stroke="none"/><circle cx="1500.4" cy="745.2" r="0.9" fill="#000" stroke="none"/><circle cx="1500.4" cy="710.8" r="0.9" stroke-width="0.6"/><path d="M1520.4,707.9 C1535.7,716.5 1535.7,740.3 1520.4,748.9 C1505.1,740.3 1505.1,716.5 1520.4,707.9 Z" stroke-width="1.15"/><path d="M1520.4,708.9 C1533.9,717.1 1533.9,739.7 1520.4,747.9 C1506.9,739.7 1506.9,717.1 1520.4,708.9 Z" stroke-width="0.55"/><path d="M1511.7,728.4 L1516,723.1 L1520.1,728.4 L1516,733.7 Z" stroke-width="0.8"/><line x1="1516" y1="716.5" x2="1516" y2="723.1" stroke-width="0.7"/><line x1="1516" y1="740.3" x2="1516" y2="733.7" stroke-width="0.7"/><line x1="1512.1" y1="719.2" x2="1512.1" y2="737.6" stroke-width="0.5"/><path d="M1529.1,728.4 L1524.8,723.1 L1520.7,728.4 L1524.8,733.7 Z" stroke-width="0.8"/><line x1="1524.8" y1="716.5" x2="1524.8" y2="723.1" stroke-width="0.7"/><line x1="1524.8" y1="740.3" x2="1524.8" y2="733.7" stroke-width="0.7"/><line x1="1528.7" y1="719.2" x2="1528.7" y2="737.6" stroke-width="0.5"/><path d="M1511.4,725.9 L1516,716.5 L1520.4,721.8 L1524.8,716.5 L1529.4,725.9" stroke-width="0.8"/><path d="M1516,716.5 L1520.4,709.9 L1524.8,716.5" stroke-width="0.8"/><path d="M1511.4,730.9 L1516,740.3 L1520.4,735 L1524.8,740.3 L1529.4,730.9" stroke-width="0.8"/><path d="M1516,740.3 L1520.4,746.9 L1524.8,740.3" stroke-width="0.8"/><line x1="1510.3" y1="728.4" x2="1530.5" y2="728.4" stroke-width="0.5"/><line x1="1520.4" y1="707.9" x2="1520.4" y2="748.9" stroke-width="0.8"/><circle cx="1520.4" cy="728.4" r="1" fill="#000" stroke="none"/><circle cx="1520.4" cy="745.2" r="0.9" fill="#000" stroke="none"/><circle cx="1520.4" cy="710.8" r="0.9" stroke-width="0.6"/><path d="M1419.4,754.9 C1434.7,763.5 1434.7,787.3 1419.4,795.9 C1404.1,787.3 1404.1,763.5 1419.4,754.9 Z" stroke-width="1.15"/><path d="M1419.4,755.9 C1432.9,764.1 1432.9,786.7 1419.4,794.9 C1405.9,786.7 1405.9,764.1 1419.4,755.9 Z" stroke-width="0.55"/><path d="M1410.7,775.4 L1415,770.1 L1419.1,775.4 L1415,780.7 Z" stroke-width="0.8"/><line x1="1415" y1="763.5" x2="1415" y2="770.1" stroke-width="0.7"/><line x1="1415" y1="787.3" x2="1415" y2="780.7" stroke-width="0.7"/><line x1="1411.1" y1="766.2" x2="1411.1" y2="784.6" stroke-width="0.5"/><path d="M1428.1,775.4 L1423.8,770.1 L1419.7,775.4 L1423.8,780.7 Z" stroke-width="0.8"/><line x1="1423.8" y1="763.5" x2="1423.8" y2="770.1" stroke-width="0.7"/><line x1="1423.8" y1="787.3" x2="1423.8" y2="780.7" stroke-width="0.7"/><line x1="1427.7" y1="766.2" x2="1427.7" y2="784.6" stroke-width="0.5"/><path d="M1410.4,772.9 L1415,763.5 L1419.4,768.8 L1423.8,763.5 L1428.4,772.9" stroke-width="0.8"/><path d="M1415,763.5 L1419.4,756.9 L1423.8,763.5" stroke-width="0.8"/><path d="M1410.4,777.9 L1415,787.3 L1419.4,782 L1423.8,787.3 L1428.4,777.9" stroke-width="0.8"/><path d="M1415,787.3 L1419.4,793.9 L1423.8,787.3" stroke-width="0.8"/><line x1="1409.3" y1="775.4" x2="1429.5" y2="775.4" stroke-width="0.5"/><line x1="1419.4" y1="754.9" x2="1419.4" y2="795.9" stroke-width="0.8"/><circle cx="1419.4" cy="775.4" r="1" fill="#000" stroke="none"/><circle cx="1419.4" cy="792.2" r="0.9" fill="#000" stroke="none"/><circle cx="1419.4" cy="757.8" r="0.9" stroke-width="0.6"/><path d="M1440.6,754.9 C1457.3,763.5 1457.3,787.3 1440.6,795.9 C1423.9,787.3 1423.9,763.5 1440.6,754.9 Z" stroke-width="1.15"/><path d="M1440.6,755.9 C1455.3,764.1 1455.3,786.7 1440.6,794.9 C1425.9,786.7 1425.9,764.1 1440.6,755.9 Z" stroke-width="0.55"/><path d="M1431.2,775.4 L1435.8,770.1 L1440.3,775.4 L1435.8,780.7 Z" stroke-width="0.8"/><line x1="1435.8" y1="763.5" x2="1435.8" y2="770.1" stroke-width="0.7"/><line x1="1435.8" y1="787.3" x2="1435.8" y2="780.7" stroke-width="0.7"/><line x1="1431.6" y1="766.2" x2="1431.6" y2="784.6" stroke-width="0.5"/><path d="M1450,775.4 L1445.4,770.1 L1440.9,775.4 L1445.4,780.7 Z" stroke-width="0.8"/><line x1="1445.4" y1="763.5" x2="1445.4" y2="770.1" stroke-width="0.7"/><line x1="1445.4" y1="787.3" x2="1445.4" y2="780.7" stroke-width="0.7"/><line x1="1449.6" y1="766.2" x2="1449.6" y2="784.6" stroke-width="0.5"/><path d="M1430.8,772.9 L1435.8,763.5 L1440.6,768.8 L1445.4,763.5 L1450.4,772.9" stroke-width="0.8"/><path d="M1435.8,763.5 L1440.6,756.9 L1445.4,763.5" stroke-width="0.8"/><path d="M1430.8,777.9 L1435.8,787.3 L1440.6,782 L1445.4,787.3 L1450.4,777.9" stroke-width="0.8"/><path d="M1435.8,787.3 L1440.6,793.9 L1445.4,787.3" stroke-width="0.8"/><line x1="1429.7" y1="775.4" x2="1451.5" y2="775.4" stroke-width="0.5"/><line x1="1440.6" y1="754.9" x2="1440.6" y2="795.9" stroke-width="0.8"/><circle cx="1440.6" cy="775.4" r="1" fill="#000" stroke="none"/><circle cx="1440.6" cy="792.2" r="0.9" fill="#000" stroke="none"/><circle cx="1440.6" cy="757.8" r="0.9" stroke-width="0.6"/><path d="M1469.9,754.9 C1486.6,763.5 1486.6,787.3 1469.9,795.9 C1453.2,787.3 1453.2,763.5 1469.9,754.9 Z" stroke-width="1.15"/><path d="M1469.9,755.9 C1484.6,764.1 1484.6,786.7 1469.9,794.9 C1455.2,786.7 1455.2,764.1 1469.9,755.9 Z" stroke-width="0.55"/><path d="M1460.5,775.4 L1465.1,770.1 L1469.6,775.4 L1465.1,780.7 Z" stroke-width="0.8"/><line x1="1465.1" y1="763.5" x2="1465.1" y2="770.1" stroke-width="0.7"/><line x1="1465.1" y1="787.3" x2="1465.1" y2="780.7" stroke-width="0.7"/><line x1="1460.9" y1="766.2" x2="1460.9" y2="784.6" stroke-width="0.5"/><path d="M1479.3,775.4 L1474.7,770.1 L1470.2,775.4 L1474.7,780.7 Z" stroke-width="0.8"/><line x1="1474.7" y1="763.5" x2="1474.7" y2="770.1" stroke-width="0.7"/><line x1="1474.7" y1="787.3" x2="1474.7" y2="780.7" stroke-width="0.7"/><line x1="1478.9" y1="766.2" x2="1478.9" y2="784.6" stroke-width="0.5"/><path d="M1460.1,772.9 L1465.1,763.5 L1469.9,768.8 L1474.7,763.5 L1479.7,772.9" stroke-width="0.8"/><path d="M1465.1,763.5 L1469.9,756.9 L1474.7,763.5" stroke-width="0.8"/><path d="M1460.1,777.9 L1465.1,787.3 L1469.9,782 L1474.7,787.3 L1479.7,777.9" stroke-width="0.8"/><path d="M1465.1,787.3 L1469.9,793.9 L1474.7,787.3" stroke-width="0.8"/><line x1="1459" y1="775.4" x2="1480.8" y2="775.4" stroke-width="0.5"/><line x1="1469.9" y1="754.9" x2="1469.9" y2="795.9" stroke-width="0.8"/><circle cx="1469.9" cy="775.4" r="1" fill="#000" stroke="none"/><circle cx="1469.9" cy="792.2" r="0.9" fill="#000" stroke="none"/><circle cx="1469.9" cy="757.8" r="0.9" stroke-width="0.6"/><path d="M1500.4,754.9 C1517.1,763.5 1517.1,787.3 1500.4,795.9 C1483.7,787.3 1483.7,763.5 1500.4,754.9 Z" stroke-width="1.15"/><path d="M1500.4,755.9 C1515.1,764.1 1515.1,786.7 1500.4,794.9 C1485.7,786.7 1485.7,764.1 1500.4,755.9 Z" stroke-width="0.55"/><path d="M1491,775.4 L1495.6,770.1 L1500.1,775.4 L1495.6,780.7 Z" stroke-width="0.8"/><line x1="1495.6" y1="763.5" x2="1495.6" y2="770.1" stroke-width="0.7"/><line x1="1495.6" y1="787.3" x2="1495.6" y2="780.7" stroke-width="0.7"/><line x1="1491.4" y1="766.2" x2="1491.4" y2="784.6" stroke-width="0.5"/><path d="M1509.8,775.4 L1505.2,770.1 L1500.7,775.4 L1505.2,780.7 Z" stroke-width="0.8"/><line x1="1505.2" y1="763.5" x2="1505.2" y2="770.1" stroke-width="0.7"/><line x1="1505.2" y1="787.3" x2="1505.2" y2="780.7" stroke-width="0.7"/><line x1="1509.4" y1="766.2" x2="1509.4" y2="784.6" stroke-width="0.5"/><path d="M1490.6,772.9 L1495.6,763.5 L1500.4,768.8 L1505.2,763.5 L1510.2,772.9" stroke-width="0.8"/><path d="M1495.6,763.5 L1500.4,756.9 L1505.2,763.5" stroke-width="0.8"/><path d="M1490.6,777.9 L1495.6,787.3 L1500.4,782 L1505.2,787.3 L1510.2,777.9" stroke-width="0.8"/><path d="M1495.6,787.3 L1500.4,793.9 L1505.2,787.3" stroke-width="0.8"/><line x1="1489.5" y1="775.4" x2="1511.3" y2="775.4" stroke-width="0.5"/><line x1="1500.4" y1="754.9" x2="1500.4" y2="795.9" stroke-width="0.8"/><circle cx="1500.4" cy="775.4" r="1" fill="#000" stroke="none"/><circle cx="1500.4" cy="792.2" r="0.9" fill="#000" stroke="none"/><circle cx="1500.4" cy="757.8" r="0.9" stroke-width="0.6"/><path d="M1520.4,754.9 C1535.7,763.5 1535.7,787.3 1520.4,795.9 C1505.1,787.3 1505.1,763.5 1520.4,754.9 Z" stroke-width="1.15"/><path d="M1520.4,755.9 C1533.9,764.1 1533.9,786.7 1520.4,794.9 C1506.9,786.7 1506.9,764.1 1520.4,755.9 Z" stroke-width="0.55"/><path d="M1511.7,775.4 L1516,770.1 L1520.1,775.4 L1516,780.7 Z" stroke-width="0.8"/><line x1="1516" y1="763.5" x2="1516" y2="770.1" stroke-width="0.7"/><line x1="1516" y1="787.3" x2="1516" y2="780.7" stroke-width="0.7"/><line x1="1512.1" y1="766.2" x2="1512.1" y2="784.6" stroke-width="0.5"/><path d="M1529.1,775.4 L1524.8,770.1 L1520.7,775.4 L1524.8,780.7 Z" stroke-width="0.8"/><line x1="1524.8" y1="763.5" x2="1524.8" y2="770.1" stroke-width="0.7"/><line x1="1524.8" y1="787.3" x2="1524.8" y2="780.7" stroke-width="0.7"/><line x1="1528.7" y1="766.2" x2="1528.7" y2="784.6" stroke-width="0.5"/><path d="M1511.4,772.9 L1516,763.5 L1520.4,768.8 L1524.8,763.5 L1529.4,772.9" stroke-width="0.8"/><path d="M1516,763.5 L1520.4,756.9 L1524.8,763.5" stroke-width="0.8"/><path d="M1511.4,777.9 L1516,787.3 L1520.4,782 L1524.8,787.3 L1529.4,777.9" stroke-width="0.8"/><path d="M1516,787.3 L1520.4,793.9 L1524.8,787.3" stroke-width="0.8"/><line x1="1510.3" y1="775.4" x2="1530.5" y2="775.4" stroke-width="0.5"/><line x1="1520.4" y1="754.9" x2="1520.4" y2="795.9" stroke-width="0.8"/><circle cx="1520.4" cy="775.4" r="1" fill="#000" stroke="none"/><circle cx="1520.4" cy="792.2" r="0.9" fill="#000" stroke="none"/><circle cx="1520.4" cy="757.8" r="0.9" stroke-width="0.6"/><path d="M1419.4,801.9 C1434.7,810.5 1434.7,834.3 1419.4,842.9 C1404.1,834.3 1404.1,810.5 1419.4,801.9 Z" stroke-width="1.15"/><path d="M1419.4,802.9 C1432.9,811.1 1432.9,833.7 1419.4,841.9 C1405.9,833.7 1405.9,811.1 1419.4,802.9 Z" stroke-width="0.55"/><path d="M1410.7,822.4 L1415,817.1 L1419.1,822.4 L1415,827.7 Z" stroke-width="0.8"/><line x1="1415" y1="810.5" x2="1415" y2="817.1" stroke-width="0.7"/><line x1="1415" y1="834.3" x2="1415" y2="827.7" stroke-width="0.7"/><line x1="1411.1" y1="813.2" x2="1411.1" y2="831.6" stroke-width="0.5"/><path d="M1428.1,822.4 L1423.8,817.1 L1419.7,822.4 L1423.8,827.7 Z" stroke-width="0.8"/><line x1="1423.8" y1="810.5" x2="1423.8" y2="817.1" stroke-width="0.7"/><line x1="1423.8" y1="834.3" x2="1423.8" y2="827.7" stroke-width="0.7"/><line x1="1427.7" y1="813.2" x2="1427.7" y2="831.6" stroke-width="0.5"/><path d="M1410.4,819.9 L1415,810.5 L1419.4,815.8 L1423.8,810.5 L1428.4,819.9" stroke-width="0.8"/><path d="M1415,810.5 L1419.4,803.9 L1423.8,810.5" stroke-width="0.8"/><path d="M1410.4,824.9 L1415,834.3 L1419.4,829 L1423.8,834.3 L1428.4,824.9" stroke-width="0.8"/><path d="M1415,834.3 L1419.4,840.9 L1423.8,834.3" stroke-width="0.8"/><line x1="1409.3" y1="822.4" x2="1429.5" y2="822.4" stroke-width="0.5"/><line x1="1419.4" y1="801.9" x2="1419.4" y2="842.9" stroke-width="0.8"/><circle cx="1419.4" cy="822.4" r="1" fill="#000" stroke="none"/><circle cx="1419.4" cy="839.2" r="0.9" fill="#000" stroke="none"/><circle cx="1419.4" cy="804.8" r="0.9" stroke-width="0.6"/><path d="M1440.6,801.9 C1457.3,810.5 1457.3,834.3 1440.6,842.9 C1423.9,834.3 1423.9,810.5 1440.6,801.9 Z" stroke-width="1.15"/><path d="M1440.6,802.9 C1455.3,811.1 1455.3,833.7 1440.6,841.9 C1425.9,833.7 1425.9,811.1 1440.6,802.9 Z" stroke-width="0.55"/><path d="M1431.2,822.4 L1435.8,817.1 L1440.3,822.4 L1435.8,827.7 Z" stroke-width="0.8"/><line x1="1435.8" y1="810.5" x2="1435.8" y2="817.1" stroke-width="0.7"/><line x1="1435.8" y1="834.3" x2="1435.8" y2="827.7" stroke-width="0.7"/><line x1="1431.6" y1="813.2" x2="1431.6" y2="831.6" stroke-width="0.5"/><path d="M1450,822.4 L1445.4,817.1 L1440.9,822.4 L1445.4,827.7 Z" stroke-width="0.8"/><line x1="1445.4" y1="810.5" x2="1445.4" y2="817.1" stroke-width="0.7"/><line x1="1445.4" y1="834.3" x2="1445.4" y2="827.7" stroke-width="0.7"/><line x1="1449.6" y1="813.2" x2="1449.6" y2="831.6" stroke-width="0.5"/><path d="M1430.8,819.9 L1435.8,810.5 L1440.6,815.8 L1445.4,810.5 L1450.4,819.9" stroke-width="0.8"/><path d="M1435.8,810.5 L1440.6,803.9 L1445.4,810.5" stroke-width="0.8"/><path d="M1430.8,824.9 L1435.8,834.3 L1440.6,829 L1445.4,834.3 L1450.4,824.9" stroke-width="0.8"/><path d="M1435.8,834.3 L1440.6,840.9 L1445.4,834.3" stroke-width="0.8"/><line x1="1429.7" y1="822.4" x2="1451.5" y2="822.4" stroke-width="0.5"/><line x1="1440.6" y1="801.9" x2="1440.6" y2="842.9" stroke-width="0.8"/><circle cx="1440.6" cy="822.4" r="1" fill="#000" stroke="none"/><circle cx="1440.6" cy="839.2" r="0.9" fill="#000" stroke="none"/><circle cx="1440.6" cy="804.8" r="0.9" stroke-width="0.6"/><path d="M1469.9,801.9 C1486.6,810.5 1486.6,834.3 1469.9,842.9 C1453.2,834.3 1453.2,810.5 1469.9,801.9 Z" stroke-width="1.15"/><path d="M1469.9,802.9 C1484.6,811.1 1484.6,833.7 1469.9,841.9 C1455.2,833.7 1455.2,811.1 1469.9,802.9 Z" stroke-width="0.55"/><path d="M1460.5,822.4 L1465.1,817.1 L1469.6,822.4 L1465.1,827.7 Z" stroke-width="0.8"/><line x1="1465.1" y1="810.5" x2="1465.1" y2="817.1" stroke-width="0.7"/><line x1="1465.1" y1="834.3" x2="1465.1" y2="827.7" stroke-width="0.7"/><line x1="1460.9" y1="813.2" x2="1460.9" y2="831.6" stroke-width="0.5"/><path d="M1479.3,822.4 L1474.7,817.1 L1470.2,822.4 L1474.7,827.7 Z" stroke-width="0.8"/><line x1="1474.7" y1="810.5" x2="1474.7" y2="817.1" stroke-width="0.7"/><line x1="1474.7" y1="834.3" x2="1474.7" y2="827.7" stroke-width="0.7"/><line x1="1478.9" y1="813.2" x2="1478.9" y2="831.6" stroke-width="0.5"/><path d="M1460.1,819.9 L1465.1,810.5 L1469.9,815.8 L1474.7,810.5 L1479.7,819.9" stroke-width="0.8"/><path d="M1465.1,810.5 L1469.9,803.9 L1474.7,810.5" stroke-width="0.8"/><path d="M1460.1,824.9 L1465.1,834.3 L1469.9,829 L1474.7,834.3 L1479.7,824.9" stroke-width="0.8"/><path d="M1465.1,834.3 L1469.9,840.9 L1474.7,834.3" stroke-width="0.8"/><line x1="1459" y1="822.4" x2="1480.8" y2="822.4" stroke-width="0.5"/><line x1="1469.9" y1="801.9" x2="1469.9" y2="842.9" stroke-width="0.8"/><circle cx="1469.9" cy="822.4" r="1" fill="#000" stroke="none"/><circle cx="1469.9" cy="839.2" r="0.9" fill="#000" stroke="none"/><circle cx="1469.9" cy="804.8" r="0.9" stroke-width="0.6"/><path d="M1500.4,801.9 C1517.1,810.5 1517.1,834.3 1500.4,842.9 C1483.7,834.3 1483.7,810.5 1500.4,801.9 Z" stroke-width="1.15"/><path d="M1500.4,802.9 C1515.1,811.1 1515.1,833.7 1500.4,841.9 C1485.7,833.7 1485.7,811.1 1500.4,802.9 Z" stroke-width="0.55"/><path d="M1491,822.4 L1495.6,817.1 L1500.1,822.4 L1495.6,827.7 Z" stroke-width="0.8"/><line x1="1495.6" y1="810.5" x2="1495.6" y2="817.1" stroke-width="0.7"/><line x1="1495.6" y1="834.3" x2="1495.6" y2="827.7" stroke-width="0.7"/><line x1="1491.4" y1="813.2" x2="1491.4" y2="831.6" stroke-width="0.5"/><path d="M1509.8,822.4 L1505.2,817.1 L1500.7,822.4 L1505.2,827.7 Z" stroke-width="0.8"/><line x1="1505.2" y1="810.5" x2="1505.2" y2="817.1" stroke-width="0.7"/><line x1="1505.2" y1="834.3" x2="1505.2" y2="827.7" stroke-width="0.7"/><line x1="1509.4" y1="813.2" x2="1509.4" y2="831.6" stroke-width="0.5"/><path d="M1490.6,819.9 L1495.6,810.5 L1500.4,815.8 L1505.2,810.5 L1510.2,819.9" stroke-width="0.8"/><path d="M1495.6,810.5 L1500.4,803.9 L1505.2,810.5" stroke-width="0.8"/><path d="M1490.6,824.9 L1495.6,834.3 L1500.4,829 L1505.2,834.3 L1510.2,824.9" stroke-width="0.8"/><path d="M1495.6,834.3 L1500.4,840.9 L1505.2,834.3" stroke-width="0.8"/><line x1="1489.5" y1="822.4" x2="1511.3" y2="822.4" stroke-width="0.5"/><line x1="1500.4" y1="801.9" x2="1500.4" y2="842.9" stroke-width="0.8"/><circle cx="1500.4" cy="822.4" r="1" fill="#000" stroke="none"/><circle cx="1500.4" cy="839.2" r="0.9" fill="#000" stroke="none"/><circle cx="1500.4" cy="804.8" r="0.9" stroke-width="0.6"/><path d="M1520.4,801.9 C1535.7,810.5 1535.7,834.3 1520.4,842.9 C1505.1,834.3 1505.1,810.5 1520.4,801.9 Z" stroke-width="1.15"/><path d="M1520.4,802.9 C1533.9,811.1 1533.9,833.7 1520.4,841.9 C1506.9,833.7 1506.9,811.1 1520.4,802.9 Z" stroke-width="0.55"/><path d="M1511.7,822.4 L1516,817.1 L1520.1,822.4 L1516,827.7 Z" stroke-width="0.8"/><line x1="1516" y1="810.5" x2="1516" y2="817.1" stroke-width="0.7"/><line x1="1516" y1="834.3" x2="1516" y2="827.7" stroke-width="0.7"/><line x1="1512.1" y1="813.2" x2="1512.1" y2="831.6" stroke-width="0.5"/><path d="M1529.1,822.4 L1524.8,817.1 L1520.7,822.4 L1524.8,827.7 Z" stroke-width="0.8"/><line x1="1524.8" y1="810.5" x2="1524.8" y2="817.1" stroke-width="0.7"/><line x1="1524.8" y1="834.3" x2="1524.8" y2="827.7" stroke-width="0.7"/><line x1="1528.7" y1="813.2" x2="1528.7" y2="831.6" stroke-width="0.5"/><path d="M1511.4,819.9 L1516,810.5 L1520.4,815.8 L1524.8,810.5 L1529.4,819.9" stroke-width="0.8"/><path d="M1516,810.5 L1520.4,803.9 L1524.8,810.5" stroke-width="0.8"/><path d="M1511.4,824.9 L1516,834.3 L1520.4,829 L1524.8,834.3 L1529.4,824.9" stroke-width="0.8"/><path d="M1516,834.3 L1520.4,840.9 L1524.8,834.3" stroke-width="0.8"/><line x1="1510.3" y1="822.4" x2="1530.5" y2="822.4" stroke-width="0.5"/><line x1="1520.4" y1="801.9" x2="1520.4" y2="842.9" stroke-width="0.8"/><circle cx="1520.4" cy="822.4" r="1" fill="#000" stroke="none"/><circle cx="1520.4" cy="839.2" r="0.9" fill="#000" stroke="none"/><circle cx="1520.4" cy="804.8" r="0.9" stroke-width="0.6"/><line x1="1438.9" y1="842.9" x2="1438.9" y2="860.9" stroke-width="0.9"/><circle cx="1438.9" cy="851.9" r="4" stroke-width="1.25" fill="#4e4e4e"/><circle cx="1438.9" cy="849.5" r="0.6" fill="#fff" stroke="none"/><circle cx="1441.2" cy="851.2" r="0.6" fill="#fff" stroke="none"/><circle cx="1440.3" cy="853.8" r="0.6" fill="#fff" stroke="none"/><circle cx="1437.5" cy="853.8" r="0.6" fill="#fff" stroke="none"/><circle cx="1436.6" cy="851.2" r="0.6" fill="#fff" stroke="none"/><circle cx="1438.9" cy="858.9" r="1.6" stroke-width="0.9"/><line x1="1502.9" y1="842.9" x2="1502.9" y2="860.9" stroke-width="0.9"/><circle cx="1502.9" cy="851.9" r="4" stroke-width="1.25" fill="#4e4e4e"/><circle cx="1502.9" cy="849.5" r="0.6" fill="#fff" stroke="none"/><circle cx="1505.2" cy="851.2" r="0.6" fill="#fff" stroke="none"/><circle cx="1504.3" cy="853.8" r="0.6" fill="#fff" stroke="none"/><circle cx="1501.5" cy="853.8" r="0.6" fill="#fff" stroke="none"/><circle cx="1500.6" cy="851.2" r="0.6" fill="#fff" stroke="none"/><circle cx="1502.9" cy="858.9" r="1.6" stroke-width="0.9"/><circle cx="1426.6" cy="708.4" r="6.4" stroke-width="1.25" fill="#4e4e4e"/><circle cx="1426.6" cy="704.6" r="1" fill="#fff" stroke="none"/><circle cx="1429.6" cy="706" r="1" fill="#fff" stroke="none"/><circle cx="1430.3" cy="709.3" r="1" fill="#fff" stroke="none"/><circle cx="1428.3" cy="711.9" r="1" fill="#fff" stroke="none"/><circle cx="1424.9" cy="711.9" r="1" fill="#fff" stroke="none"/><circle cx="1422.9" cy="709.3" r="1" fill="#fff" stroke="none"/><circle cx="1423.6" cy="706" r="1" fill="#fff" stroke="none"/><circle cx="1426.6" cy="718.9" r="4.1" stroke-width="1.25" fill="#4e4e4e"/><circle cx="1426.6" cy="716.4" r="0.7" fill="#fff" stroke="none"/><circle cx="1428.9" cy="718.1" r="0.7" fill="#fff" stroke="none"/><circle cx="1428" cy="720.9" r="0.7" fill="#fff" stroke="none"/><circle cx="1425.2" cy="720.9" r="0.7" fill="#fff" stroke="none"/><circle cx="1424.3" cy="718.1" r="0.7" fill="#fff" stroke="none"/><circle cx="1426.6" cy="727.6" r="4.1" stroke-width="1.25" fill="#4e4e4e"/><circle cx="1426.6" cy="725.1" r="0.7" fill="#fff" stroke="none"/><circle cx="1428.9" cy="726.8" r="0.7" fill="#fff" stroke="none"/><circle cx="1428" cy="729.6" r="0.7" fill="#fff" stroke="none"/><circle cx="1425.2" cy="729.6" r="0.7" fill="#fff" stroke="none"/><circle cx="1424.3" cy="726.8" r="0.7" fill="#fff" stroke="none"/><circle cx="1426.6" cy="736.2" r="4.1" stroke-width="1.25" fill="#4e4e4e"/><circle cx="1426.6" cy="733.8" r="0.7" fill="#fff" stroke="none"/><circle cx="1428.9" cy="735.5" r="0.7" fill="#fff" stroke="none"/><circle cx="1428" cy="738.2" r="0.7" fill="#fff" stroke="none"/><circle cx="1425.2" cy="738.2" r="0.7" fill="#fff" stroke="none"/><circle cx="1424.3" cy="735.5" r="0.7" fill="#fff" stroke="none"/><circle cx="1426.6" cy="744.9" r="4.1" stroke-width="1.25" fill="#4e4e4e"/><circle cx="1426.6" cy="742.4" r="0.7" fill="#fff" stroke="none"/><circle cx="1428.9" cy="744.1" r="0.7" fill="#fff" stroke="none"/><circle cx="1428" cy="746.9" r="0.7" fill="#fff" stroke="none"/><circle cx="1425.2" cy="746.9" r="0.7" fill="#fff" stroke="none"/><circle cx="1424.3" cy="744.1" r="0.7" fill="#fff" stroke="none"/><circle cx="1426.6" cy="755.4" r="6.4" stroke-width="1.25" fill="#4e4e4e"/><circle cx="1426.6" cy="751.6" r="1" fill="#fff" stroke="none"/><circle cx="1429.6" cy="753" r="1" fill="#fff" stroke="none"/><circle cx="1430.3" cy="756.3" r="1" fill="#fff" stroke="none"/><circle cx="1428.3" cy="758.9" r="1" fill="#fff" stroke="none"/><circle cx="1424.9" cy="758.9" r="1" fill="#fff" stroke="none"/><circle cx="1422.9" cy="756.3" r="1" fill="#fff" stroke="none"/><circle cx="1423.6" cy="753" r="1" fill="#fff" stroke="none"/><circle cx="1426.6" cy="765.9" r="4.1" stroke-width="1.25" fill="#4e4e4e"/><circle cx="1426.6" cy="763.4" r="0.7" fill="#fff" stroke="none"/><circle cx="1428.9" cy="765.1" r="0.7" fill="#fff" stroke="none"/><circle cx="1428" cy="767.9" r="0.7" fill="#fff" stroke="none"/><circle cx="1425.2" cy="767.9" r="0.7" fill="#fff" stroke="none"/><circle cx="1424.3" cy="765.1" r="0.7" fill="#fff" stroke="none"/><circle cx="1426.6" cy="774.6" r="4.1" stroke-width="1.25" fill="#4e4e4e"/><circle cx="1426.6" cy="772.1" r="0.7" fill="#fff" stroke="none"/><circle cx="1428.9" cy="773.8" r="0.7" fill="#fff" stroke="none"/><circle cx="1428" cy="776.6" r="0.7" fill="#fff" stroke="none"/><circle cx="1425.2" cy="776.6" r="0.7" fill="#fff" stroke="none"/><circle cx="1424.3" cy="773.8" r="0.7" fill="#fff" stroke="none"/><circle cx="1426.6" cy="783.2" r="4.1" stroke-width="1.25" fill="#4e4e4e"/><circle cx="1426.6" cy="780.8" r="0.7" fill="#fff" stroke="none"/><circle cx="1428.9" cy="782.5" r="0.7" fill="#fff" stroke="none"/><circle cx="1428" cy="785.2" r="0.7" fill="#fff" stroke="none"/><circle cx="1425.2" cy="785.2" r="0.7" fill="#fff" stroke="none"/><circle cx="1424.3" cy="782.5" r="0.7" fill="#fff" stroke="none"/><circle cx="1426.6" cy="791.9" r="4.1" stroke-width="1.25" fill="#4e4e4e"/><circle cx="1426.6" cy="789.4" r="0.7" fill="#fff" stroke="none"/><circle cx="1428.9" cy="791.1" r="0.7" fill="#fff" stroke="none"/><circle cx="1428" cy="793.9" r="0.7" fill="#fff" stroke="none"/><circle cx="1425.2" cy="793.9" r="0.7" fill="#fff" stroke="none"/><circle cx="1424.3" cy="791.1" r="0.7" fill="#fff" stroke="none"/><circle cx="1426.6" cy="802.4" r="6.4" stroke-width="1.25" fill="#4e4e4e"/><circle cx="1426.6" cy="798.6" r="1" fill="#fff" stroke="none"/><circle cx="1429.6" cy="800" r="1" fill="#fff" stroke="none"/><circle cx="1430.3" cy="803.3" r="1" fill="#fff" stroke="none"/><circle cx="1428.3" cy="805.9" r="1" fill="#fff" stroke="none"/><circle cx="1424.9" cy="805.9" r="1" fill="#fff" stroke="none"/><circle cx="1422.9" cy="803.3" r="1" fill="#fff" stroke="none"/><circle cx="1423.6" cy="800" r="1" fill="#fff" stroke="none"/><circle cx="1426.6" cy="812.9" r="4.1" stroke-width="1.25" fill="#4e4e4e"/><circle cx="1426.6" cy="810.4" r="0.7" fill="#fff" stroke="none"/><circle cx="1428.9" cy="812.1" r="0.7" fill="#fff" stroke="none"/><circle cx="1428" cy="814.9" r="0.7" fill="#fff" stroke="none"/><circle cx="1425.2" cy="814.9" r="0.7" fill="#fff" stroke="none"/><circle cx="1424.3" cy="812.1" r="0.7" fill="#fff" stroke="none"/><circle cx="1426.6" cy="821.6" r="4.1" stroke-width="1.25" fill="#4e4e4e"/><circle cx="1426.6" cy="819.1" r="0.7" fill="#fff" stroke="none"/><circle cx="1428.9" cy="820.8" r="0.7" fill="#fff" stroke="none"/><circle cx="1428" cy="823.6" r="0.7" fill="#fff" stroke="none"/><circle cx="1425.2" cy="823.6" r="0.7" fill="#fff" stroke="none"/><circle cx="1424.3" cy="820.8" r="0.7" fill="#fff" stroke="none"/><circle cx="1426.6" cy="830.2" r="4.1" stroke-width="1.25" fill="#4e4e4e"/><circle cx="1426.6" cy="827.8" r="0.7" fill="#fff" stroke="none"/><circle cx="1428.9" cy="829.5" r="0.7" fill="#fff" stroke="none"/><circle cx="1428" cy="832.2" r="0.7" fill="#fff" stroke="none"/><circle cx="1425.2" cy="832.2" r="0.7" fill="#fff" stroke="none"/><circle cx="1424.3" cy="829.5" r="0.7" fill="#fff" stroke="none"/><circle cx="1426.6" cy="838.9" r="4.1" stroke-width="1.25" fill="#4e4e4e"/><circle cx="1426.6" cy="836.4" r="0.7" fill="#fff" stroke="none"/><circle cx="1428.9" cy="838.1" r="0.7" fill="#fff" stroke="none"/><circle cx="1428" cy="840.9" r="0.7" fill="#fff" stroke="none"/><circle cx="1425.2" cy="840.9" r="0.7" fill="#fff" stroke="none"/><circle cx="1424.3" cy="838.1" r="0.7" fill="#fff" stroke="none"/><circle cx="1426.6" cy="849.4" r="6.4" stroke-width="1.25" fill="#4e4e4e"/><circle cx="1426.6" cy="845.6" r="1" fill="#fff" stroke="none"/><circle cx="1429.6" cy="847" r="1" fill="#fff" stroke="none"/><circle cx="1430.3" cy="850.3" r="1" fill="#fff" stroke="none"/><circle cx="1428.3" cy="852.9" r="1" fill="#fff" stroke="none"/><circle cx="1424.9" cy="852.9" r="1" fill="#fff" stroke="none"/><circle cx="1422.9" cy="850.3" r="1" fill="#fff" stroke="none"/><circle cx="1423.6" cy="847" r="1" fill="#fff" stroke="none"/><circle cx="1426.6" cy="859.4" r="4.1" stroke-width="1.25" fill="#4e4e4e"/><circle cx="1426.6" cy="856.9" r="0.7" fill="#fff" stroke="none"/><circle cx="1428.9" cy="858.6" r="0.7" fill="#fff" stroke="none"/><circle cx="1428" cy="861.4" r="0.7" fill="#fff" stroke="none"/><circle cx="1425.2" cy="861.4" r="0.7" fill="#fff" stroke="none"/><circle cx="1424.3" cy="858.6" r="0.7" fill="#fff" stroke="none"/><circle cx="1451.9" cy="708.4" r="6.4" stroke-width="1.25" fill="#4e4e4e"/><circle cx="1451.9" cy="704.6" r="1" fill="#fff" stroke="none"/><circle cx="1454.9" cy="706" r="1" fill="#fff" stroke="none"/><circle cx="1455.6" cy="709.3" r="1" fill="#fff" stroke="none"/><circle cx="1453.6" cy="711.9" r="1" fill="#fff" stroke="none"/><circle cx="1450.2" cy="711.9" r="1" fill="#fff" stroke="none"/><circle cx="1448.2" cy="709.3" r="1" fill="#fff" stroke="none"/><circle cx="1448.9" cy="706" r="1" fill="#fff" stroke="none"/><circle cx="1451.9" cy="718.9" r="4.1" stroke-width="1.25" fill="#4e4e4e"/><circle cx="1451.9" cy="716.4" r="0.7" fill="#fff" stroke="none"/><circle cx="1454.2" cy="718.1" r="0.7" fill="#fff" stroke="none"/><circle cx="1453.3" cy="720.9" r="0.7" fill="#fff" stroke="none"/><circle cx="1450.5" cy="720.9" r="0.7" fill="#fff" stroke="none"/><circle cx="1449.6" cy="718.1" r="0.7" fill="#fff" stroke="none"/><circle cx="1451.9" cy="727.6" r="4.1" stroke-width="1.25" fill="#4e4e4e"/><circle cx="1451.9" cy="725.1" r="0.7" fill="#fff" stroke="none"/><circle cx="1454.2" cy="726.8" r="0.7" fill="#fff" stroke="none"/><circle cx="1453.3" cy="729.6" r="0.7" fill="#fff" stroke="none"/><circle cx="1450.5" cy="729.6" r="0.7" fill="#fff" stroke="none"/><circle cx="1449.6" cy="726.8" r="0.7" fill="#fff" stroke="none"/><circle cx="1451.9" cy="736.2" r="4.1" stroke-width="1.25" fill="#4e4e4e"/><circle cx="1451.9" cy="733.8" r="0.7" fill="#fff" stroke="none"/><circle cx="1454.2" cy="735.5" r="0.7" fill="#fff" stroke="none"/><circle cx="1453.3" cy="738.2" r="0.7" fill="#fff" stroke="none"/><circle cx="1450.5" cy="738.2" r="0.7" fill="#fff" stroke="none"/><circle cx="1449.6" cy="735.5" r="0.7" fill="#fff" stroke="none"/><circle cx="1451.9" cy="744.9" r="4.1" stroke-width="1.25" fill="#4e4e4e"/><circle cx="1451.9" cy="742.4" r="0.7" fill="#fff" stroke="none"/><circle cx="1454.2" cy="744.1" r="0.7" fill="#fff" stroke="none"/><circle cx="1453.3" cy="746.9" r="0.7" fill="#fff" stroke="none"/><circle cx="1450.5" cy="746.9" r="0.7" fill="#fff" stroke="none"/><circle cx="1449.6" cy="744.1" r="0.7" fill="#fff" stroke="none"/><circle cx="1451.9" cy="755.4" r="6.4" stroke-width="1.25" fill="#4e4e4e"/><circle cx="1451.9" cy="751.6" r="1" fill="#fff" stroke="none"/><circle cx="1454.9" cy="753" r="1" fill="#fff" stroke="none"/><circle cx="1455.6" cy="756.3" r="1" fill="#fff" stroke="none"/><circle cx="1453.6" cy="758.9" r="1" fill="#fff" stroke="none"/><circle cx="1450.2" cy="758.9" r="1" fill="#fff" stroke="none"/><circle cx="1448.2" cy="756.3" r="1" fill="#fff" stroke="none"/><circle cx="1448.9" cy="753" r="1" fill="#fff" stroke="none"/><circle cx="1451.9" cy="765.9" r="4.1" stroke-width="1.25" fill="#4e4e4e"/><circle cx="1451.9" cy="763.4" r="0.7" fill="#fff" stroke="none"/><circle cx="1454.2" cy="765.1" r="0.7" fill="#fff" stroke="none"/><circle cx="1453.3" cy="767.9" r="0.7" fill="#fff" stroke="none"/><circle cx="1450.5" cy="767.9" r="0.7" fill="#fff" stroke="none"/><circle cx="1449.6" cy="765.1" r="0.7" fill="#fff" stroke="none"/><circle cx="1451.9" cy="774.6" r="4.1" stroke-width="1.25" fill="#4e4e4e"/><circle cx="1451.9" cy="772.1" r="0.7" fill="#fff" stroke="none"/><circle cx="1454.2" cy="773.8" r="0.7" fill="#fff" stroke="none"/><circle cx="1453.3" cy="776.6" r="0.7" fill="#fff" stroke="none"/><circle cx="1450.5" cy="776.6" r="0.7" fill="#fff" stroke="none"/><circle cx="1449.6" cy="773.8" r="0.7" fill="#fff" stroke="none"/><circle cx="1451.9" cy="783.2" r="4.1" stroke-width="1.25" fill="#4e4e4e"/><circle cx="1451.9" cy="780.8" r="0.7" fill="#fff" stroke="none"/><circle cx="1454.2" cy="782.5" r="0.7" fill="#fff" stroke="none"/><circle cx="1453.3" cy="785.2" r="0.7" fill="#fff" stroke="none"/><circle cx="1450.5" cy="785.2" r="0.7" fill="#fff" stroke="none"/><circle cx="1449.6" cy="782.5" r="0.7" fill="#fff" stroke="none"/><circle cx="1451.9" cy="791.9" r="4.1" stroke-width="1.25" fill="#4e4e4e"/><circle cx="1451.9" cy="789.4" r="0.7" fill="#fff" stroke="none"/><circle cx="1454.2" cy="791.1" r="0.7" fill="#fff" stroke="none"/><circle cx="1453.3" cy="793.9" r="0.7" fill="#fff" stroke="none"/><circle cx="1450.5" cy="793.9" r="0.7" fill="#fff" stroke="none"/><circle cx="1449.6" cy="791.1" r="0.7" fill="#fff" stroke="none"/><circle cx="1451.9" cy="802.4" r="6.4" stroke-width="1.25" fill="#4e4e4e"/><circle cx="1451.9" cy="798.6" r="1" fill="#fff" stroke="none"/><circle cx="1454.9" cy="800" r="1" fill="#fff" stroke="none"/><circle cx="1455.6" cy="803.3" r="1" fill="#fff" stroke="none"/><circle cx="1453.6" cy="805.9" r="1" fill="#fff" stroke="none"/><circle cx="1450.2" cy="805.9" r="1" fill="#fff" stroke="none"/><circle cx="1448.2" cy="803.3" r="1" fill="#fff" stroke="none"/><circle cx="1448.9" cy="800" r="1" fill="#fff" stroke="none"/><circle cx="1451.9" cy="812.9" r="4.1" stroke-width="1.25" fill="#4e4e4e"/><circle cx="1451.9" cy="810.4" r="0.7" fill="#fff" stroke="none"/><circle cx="1454.2" cy="812.1" r="0.7" fill="#fff" stroke="none"/><circle cx="1453.3" cy="814.9" r="0.7" fill="#fff" stroke="none"/><circle cx="1450.5" cy="814.9" r="0.7" fill="#fff" stroke="none"/><circle cx="1449.6" cy="812.1" r="0.7" fill="#fff" stroke="none"/><circle cx="1451.9" cy="821.6" r="4.1" stroke-width="1.25" fill="#4e4e4e"/><circle cx="1451.9" cy="819.1" r="0.7" fill="#fff" stroke="none"/><circle cx="1454.2" cy="820.8" r="0.7" fill="#fff" stroke="none"/><circle cx="1453.3" cy="823.6" r="0.7" fill="#fff" stroke="none"/><circle cx="1450.5" cy="823.6" r="0.7" fill="#fff" stroke="none"/><circle cx="1449.6" cy="820.8" r="0.7" fill="#fff" stroke="none"/><circle cx="1451.9" cy="830.2" r="4.1" stroke-width="1.25" fill="#4e4e4e"/><circle cx="1451.9" cy="827.8" r="0.7" fill="#fff" stroke="none"/><circle cx="1454.2" cy="829.5" r="0.7" fill="#fff" stroke="none"/><circle cx="1453.3" cy="832.2" r="0.7" fill="#fff" stroke="none"/><circle cx="1450.5" cy="832.2" r="0.7" fill="#fff" stroke="none"/><circle cx="1449.6" cy="829.5" r="0.7" fill="#fff" stroke="none"/><circle cx="1451.9" cy="838.9" r="4.1" stroke-width="1.25" fill="#4e4e4e"/><circle cx="1451.9" cy="836.4" r="0.7" fill="#fff" stroke="none"/><circle cx="1454.2" cy="838.1" r="0.7" fill="#fff" stroke="none"/><circle cx="1453.3" cy="840.9" r="0.7" fill="#fff" stroke="none"/><circle cx="1450.5" cy="840.9" r="0.7" fill="#fff" stroke="none"/><circle cx="1449.6" cy="838.1" r="0.7" fill="#fff" stroke="none"/><circle cx="1451.9" cy="849.4" r="6.4" stroke-width="1.25" fill="#4e4e4e"/><circle cx="1451.9" cy="845.6" r="1" fill="#fff" stroke="none"/><circle cx="1454.9" cy="847" r="1" fill="#fff" stroke="none"/><circle cx="1455.6" cy="850.3" r="1" fill="#fff" stroke="none"/><circle cx="1453.6" cy="852.9" r="1" fill="#fff" stroke="none"/><circle cx="1450.2" cy="852.9" r="1" fill="#fff" stroke="none"/><circle cx="1448.2" cy="850.3" r="1" fill="#fff" stroke="none"/><circle cx="1448.9" cy="847" r="1" fill="#fff" stroke="none"/><circle cx="1451.9" cy="859.4" r="4.1" stroke-width="1.25" fill="#4e4e4e"/><circle cx="1451.9" cy="856.9" r="0.7" fill="#fff" stroke="none"/><circle cx="1454.2" cy="858.6" r="0.7" fill="#fff" stroke="none"/><circle cx="1453.3" cy="861.4" r="0.7" fill="#fff" stroke="none"/><circle cx="1450.5" cy="861.4" r="0.7" fill="#fff" stroke="none"/><circle cx="1449.6" cy="858.6" r="0.7" fill="#fff" stroke="none"/><circle cx="1487.2" cy="708.4" r="6.4" stroke-width="1.25" fill="#4e4e4e"/><circle cx="1487.2" cy="704.6" r="1" fill="#fff" stroke="none"/><circle cx="1490.2" cy="706" r="1" fill="#fff" stroke="none"/><circle cx="1490.9" cy="709.3" r="1" fill="#fff" stroke="none"/><circle cx="1488.9" cy="711.9" r="1" fill="#fff" stroke="none"/><circle cx="1485.5" cy="711.9" r="1" fill="#fff" stroke="none"/><circle cx="1483.5" cy="709.3" r="1" fill="#fff" stroke="none"/><circle cx="1484.2" cy="706" r="1" fill="#fff" stroke="none"/><circle cx="1487.2" cy="718.9" r="4.1" stroke-width="1.25" fill="#4e4e4e"/><circle cx="1487.2" cy="716.4" r="0.7" fill="#fff" stroke="none"/><circle cx="1489.5" cy="718.1" r="0.7" fill="#fff" stroke="none"/><circle cx="1488.6" cy="720.9" r="0.7" fill="#fff" stroke="none"/><circle cx="1485.8" cy="720.9" r="0.7" fill="#fff" stroke="none"/><circle cx="1484.9" cy="718.1" r="0.7" fill="#fff" stroke="none"/><circle cx="1487.2" cy="727.6" r="4.1" stroke-width="1.25" fill="#4e4e4e"/><circle cx="1487.2" cy="725.1" r="0.7" fill="#fff" stroke="none"/><circle cx="1489.5" cy="726.8" r="0.7" fill="#fff" stroke="none"/><circle cx="1488.6" cy="729.6" r="0.7" fill="#fff" stroke="none"/><circle cx="1485.8" cy="729.6" r="0.7" fill="#fff" stroke="none"/><circle cx="1484.9" cy="726.8" r="0.7" fill="#fff" stroke="none"/><circle cx="1487.2" cy="736.2" r="4.1" stroke-width="1.25" fill="#4e4e4e"/><circle cx="1487.2" cy="733.8" r="0.7" fill="#fff" stroke="none"/><circle cx="1489.5" cy="735.5" r="0.7" fill="#fff" stroke="none"/><circle cx="1488.6" cy="738.2" r="0.7" fill="#fff" stroke="none"/><circle cx="1485.8" cy="738.2" r="0.7" fill="#fff" stroke="none"/><circle cx="1484.9" cy="735.5" r="0.7" fill="#fff" stroke="none"/><circle cx="1487.2" cy="744.9" r="4.1" stroke-width="1.25" fill="#4e4e4e"/><circle cx="1487.2" cy="742.4" r="0.7" fill="#fff" stroke="none"/><circle cx="1489.5" cy="744.1" r="0.7" fill="#fff" stroke="none"/><circle cx="1488.6" cy="746.9" r="0.7" fill="#fff" stroke="none"/><circle cx="1485.8" cy="746.9" r="0.7" fill="#fff" stroke="none"/><circle cx="1484.9" cy="744.1" r="0.7" fill="#fff" stroke="none"/><circle cx="1487.2" cy="755.4" r="6.4" stroke-width="1.25" fill="#4e4e4e"/><circle cx="1487.2" cy="751.6" r="1" fill="#fff" stroke="none"/><circle cx="1490.2" cy="753" r="1" fill="#fff" stroke="none"/><circle cx="1490.9" cy="756.3" r="1" fill="#fff" stroke="none"/><circle cx="1488.9" cy="758.9" r="1" fill="#fff" stroke="none"/><circle cx="1485.5" cy="758.9" r="1" fill="#fff" stroke="none"/><circle cx="1483.5" cy="756.3" r="1" fill="#fff" stroke="none"/><circle cx="1484.2" cy="753" r="1" fill="#fff" stroke="none"/><circle cx="1487.2" cy="765.9" r="4.1" stroke-width="1.25" fill="#4e4e4e"/><circle cx="1487.2" cy="763.4" r="0.7" fill="#fff" stroke="none"/><circle cx="1489.5" cy="765.1" r="0.7" fill="#fff" stroke="none"/><circle cx="1488.6" cy="767.9" r="0.7" fill="#fff" stroke="none"/><circle cx="1485.8" cy="767.9" r="0.7" fill="#fff" stroke="none"/><circle cx="1484.9" cy="765.1" r="0.7" fill="#fff" stroke="none"/><circle cx="1487.2" cy="774.6" r="4.1" stroke-width="1.25" fill="#4e4e4e"/><circle cx="1487.2" cy="772.1" r="0.7" fill="#fff" stroke="none"/><circle cx="1489.5" cy="773.8" r="0.7" fill="#fff" stroke="none"/><circle cx="1488.6" cy="776.6" r="0.7" fill="#fff" stroke="none"/><circle cx="1485.8" cy="776.6" r="0.7" fill="#fff" stroke="none"/><circle cx="1484.9" cy="773.8" r="0.7" fill="#fff" stroke="none"/><circle cx="1487.2" cy="783.2" r="4.1" stroke-width="1.25" fill="#4e4e4e"/><circle cx="1487.2" cy="780.8" r="0.7" fill="#fff" stroke="none"/><circle cx="1489.5" cy="782.5" r="0.7" fill="#fff" stroke="none"/><circle cx="1488.6" cy="785.2" r="0.7" fill="#fff" stroke="none"/><circle cx="1485.8" cy="785.2" r="0.7" fill="#fff" stroke="none"/><circle cx="1484.9" cy="782.5" r="0.7" fill="#fff" stroke="none"/><circle cx="1487.2" cy="791.9" r="4.1" stroke-width="1.25" fill="#4e4e4e"/><circle cx="1487.2" cy="789.4" r="0.7" fill="#fff" stroke="none"/><circle cx="1489.5" cy="791.1" r="0.7" fill="#fff" stroke="none"/><circle cx="1488.6" cy="793.9" r="0.7" fill="#fff" stroke="none"/><circle cx="1485.8" cy="793.9" r="0.7" fill="#fff" stroke="none"/><circle cx="1484.9" cy="791.1" r="0.7" fill="#fff" stroke="none"/><circle cx="1487.2" cy="802.4" r="6.4" stroke-width="1.25" fill="#4e4e4e"/><circle cx="1487.2" cy="798.6" r="1" fill="#fff" stroke="none"/><circle cx="1490.2" cy="800" r="1" fill="#fff" stroke="none"/><circle cx="1490.9" cy="803.3" r="1" fill="#fff" stroke="none"/><circle cx="1488.9" cy="805.9" r="1" fill="#fff" stroke="none"/><circle cx="1485.5" cy="805.9" r="1" fill="#fff" stroke="none"/><circle cx="1483.5" cy="803.3" r="1" fill="#fff" stroke="none"/><circle cx="1484.2" cy="800" r="1" fill="#fff" stroke="none"/><circle cx="1487.2" cy="812.9" r="4.1" stroke-width="1.25" fill="#4e4e4e"/><circle cx="1487.2" cy="810.4" r="0.7" fill="#fff" stroke="none"/><circle cx="1489.5" cy="812.1" r="0.7" fill="#fff" stroke="none"/><circle cx="1488.6" cy="814.9" r="0.7" fill="#fff" stroke="none"/><circle cx="1485.8" cy="814.9" r="0.7" fill="#fff" stroke="none"/><circle cx="1484.9" cy="812.1" r="0.7" fill="#fff" stroke="none"/><circle cx="1487.2" cy="821.6" r="4.1" stroke-width="1.25" fill="#4e4e4e"/><circle cx="1487.2" cy="819.1" r="0.7" fill="#fff" stroke="none"/><circle cx="1489.5" cy="820.8" r="0.7" fill="#fff" stroke="none"/><circle cx="1488.6" cy="823.6" r="0.7" fill="#fff" stroke="none"/><circle cx="1485.8" cy="823.6" r="0.7" fill="#fff" stroke="none"/><circle cx="1484.9" cy="820.8" r="0.7" fill="#fff" stroke="none"/><circle cx="1487.2" cy="830.2" r="4.1" stroke-width="1.25" fill="#4e4e4e"/><circle cx="1487.2" cy="827.8" r="0.7" fill="#fff" stroke="none"/><circle cx="1489.5" cy="829.5" r="0.7" fill="#fff" stroke="none"/><circle cx="1488.6" cy="832.2" r="0.7" fill="#fff" stroke="none"/><circle cx="1485.8" cy="832.2" r="0.7" fill="#fff" stroke="none"/><circle cx="1484.9" cy="829.5" r="0.7" fill="#fff" stroke="none"/><circle cx="1487.2" cy="838.9" r="4.1" stroke-width="1.25" fill="#4e4e4e"/><circle cx="1487.2" cy="836.4" r="0.7" fill="#fff" stroke="none"/><circle cx="1489.5" cy="838.1" r="0.7" fill="#fff" stroke="none"/><circle cx="1488.6" cy="840.9" r="0.7" fill="#fff" stroke="none"/><circle cx="1485.8" cy="840.9" r="0.7" fill="#fff" stroke="none"/><circle cx="1484.9" cy="838.1" r="0.7" fill="#fff" stroke="none"/><circle cx="1487.2" cy="849.4" r="6.4" stroke-width="1.25" fill="#4e4e4e"/><circle cx="1487.2" cy="845.6" r="1" fill="#fff" stroke="none"/><circle cx="1490.2" cy="847" r="1" fill="#fff" stroke="none"/><circle cx="1490.9" cy="850.3" r="1" fill="#fff" stroke="none"/><circle cx="1488.9" cy="852.9" r="1" fill="#fff" stroke="none"/><circle cx="1485.5" cy="852.9" r="1" fill="#fff" stroke="none"/><circle cx="1483.5" cy="850.3" r="1" fill="#fff" stroke="none"/><circle cx="1484.2" cy="847" r="1" fill="#fff" stroke="none"/><circle cx="1487.2" cy="859.4" r="4.1" stroke-width="1.25" fill="#4e4e4e"/><circle cx="1487.2" cy="856.9" r="0.7" fill="#fff" stroke="none"/><circle cx="1489.5" cy="858.6" r="0.7" fill="#fff" stroke="none"/><circle cx="1488.6" cy="861.4" r="0.7" fill="#fff" stroke="none"/><circle cx="1485.8" cy="861.4" r="0.7" fill="#fff" stroke="none"/><circle cx="1484.9" cy="858.6" r="0.7" fill="#fff" stroke="none"/><circle cx="1513.2" cy="708.4" r="6.4" stroke-width="1.25" fill="#4e4e4e"/><circle cx="1513.2" cy="704.6" r="1" fill="#fff" stroke="none"/><circle cx="1516.2" cy="706" r="1" fill="#fff" stroke="none"/><circle cx="1516.9" cy="709.3" r="1" fill="#fff" stroke="none"/><circle cx="1514.9" cy="711.9" r="1" fill="#fff" stroke="none"/><circle cx="1511.5" cy="711.9" r="1" fill="#fff" stroke="none"/><circle cx="1509.5" cy="709.3" r="1" fill="#fff" stroke="none"/><circle cx="1510.2" cy="706" r="1" fill="#fff" stroke="none"/><circle cx="1513.2" cy="718.9" r="4.1" stroke-width="1.25" fill="#4e4e4e"/><circle cx="1513.2" cy="716.4" r="0.7" fill="#fff" stroke="none"/><circle cx="1515.5" cy="718.1" r="0.7" fill="#fff" stroke="none"/><circle cx="1514.6" cy="720.9" r="0.7" fill="#fff" stroke="none"/><circle cx="1511.8" cy="720.9" r="0.7" fill="#fff" stroke="none"/><circle cx="1510.9" cy="718.1" r="0.7" fill="#fff" stroke="none"/><circle cx="1513.2" cy="727.6" r="4.1" stroke-width="1.25" fill="#4e4e4e"/><circle cx="1513.2" cy="725.1" r="0.7" fill="#fff" stroke="none"/><circle cx="1515.5" cy="726.8" r="0.7" fill="#fff" stroke="none"/><circle cx="1514.6" cy="729.6" r="0.7" fill="#fff" stroke="none"/><circle cx="1511.8" cy="729.6" r="0.7" fill="#fff" stroke="none"/><circle cx="1510.9" cy="726.8" r="0.7" fill="#fff" stroke="none"/><circle cx="1513.2" cy="736.2" r="4.1" stroke-width="1.25" fill="#4e4e4e"/><circle cx="1513.2" cy="733.8" r="0.7" fill="#fff" stroke="none"/><circle cx="1515.5" cy="735.5" r="0.7" fill="#fff" stroke="none"/><circle cx="1514.6" cy="738.2" r="0.7" fill="#fff" stroke="none"/><circle cx="1511.8" cy="738.2" r="0.7" fill="#fff" stroke="none"/><circle cx="1510.9" cy="735.5" r="0.7" fill="#fff" stroke="none"/><circle cx="1513.2" cy="744.9" r="4.1" stroke-width="1.25" fill="#4e4e4e"/><circle cx="1513.2" cy="742.4" r="0.7" fill="#fff" stroke="none"/><circle cx="1515.5" cy="744.1" r="0.7" fill="#fff" stroke="none"/><circle cx="1514.6" cy="746.9" r="0.7" fill="#fff" stroke="none"/><circle cx="1511.8" cy="746.9" r="0.7" fill="#fff" stroke="none"/><circle cx="1510.9" cy="744.1" r="0.7" fill="#fff" stroke="none"/><circle cx="1513.2" cy="755.4" r="6.4" stroke-width="1.25" fill="#4e4e4e"/><circle cx="1513.2" cy="751.6" r="1" fill="#fff" stroke="none"/><circle cx="1516.2" cy="753" r="1" fill="#fff" stroke="none"/><circle cx="1516.9" cy="756.3" r="1" fill="#fff" stroke="none"/><circle cx="1514.9" cy="758.9" r="1" fill="#fff" stroke="none"/><circle cx="1511.5" cy="758.9" r="1" fill="#fff" stroke="none"/><circle cx="1509.5" cy="756.3" r="1" fill="#fff" stroke="none"/><circle cx="1510.2" cy="753" r="1" fill="#fff" stroke="none"/><circle cx="1513.2" cy="765.9" r="4.1" stroke-width="1.25" fill="#4e4e4e"/><circle cx="1513.2" cy="763.4" r="0.7" fill="#fff" stroke="none"/><circle cx="1515.5" cy="765.1" r="0.7" fill="#fff" stroke="none"/><circle cx="1514.6" cy="767.9" r="0.7" fill="#fff" stroke="none"/><circle cx="1511.8" cy="767.9" r="0.7" fill="#fff" stroke="none"/><circle cx="1510.9" cy="765.1" r="0.7" fill="#fff" stroke="none"/><circle cx="1513.2" cy="774.6" r="4.1" stroke-width="1.25" fill="#4e4e4e"/><circle cx="1513.2" cy="772.1" r="0.7" fill="#fff" stroke="none"/><circle cx="1515.5" cy="773.8" r="0.7" fill="#fff" stroke="none"/><circle cx="1514.6" cy="776.6" r="0.7" fill="#fff" stroke="none"/><circle cx="1511.8" cy="776.6" r="0.7" fill="#fff" stroke="none"/><circle cx="1510.9" cy="773.8" r="0.7" fill="#fff" stroke="none"/><circle cx="1513.2" cy="783.2" r="4.1" stroke-width="1.25" fill="#4e4e4e"/><circle cx="1513.2" cy="780.8" r="0.7" fill="#fff" stroke="none"/><circle cx="1515.5" cy="782.5" r="0.7" fill="#fff" stroke="none"/><circle cx="1514.6" cy="785.2" r="0.7" fill="#fff" stroke="none"/><circle cx="1511.8" cy="785.2" r="0.7" fill="#fff" stroke="none"/><circle cx="1510.9" cy="782.5" r="0.7" fill="#fff" stroke="none"/><circle cx="1513.2" cy="791.9" r="4.1" stroke-width="1.25" fill="#4e4e4e"/><circle cx="1513.2" cy="789.4" r="0.7" fill="#fff" stroke="none"/><circle cx="1515.5" cy="791.1" r="0.7" fill="#fff" stroke="none"/><circle cx="1514.6" cy="793.9" r="0.7" fill="#fff" stroke="none"/><circle cx="1511.8" cy="793.9" r="0.7" fill="#fff" stroke="none"/><circle cx="1510.9" cy="791.1" r="0.7" fill="#fff" stroke="none"/><circle cx="1513.2" cy="802.4" r="6.4" stroke-width="1.25" fill="#4e4e4e"/><circle cx="1513.2" cy="798.6" r="1" fill="#fff" stroke="none"/><circle cx="1516.2" cy="800" r="1" fill="#fff" stroke="none"/><circle cx="1516.9" cy="803.3" r="1" fill="#fff" stroke="none"/><circle cx="1514.9" cy="805.9" r="1" fill="#fff" stroke="none"/><circle cx="1511.5" cy="805.9" r="1" fill="#fff" stroke="none"/><circle cx="1509.5" cy="803.3" r="1" fill="#fff" stroke="none"/><circle cx="1510.2" cy="800" r="1" fill="#fff" stroke="none"/><circle cx="1513.2" cy="812.9" r="4.1" stroke-width="1.25" fill="#4e4e4e"/><circle cx="1513.2" cy="810.4" r="0.7" fill="#fff" stroke="none"/><circle cx="1515.5" cy="812.1" r="0.7" fill="#fff" stroke="none"/><circle cx="1514.6" cy="814.9" r="0.7" fill="#fff" stroke="none"/><circle cx="1511.8" cy="814.9" r="0.7" fill="#fff" stroke="none"/><circle cx="1510.9" cy="812.1" r="0.7" fill="#fff" stroke="none"/><circle cx="1513.2" cy="821.6" r="4.1" stroke-width="1.25" fill="#4e4e4e"/><circle cx="1513.2" cy="819.1" r="0.7" fill="#fff" stroke="none"/><circle cx="1515.5" cy="820.8" r="0.7" fill="#fff" stroke="none"/><circle cx="1514.6" cy="823.6" r="0.7" fill="#fff" stroke="none"/><circle cx="1511.8" cy="823.6" r="0.7" fill="#fff" stroke="none"/><circle cx="1510.9" cy="820.8" r="0.7" fill="#fff" stroke="none"/><circle cx="1513.2" cy="830.2" r="4.1" stroke-width="1.25" fill="#4e4e4e"/><circle cx="1513.2" cy="827.8" r="0.7" fill="#fff" stroke="none"/><circle cx="1515.5" cy="829.5" r="0.7" fill="#fff" stroke="none"/><circle cx="1514.6" cy="832.2" r="0.7" fill="#fff" stroke="none"/><circle cx="1511.8" cy="832.2" r="0.7" fill="#fff" stroke="none"/><circle cx="1510.9" cy="829.5" r="0.7" fill="#fff" stroke="none"/><circle cx="1513.2" cy="838.9" r="4.1" stroke-width="1.25" fill="#4e4e4e"/><circle cx="1513.2" cy="836.4" r="0.7" fill="#fff" stroke="none"/><circle cx="1515.5" cy="838.1" r="0.7" fill="#fff" stroke="none"/><circle cx="1514.6" cy="840.9" r="0.7" fill="#fff" stroke="none"/><circle cx="1511.8" cy="840.9" r="0.7" fill="#fff" stroke="none"/><circle cx="1510.9" cy="838.1" r="0.7" fill="#fff" stroke="none"/><circle cx="1513.2" cy="849.4" r="6.4" stroke-width="1.25" fill="#4e4e4e"/><circle cx="1513.2" cy="845.6" r="1" fill="#fff" stroke="none"/><circle cx="1516.2" cy="847" r="1" fill="#fff" stroke="none"/><circle cx="1516.9" cy="850.3" r="1" fill="#fff" stroke="none"/><circle cx="1514.9" cy="852.9" r="1" fill="#fff" stroke="none"/><circle cx="1511.5" cy="852.9" r="1" fill="#fff" stroke="none"/><circle cx="1509.5" cy="850.3" r="1" fill="#fff" stroke="none"/><circle cx="1510.2" cy="847" r="1" fill="#fff" stroke="none"/><circle cx="1513.2" cy="859.4" r="4.1" stroke-width="1.25" fill="#4e4e4e"/><circle cx="1513.2" cy="856.9" r="0.7" fill="#fff" stroke="none"/><circle cx="1515.5" cy="858.6" r="0.7" fill="#fff" stroke="none"/><circle cx="1514.6" cy="861.4" r="0.7" fill="#fff" stroke="none"/><circle cx="1511.8" cy="861.4" r="0.7" fill="#fff" stroke="none"/><circle cx="1510.9" cy="858.6" r="0.7" fill="#fff" stroke="none"/><path d="M1469.9,706.5 C1485.9,714.7 1485.9,737.3 1469.9,745.5 C1454,737.3 1454,714.7 1469.9,706.5 Z" stroke-width="1.15"/><path d="M1469.9,707.5 C1483.9,715.3 1483.9,736.7 1469.9,744.5 C1455.9,736.7 1455.9,715.3 1469.9,707.5 Z" stroke-width="0.55"/><path d="M1460.9,726 L1465.3,720.9 L1469.6,726 L1465.3,731.1 Z" stroke-width="0.8"/><line x1="1465.3" y1="714.7" x2="1465.3" y2="720.9" stroke-width="0.7"/><line x1="1465.3" y1="737.3" x2="1465.3" y2="731.1" stroke-width="0.7"/><line x1="1461.3" y1="717.2" x2="1461.3" y2="734.8" stroke-width="0.5"/><path d="M1478.9,726 L1474.5,720.9 L1470.2,726 L1474.5,731.1 Z" stroke-width="0.8"/><line x1="1474.5" y1="714.7" x2="1474.5" y2="720.9" stroke-width="0.7"/><line x1="1474.5" y1="737.3" x2="1474.5" y2="731.1" stroke-width="0.7"/><line x1="1478.5" y1="717.2" x2="1478.5" y2="734.8" stroke-width="0.5"/><path d="M1460.6,723.7 L1465.3,714.7 L1469.9,719.8 L1474.5,714.7 L1479.2,723.7" stroke-width="0.8"/><path d="M1465.3,714.7 L1469.9,708.5 L1474.5,714.7" stroke-width="0.8"/><path d="M1460.6,728.3 L1465.3,737.3 L1469.9,732.2 L1474.5,737.3 L1479.2,728.3" stroke-width="0.8"/><path d="M1465.3,737.3 L1469.9,743.5 L1474.5,737.3" stroke-width="0.8"/><line x1="1459.5" y1="726" x2="1480.4" y2="726" stroke-width="0.5"/><line x1="1469.9" y1="706.5" x2="1469.9" y2="745.5" stroke-width="0.8"/><circle cx="1469.9" cy="726" r="1" fill="#000" stroke="none"/><circle cx="1469.9" cy="742" r="0.9" fill="#000" stroke="none"/><circle cx="1469.9" cy="709.2" r="0.9" stroke-width="0.6"/><path d="M1446,708 C1452,716 1488,716 1494,708" stroke-width="1.1"/><path d="M1419.7,863.7 C1416.4,866.5 1415,860.8 1419.7,858.9 C1425.4,857.1 1430.1,859.9 1434.9,868.4 C1440.5,878.8 1449.1,889.3 1464.2,892.4 M1420.2,863.2 C1424.4,861.3 1429.2,863.7 1431.1,870.3 C1434.9,881.7 1440.5,891.1 1452.9,892.4" stroke-width="1.3"/><circle cx="1428.7" cy="876.3" r="1.9" stroke-width="1.0" fill="#fff"/><path d="M1438.2,863.7 C1435.8,861.8 1436.8,858.5 1440.5,858.5 C1445.3,858.9 1451,869.4 1460.4,883.6 M1440.1,860.8 C1441.5,867.5 1443.4,873.2 1445.3,880.7 M1442.4,875.5 C1447.2,873.2 1450,878.8 1453.8,881.7 C1457.6,883.6 1461.4,886.4 1464.7,892.1 M1442.4,875.5 C1444.3,883.6 1449.1,890.2 1458.5,892.4" stroke-width="1.2"/><path d="M1520.1,863.7 C1523.4,866.5 1524.8,860.8 1520.1,858.9 C1514.4,857.1 1509.7,859.9 1504.9,868.4 C1499.3,878.8 1490.7,889.3 1475.6,892.4 M1519.6,863.2 C1515.4,861.3 1510.6,863.7 1508.7,870.3 C1504.9,881.7 1499.3,891.1 1486.9,892.4" stroke-width="1.3"/><circle cx="1511.1" cy="876.3" r="1.9" stroke-width="1.0" fill="#fff"/><path d="M1501.6,863.7 C1504,861.8 1503,858.5 1499.3,858.5 C1494.5,858.9 1488.8,869.4 1479.4,883.6 M1499.7,860.8 C1498.3,867.5 1496.4,873.2 1494.5,880.7 M1497.4,875.5 C1492.6,873.2 1489.8,878.8 1486,881.7 C1482.2,883.6 1478.4,886.4 1475.1,892.1 M1497.4,875.5 C1495.5,883.6 1490.7,890.2 1481.3,892.4" stroke-width="1.2"/><path d="M1469.9,859.4 L1460.9,880.7 C1460.4,886.4 1464.2,892.1 1469.9,892.4 C1475.6,892.1 1479.4,886.4 1478.9,880.7 Z" stroke-width="1.1"/><path d="M1469.9,859.9 C1467.1,860.8 1467.1,862.7 1469.9,865.6 C1472.7,862.7 1472.7,860.8 1469.9,859.9 Z" stroke-width="1.0" fill="#333"/><line x1="1449.1" y1="892.4" x2="1490.7" y2="892.4" stroke-width="1.2"/><path d="M1457,892.7 C1458.5,897.8 1462.3,899.7 1464.2,899.7 L1475.6,899.7 C1477.5,899.7 1481.3,897.8 1482.4,892.7" stroke-width="1.1"/><line x1="1457.6" y1="894.6" x2="1482.2" y2="894.6" stroke-width="0.9"/><path d="M1466.1,900.2 L1466.1,912.9 M1473.7,900.2 L1473.7,912.9" stroke-width="1.0"/><path d="M1465.2,900.6 C1461.4,905.4 1462.3,912 1469.9,915.3 C1477.5,912 1478.4,905.4 1474.6,900.6" stroke="#222" stroke-width="3.1727999999999996" fill="none" stroke-linecap="butt"/><path d="M1465.2,900.6 C1461.4,905.4 1462.3,912 1469.9,915.3 C1477.5,912 1478.4,905.4 1474.6,900.6" stroke="#fff" stroke-width="1.3727999999999998" fill="none" stroke-linecap="butt"/><circle cx="1469.9" cy="916.7" r="1.7" fill="#111" stroke-width="0.8"/><line x1="1469.9" y1="918.1" x2="1469.9" y2="925.2" stroke-width="0.9"/><clipPath id="cb14699_9440"><path d="M1466.6,925.6 L1473.2,925.6 C1480.2,927.1 1485.1,934.8 1485.1,944 C1485.1,953.2 1478.3,959.8 1469.9,962.4 C1461.5,959.8 1454.7,953.2 1454.7,944 C1454.7,934.8 1459.6,927.1 1466.6,925.6 Z"/></clipPath><g clip-path="url(#cb14699_9440)" stroke-width="0.68"><line x1="1401.1" y1="905.4" x2="1445.2" y2="982.6"/><line x1="1445.2" y1="905.4" x2="1401.1" y2="982.6"/><line x1="1406.9" y1="905.4" x2="1451.1" y2="982.6"/><line x1="1451.1" y1="905.4" x2="1406.9" y2="982.6"/><line x1="1412.7" y1="905.4" x2="1456.9" y2="982.6"/><line x1="1456.9" y1="905.4" x2="1412.7" y2="982.6"/><line x1="1418.6" y1="905.4" x2="1462.7" y2="982.6"/><line x1="1462.7" y1="905.4" x2="1418.6" y2="982.6"/><line x1="1424.4" y1="905.4" x2="1468.6" y2="982.6"/><line x1="1468.6" y1="905.4" x2="1424.4" y2="982.6"/><line x1="1430.3" y1="905.4" x2="1474.4" y2="982.6"/><line x1="1474.4" y1="905.4" x2="1430.3" y2="982.6"/><line x1="1436.1" y1="905.4" x2="1480.3" y2="982.6"/><line x1="1480.3" y1="905.4" x2="1436.1" y2="982.6"/><line x1="1442" y1="905.4" x2="1486.1" y2="982.6"/><line x1="1486.1" y1="905.4" x2="1442" y2="982.6"/><line x1="1447.8" y1="905.4" x2="1492" y2="982.6"/><line x1="1492" y1="905.4" x2="1447.8" y2="982.6"/><line x1="1453.7" y1="905.4" x2="1497.8" y2="982.6"/><line x1="1497.8" y1="905.4" x2="1453.7" y2="982.6"/><line x1="1459.5" y1="905.4" x2="1503.7" y2="982.6"/><line x1="1503.7" y1="905.4" x2="1459.5" y2="982.6"/><line x1="1465.4" y1="905.4" x2="1509.5" y2="982.6"/><line x1="1509.5" y1="905.4" x2="1465.4" y2="982.6"/><line x1="1471.2" y1="905.4" x2="1515.4" y2="982.6"/><line x1="1515.4" y1="905.4" x2="1471.2" y2="982.6"/><line x1="1477.1" y1="905.4" x2="1521.2" y2="982.6"/><line x1="1521.2" y1="905.4" x2="1477.1" y2="982.6"/><line x1="1482.9" y1="905.4" x2="1527.1" y2="982.6"/><line x1="1527.1" y1="905.4" x2="1482.9" y2="982.6"/><line x1="1488.7" y1="905.4" x2="1532.9" y2="982.6"/><line x1="1532.9" y1="905.4" x2="1488.7" y2="982.6"/><line x1="1494.6" y1="905.4" x2="1538.7" y2="982.6"/><line x1="1538.7" y1="905.4" x2="1494.6" y2="982.6"/><line x1="1451.7" y1="913.5" x2="1488.1" y2="913.5"/><line x1="1451.7" y1="918.6" x2="1488.1" y2="918.6"/><line x1="1451.7" y1="923.7" x2="1488.1" y2="923.7"/><line x1="1451.7" y1="928.7" x2="1488.1" y2="928.7"/><line x1="1451.7" y1="933.8" x2="1488.1" y2="933.8"/><line x1="1451.7" y1="938.9" x2="1488.1" y2="938.9"/><line x1="1451.7" y1="944" x2="1488.1" y2="944"/><line x1="1451.7" y1="949.1" x2="1488.1" y2="949.1"/><line x1="1451.7" y1="954.2" x2="1488.1" y2="954.2"/><line x1="1451.7" y1="959.3" x2="1488.1" y2="959.3"/><line x1="1451.7" y1="964.3" x2="1488.1" y2="964.3"/><line x1="1451.7" y1="969.4" x2="1488.1" y2="969.4"/><line x1="1451.7" y1="974.5" x2="1488.1" y2="974.5"/></g><path d="M1466.6,925.6 L1473.2,925.6 C1480.2,927.1 1485.1,934.8 1485.1,944 C1485.1,953.2 1478.3,959.8 1469.9,962.4 C1461.5,959.8 1454.7,953.2 1454.7,944 C1454.7,934.8 1459.6,927.1 1466.6,925.6 Z" stroke-width="1.1199999999999999"/><circle cx="1469.9" cy="928.6" r="1.6" stroke-width="0.8"/><circle cx="1419" cy="856" r="2" stroke-width="0.9"/><circle cx="1440.6" cy="856" r="2" stroke-width="0.9"/><circle cx="1469.9" cy="856" r="2" stroke-width="0.9"/><circle cx="1500.4" cy="856" r="2" stroke-width="0.9"/><circle cx="1520.8" cy="856" r="2" stroke-width="0.9"/><g transform="matrix(-1 0 0 1 3324 0)"><path d="M1639.6,514 C1639.6,521.7 1639.6,547.3 1639.4,560 C1639.2,572.7 1639.6,580.8 1638.5,590 C1637.4,599.2 1636.1,608 1633,615 C1629.9,622 1625.5,628.1 1620,632 C1614.5,635.9 1604.7,637.2 1600,638.5 C1595.3,639.8 1593.3,639.3 1592,639.5" stroke="#222" stroke-width="8.8" fill="none"/><path d="M1580,619 C1581.7,620.8 1585.7,627.5 1590,630 C1594.3,632.5 1600.8,634.7 1606,634 C1611.2,633.3 1616.8,630 1621,626 C1625.2,622 1628.3,615.7 1631,610 C1633.7,604.3 1635.7,597.8 1637,592 C1638.3,586.2 1638.5,577.8 1638.8,575" stroke="#222" stroke-width="6.5" fill="none"/><path d="M1639.6,514 C1639.6,521.7 1639.6,547.3 1639.4,560 C1639.2,572.7 1639.6,580.8 1638.5,590 C1637.4,599.2 1636.1,608 1633,615 C1629.9,622 1625.5,628.1 1620,632 C1614.5,635.9 1604.7,637.2 1600,638.5 C1595.3,639.8 1593.3,639.3 1592,639.5" stroke="#fff" stroke-width="6.8" fill="none"/><path d="M1580,619 C1581.7,620.8 1585.7,627.5 1590,630 C1594.3,632.5 1600.8,634.7 1606,634 C1611.2,633.3 1616.8,630 1621,626 C1625.2,622 1628.3,615.7 1631,610 C1633.7,604.3 1635.7,597.8 1637,592 C1638.3,586.2 1638.5,577.8 1638.8,575" stroke="#fff" stroke-width="4.5" fill="none"/><path d="M1607.5,571 C1606.8,571.8 1604.7,575.4 1603,575.5 C1601.3,575.6 1598.4,573.6 1597.5,571.5 C1596.6,569.4 1596.5,565.5 1597.5,563 C1598.5,560.5 1601.1,557.8 1603.5,556.5 C1605.9,555.2 1609.1,554.6 1612,555.5 C1614.9,556.4 1618.8,558.2 1621,562 C1623.2,565.8 1624.8,572.8 1625.5,578 C1626.2,583.2 1626.2,588.3 1625,593 C1623.8,597.7 1621,603.2 1618,606 C1615,608.8 1610.2,609.8 1607,610 C1603.8,610.2 1600.2,608.7 1598.5,607 C1596.8,605.3 1596.1,601.9 1596.5,600 C1596.9,598.1 1599.5,595.7 1601,595.5 C1602.5,595.3 1604.8,598.4 1605.5,599" stroke="#222" stroke-width="6.0" fill="none" stroke-linecap="butt"/><path d="M1607.5,571 C1606.8,571.8 1604.7,575.4 1603,575.5 C1601.3,575.6 1598.4,573.6 1597.5,571.5 C1596.6,569.4 1596.5,565.5 1597.5,563 C1598.5,560.5 1601.1,557.8 1603.5,556.5 C1605.9,555.2 1609.1,554.6 1612,555.5 C1614.9,556.4 1618.8,558.2 1621,562 C1623.2,565.8 1624.8,572.8 1625.5,578 C1626.2,583.2 1626.2,588.3 1625,593 C1623.8,597.7 1621,603.2 1618,606 C1615,608.8 1610.2,609.8 1607,610 C1603.8,610.2 1600.2,608.7 1598.5,607 C1596.8,605.3 1596.1,601.9 1596.5,600 C1596.9,598.1 1599.5,595.7 1601,595.5 C1602.5,595.3 1604.8,598.4 1605.5,599" stroke="#fff" stroke-width="4.0" fill="none" stroke-linecap="butt"/><rect x="1634.5" y="513.5" width="10" height="2.5" stroke-width="0.9" fill="#fff"/><circle cx="1628.7" cy="560.9" r="6.2" stroke-width="1.1" fill="#fff"/><circle cx="1620.1" cy="613.8" r="6.2" stroke-width="1.1" fill="#fff"/><circle cx="1578.9" cy="613.8" r="6.2" stroke-width="1.1" fill="#fff"/><circle cx="1589.8" cy="639.5" r="6.2" stroke-width="1.1" fill="#fff"/><path d="M1440,653.5 C1450,662 1460,665 1471,664.5 C1492,664 1522,648 1553,642 C1576,638 1593,650 1597,667 C1600,681 1592,692 1581,693 C1572,693.5 1567,684 1572,677.5 C1575,673.5 1580,673.5 1581,676.5" stroke="#222" stroke-width="11.0" fill="none" stroke-linecap="butt"/><path d="M1440,653.5 C1450,662 1460,665 1471,664.5 C1492,664 1522,648 1553,642 C1576,638 1593,650 1597,667 C1600,681 1592,692 1581,693 C1572,693.5 1567,684 1572,677.5 C1575,673.5 1580,673.5 1581,676.5" stroke="#fff" stroke-width="9.0" fill="none" stroke-linecap="butt"/><path d="M1440,653.5 C1450,662 1460,665 1471,664.5 C1492,664 1522,648 1553,642 C1576,638 1593,650 1597,667 C1600,681 1592,692 1581,693 C1572,693.5 1567,684 1572,677.5 C1575,673.5 1580,673.5 1581,676.5" stroke="#222" stroke-width="1.0" fill="none"/><circle cx="1439.1" cy="653.3" r="6.2" stroke-width="1.1" fill="#fff"/><line x1="1436" y1="650.5" x2="1443" y2="656" stroke-width="0.9"/><ellipse cx="1606.1" cy="672.9" rx="3.9" ry="8.6" stroke-width="1" fill="#fff"/><path d="M1470.3,632.9 C1472.5,638 1478.5,643 1479.2,647 C1478.5,651 1475.5,655 1474.7,659 L1465.8,659 C1465,655 1462,651 1461.4,647 C1462,643 1468,638 1470.3,632.9 Z" stroke-width="1" fill="#fff"/><ellipse cx="1470.3" cy="673.6" rx="8.5" ry="5" stroke-width="1" fill="#fff"/><path d="M1455.6,692.7 L1455.6,686 C1455.6,681 1457.5,678.7 1462,678.7 L1478.5,678.7 C1483,678.7 1484.9,681 1484.9,686 L1484.9,692.7" stroke-width="1.1"/><path d="M1459.5,692.7 L1461,684 C1461.5,682 1463,681.5 1465,681.5 L1475.5,681.5 C1477.5,681.5 1479,682 1479.5,684 L1481,692.7" stroke-width="0.9"/><line x1="1470.3" y1="676" x2="1470.3" y2="700" stroke-width="0.8"/><rect x="1455.9" y="699" width="28" height="45.8" fill="#5a5a5a" stroke-width="0.8"/><rect x="1420.6" y="692" width="98.6" height="7.4" stroke-width="1.1"/><line x1="1422.6" y1="692.5" x2="1433.6" y2="712" stroke-width="0.9"/><line x1="1517.2" y1="692.5" x2="1506.2" y2="712" stroke-width="0.9"/><line x1="1419.4" y1="700" x2="1419.4" y2="848.9" stroke-width="0.8"/><line x1="1440.6" y1="700" x2="1440.6" y2="848.9" stroke-width="0.8"/><line x1="1469.9" y1="700" x2="1469.9" y2="848.9" stroke-width="0.8"/><line x1="1500.4" y1="700" x2="1500.4" y2="848.9" stroke-width="0.8"/><line x1="1520.4" y1="700" x2="1520.4" y2="848.9" stroke-width="0.8"/><line x1="1428.9" y1="700" x2="1428.9" y2="706" stroke-width="0.8"/><line x1="1460.9" y1="700" x2="1460.9" y2="706" stroke-width="0.8"/><line x1="1491.9" y1="700" x2="1491.9" y2="706" stroke-width="0.8"/><line x1="1512.9" y1="700" x2="1512.9" y2="706" stroke-width="0.8"/><path d="M1419.4,707.9 C1434.7,716.5 1434.7,740.3 1419.4,748.9 C1404.1,740.3 1404.1,716.5 1419.4,707.9 Z" stroke-width="1.15"/><path d="M1419.4,708.9 C1432.9,717.1 1432.9,739.7 1419.4,747.9 C1405.9,739.7 1405.9,717.1 1419.4,708.9 Z" stroke-width="0.55"/><path d="M1410.7,728.4 L1415,723.1 L1419.1,728.4 L1415,733.7 Z" stroke-width="0.8"/><line x1="1415" y1="716.5" x2="1415" y2="723.1" stroke-width="0.7"/><line x1="1415" y1="740.3" x2="1415" y2="733.7" stroke-width="0.7"/><line x1="1411.1" y1="719.2" x2="1411.1" y2="737.6" stroke-width="0.5"/><path d="M1428.1,728.4 L1423.8,723.1 L1419.7,728.4 L1423.8,733.7 Z" stroke-width="0.8"/><line x1="1423.8" y1="716.5" x2="1423.8" y2="723.1" stroke-width="0.7"/><line x1="1423.8" y1="740.3" x2="1423.8" y2="733.7" stroke-width="0.7"/><line x1="1427.7" y1="719.2" x2="1427.7" y2="737.6" stroke-width="0.5"/><path d="M1410.4,725.9 L1415,716.5 L1419.4,721.8 L1423.8,716.5 L1428.4,725.9" stroke-width="0.8"/><path d="M1415,716.5 L1419.4,709.9 L1423.8,716.5" stroke-width="0.8"/><path d="M1410.4,730.9 L1415,740.3 L1419.4,735 L1423.8,740.3 L1428.4,730.9" stroke-width="0.8"/><path d="M1415,740.3 L1419.4,746.9 L1423.8,740.3" stroke-width="0.8"/><line x1="1409.3" y1="728.4" x2="1429.5" y2="728.4" stroke-width="0.5"/><line x1="1419.4" y1="707.9" x2="1419.4" y2="748.9" stroke-width="0.8"/><circle cx="1419.4" cy="728.4" r="1" fill="#000" stroke="none"/><circle cx="1419.4" cy="745.2" r="0.9" fill="#000" stroke="none"/><circle cx="1419.4" cy="710.8" r="0.9" stroke-width="0.6"/><path d="M1440.6,707.9 C1457.3,716.5 1457.3,740.3 1440.6,748.9 C1423.9,740.3 1423.9,716.5 1440.6,707.9 Z" stroke-width="1.15"/><path d="M1440.6,708.9 C1455.3,717.1 1455.3,739.7 1440.6,747.9 C1425.9,739.7 1425.9,717.1 1440.6,708.9 Z" stroke-width="0.55"/><path d="M1431.2,728.4 L1435.8,723.1 L1440.3,728.4 L1435.8,733.7 Z" stroke-width="0.8"/><line x1="1435.8" y1="716.5" x2="1435.8" y2="723.1" stroke-width="0.7"/><line x1="1435.8" y1="740.3" x2="1435.8" y2="733.7" stroke-width="0.7"/><line x1="1431.6" y1="719.2" x2="1431.6" y2="737.6" stroke-width="0.5"/><path d="M1450,728.4 L1445.4,723.1 L1440.9,728.4 L1445.4,733.7 Z" stroke-width="0.8"/><line x1="1445.4" y1="716.5" x2="1445.4" y2="723.1" stroke-width="0.7"/><line x1="1445.4" y1="740.3" x2="1445.4" y2="733.7" stroke-width="0.7"/><line x1="1449.6" y1="719.2" x2="1449.6" y2="737.6" stroke-width="0.5"/><path d="M1430.8,725.9 L1435.8,716.5 L1440.6,721.8 L1445.4,716.5 L1450.4,725.9" stroke-width="0.8"/><path d="M1435.8,716.5 L1440.6,709.9 L1445.4,716.5" stroke-width="0.8"/><path d="M1430.8,730.9 L1435.8,740.3 L1440.6,735 L1445.4,740.3 L1450.4,730.9" stroke-width="0.8"/><path d="M1435.8,740.3 L1440.6,746.9 L1445.4,740.3" stroke-width="0.8"/><line x1="1429.7" y1="728.4" x2="1451.5" y2="728.4" stroke-width="0.5"/><line x1="1440.6" y1="707.9" x2="1440.6" y2="748.9" stroke-width="0.8"/><circle cx="1440.6" cy="728.4" r="1" fill="#000" stroke="none"/><circle cx="1440.6" cy="745.2" r="0.9" fill="#000" stroke="none"/><circle cx="1440.6" cy="710.8" r="0.9" stroke-width="0.6"/><path d="M1500.4,707.9 C1517.1,716.5 1517.1,740.3 1500.4,748.9 C1483.7,740.3 1483.7,716.5 1500.4,707.9 Z" stroke-width="1.15"/><path d="M1500.4,708.9 C1515.1,717.1 1515.1,739.7 1500.4,747.9 C1485.7,739.7 1485.7,717.1 1500.4,708.9 Z" stroke-width="0.55"/><path d="M1491,728.4 L1495.6,723.1 L1500.1,728.4 L1495.6,733.7 Z" stroke-width="0.8"/><line x1="1495.6" y1="716.5" x2="1495.6" y2="723.1" stroke-width="0.7"/><line x1="1495.6" y1="740.3" x2="1495.6" y2="733.7" stroke-width="0.7"/><line x1="1491.4" y1="719.2" x2="1491.4" y2="737.6" stroke-width="0.5"/><path d="M1509.8,728.4 L1505.2,723.1 L1500.7,728.4 L1505.2,733.7 Z" stroke-width="0.8"/><line x1="1505.2" y1="716.5" x2="1505.2" y2="723.1" stroke-width="0.7"/><line x1="1505.2" y1="740.3" x2="1505.2" y2="733.7" stroke-width="0.7"/><line x1="1509.4" y1="719.2" x2="1509.4" y2="737.6" stroke-width="0.5"/><path d="M1490.6,725.9 L1495.6,716.5 L1500.4,721.8 L1505.2,716.5 L1510.2,725.9" stroke-width="0.8"/><path d="M1495.6,716.5 L1500.4,709.9 L1505.2,716.5" stroke-width="0.8"/><path d="M1490.6,730.9 L1495.6,740.3 L1500.4,735 L1505.2,740.3 L1510.2,730.9" stroke-width="0.8"/><path d="M1495.6,740.3 L1500.4,746.9 L1505.2,740.3" stroke-width="0.8"/><line x1="1489.5" y1="728.4" x2="1511.3" y2="728.4" stroke-width="0.5"/><line x1="1500.4" y1="707.9" x2="1500.4" y2="748.9" stroke-width="0.8"/><circle cx="1500.4" cy="728.4" r="1" fill="#000" stroke="none"/><circle cx="1500.4" cy="745.2" r="0.9" fill="#000" stroke="none"/><circle cx="1500.4" cy="710.8" r="0.9" stroke-width="0.6"/><path d="M1520.4,707.9 C1535.7,716.5 1535.7,740.3 1520.4,748.9 C1505.1,740.3 1505.1,716.5 1520.4,707.9 Z" stroke-width="1.15"/><path d="M1520.4,708.9 C1533.9,717.1 1533.9,739.7 1520.4,747.9 C1506.9,739.7 1506.9,717.1 1520.4,708.9 Z" stroke-width="0.55"/><path d="M1511.7,728.4 L1516,723.1 L1520.1,728.4 L1516,733.7 Z" stroke-width="0.8"/><line x1="1516" y1="716.5" x2="1516" y2="723.1" stroke-width="0.7"/><line x1="1516" y1="740.3" x2="1516" y2="733.7" stroke-width="0.7"/><line x1="1512.1" y1="719.2" x2="1512.1" y2="737.6" stroke-width="0.5"/><path d="M1529.1,728.4 L1524.8,723.1 L1520.7,728.4 L1524.8,733.7 Z" stroke-width="0.8"/><line x1="1524.8" y1="716.5" x2="1524.8" y2="723.1" stroke-width="0.7"/><line x1="1524.8" y1="740.3" x2="1524.8" y2="733.7" stroke-width="0.7"/><line x1="1528.7" y1="719.2" x2="1528.7" y2="737.6" stroke-width="0.5"/><path d="M1511.4,725.9 L1516,716.5 L1520.4,721.8 L1524.8,716.5 L1529.4,725.9" stroke-width="0.8"/><path d="M1516,716.5 L1520.4,709.9 L1524.8,716.5" stroke-width="0.8"/><path d="M1511.4,730.9 L1516,740.3 L1520.4,735 L1524.8,740.3 L1529.4,730.9" stroke-width="0.8"/><path d="M1516,740.3 L1520.4,746.9 L1524.8,740.3" stroke-width="0.8"/><line x1="1510.3" y1="728.4" x2="1530.5" y2="728.4" stroke-width="0.5"/><line x1="1520.4" y1="707.9" x2="1520.4" y2="748.9" stroke-width="0.8"/><circle cx="1520.4" cy="728.4" r="1" fill="#000" stroke="none"/><circle cx="1520.4" cy="745.2" r="0.9" fill="#000" stroke="none"/><circle cx="1520.4" cy="710.8" r="0.9" stroke-width="0.6"/><path d="M1419.4,754.9 C1434.7,763.5 1434.7,787.3 1419.4,795.9 C1404.1,787.3 1404.1,763.5 1419.4,754.9 Z" stroke-width="1.15"/><path d="M1419.4,755.9 C1432.9,764.1 1432.9,786.7 1419.4,794.9 C1405.9,786.7 1405.9,764.1 1419.4,755.9 Z" stroke-width="0.55"/><path d="M1410.7,775.4 L1415,770.1 L1419.1,775.4 L1415,780.7 Z" stroke-width="0.8"/><line x1="1415" y1="763.5" x2="1415" y2="770.1" stroke-width="0.7"/><line x1="1415" y1="787.3" x2="1415" y2="780.7" stroke-width="0.7"/><line x1="1411.1" y1="766.2" x2="1411.1" y2="784.6" stroke-width="0.5"/><path d="M1428.1,775.4 L1423.8,770.1 L1419.7,775.4 L1423.8,780.7 Z" stroke-width="0.8"/><line x1="1423.8" y1="763.5" x2="1423.8" y2="770.1" stroke-width="0.7"/><line x1="1423.8" y1="787.3" x2="1423.8" y2="780.7" stroke-width="0.7"/><line x1="1427.7" y1="766.2" x2="1427.7" y2="784.6" stroke-width="0.5"/><path d="M1410.4,772.9 L1415,763.5 L1419.4,768.8 L1423.8,763.5 L1428.4,772.9" stroke-width="0.8"/><path d="M1415,763.5 L1419.4,756.9 L1423.8,763.5" stroke-width="0.8"/><path d="M1410.4,777.9 L1415,787.3 L1419.4,782 L1423.8,787.3 L1428.4,777.9" stroke-width="0.8"/><path d="M1415,787.3 L1419.4,793.9 L1423.8,787.3" stroke-width="0.8"/><line x1="1409.3" y1="775.4" x2="1429.5" y2="775.4" stroke-width="0.5"/><line x1="1419.4" y1="754.9" x2="1419.4" y2="795.9" stroke-width="0.8"/><circle cx="1419.4" cy="775.4" r="1" fill="#000" stroke="none"/><circle cx="1419.4" cy="792.2" r="0.9" fill="#000" stroke="none"/><circle cx="1419.4" cy="757.8" r="0.9" stroke-width="0.6"/><path d="M1440.6,754.9 C1457.3,763.5 1457.3,787.3 1440.6,795.9 C1423.9,787.3 1423.9,763.5 1440.6,754.9 Z" stroke-width="1.15"/><path d="M1440.6,755.9 C1455.3,764.1 1455.3,786.7 1440.6,794.9 C1425.9,786.7 1425.9,764.1 1440.6,755.9 Z" stroke-width="0.55"/><path d="M1431.2,775.4 L1435.8,770.1 L1440.3,775.4 L1435.8,780.7 Z" stroke-width="0.8"/><line x1="1435.8" y1="763.5" x2="1435.8" y2="770.1" stroke-width="0.7"/><line x1="1435.8" y1="787.3" x2="1435.8" y2="780.7" stroke-width="0.7"/><line x1="1431.6" y1="766.2" x2="1431.6" y2="784.6" stroke-width="0.5"/><path d="M1450,775.4 L1445.4,770.1 L1440.9,775.4 L1445.4,780.7 Z" stroke-width="0.8"/><line x1="1445.4" y1="763.5" x2="1445.4" y2="770.1" stroke-width="0.7"/><line x1="1445.4" y1="787.3" x2="1445.4" y2="780.7" stroke-width="0.7"/><line x1="1449.6" y1="766.2" x2="1449.6" y2="784.6" stroke-width="0.5"/><path d="M1430.8,772.9 L1435.8,763.5 L1440.6,768.8 L1445.4,763.5 L1450.4,772.9" stroke-width="0.8"/><path d="M1435.8,763.5 L1440.6,756.9 L1445.4,763.5" stroke-width="0.8"/><path d="M1430.8,777.9 L1435.8,787.3 L1440.6,782 L1445.4,787.3 L1450.4,777.9" stroke-width="0.8"/><path d="M1435.8,787.3 L1440.6,793.9 L1445.4,787.3" stroke-width="0.8"/><line x1="1429.7" y1="775.4" x2="1451.5" y2="775.4" stroke-width="0.5"/><line x1="1440.6" y1="754.9" x2="1440.6" y2="795.9" stroke-width="0.8"/><circle cx="1440.6" cy="775.4" r="1" fill="#000" stroke="none"/><circle cx="1440.6" cy="792.2" r="0.9" fill="#000" stroke="none"/><circle cx="1440.6" cy="757.8" r="0.9" stroke-width="0.6"/><path d="M1469.9,754.9 C1486.6,763.5 1486.6,787.3 1469.9,795.9 C1453.2,787.3 1453.2,763.5 1469.9,754.9 Z" stroke-width="1.15"/><path d="M1469.9,755.9 C1484.6,764.1 1484.6,786.7 1469.9,794.9 C1455.2,786.7 1455.2,764.1 1469.9,755.9 Z" stroke-width="0.55"/><path d="M1460.5,775.4 L1465.1,770.1 L1469.6,775.4 L1465.1,780.7 Z" stroke-width="0.8"/><line x1="1465.1" y1="763.5" x2="1465.1" y2="770.1" stroke-width="0.7"/><line x1="1465.1" y1="787.3" x2="1465.1" y2="780.7" stroke-width="0.7"/><line x1="1460.9" y1="766.2" x2="1460.9" y2="784.6" stroke-width="0.5"/><path d="M1479.3,775.4 L1474.7,770.1 L1470.2,775.4 L1474.7,780.7 Z" stroke-width="0.8"/><line x1="1474.7" y1="763.5" x2="1474.7" y2="770.1" stroke-width="0.7"/><line x1="1474.7" y1="787.3" x2="1474.7" y2="780.7" stroke-width="0.7"/><line x1="1478.9" y1="766.2" x2="1478.9" y2="784.6" stroke-width="0.5"/><path d="M1460.1,772.9 L1465.1,763.5 L1469.9,768.8 L1474.7,763.5 L1479.7,772.9" stroke-width="0.8"/><path d="M1465.1,763.5 L1469.9,756.9 L1474.7,763.5" stroke-width="0.8"/><path d="M1460.1,777.9 L1465.1,787.3 L1469.9,782 L1474.7,787.3 L1479.7,777.9" stroke-width="0.8"/><path d="M1465.1,787.3 L1469.9,793.9 L1474.7,787.3" stroke-width="0.8"/><line x1="1459" y1="775.4" x2="1480.8" y2="775.4" stroke-width="0.5"/><line x1="1469.9" y1="754.9" x2="1469.9" y2="795.9" stroke-width="0.8"/><circle cx="1469.9" cy="775.4" r="1" fill="#000" stroke="none"/><circle cx="1469.9" cy="792.2" r="0.9" fill="#000" stroke="none"/><circle cx="1469.9" cy="757.8" r="0.9" stroke-width="0.6"/><path d="M1500.4,754.9 C1517.1,763.5 1517.1,787.3 1500.4,795.9 C1483.7,787.3 1483.7,763.5 1500.4,754.9 Z" stroke-width="1.15"/><path d="M1500.4,755.9 C1515.1,764.1 1515.1,786.7 1500.4,794.9 C1485.7,786.7 1485.7,764.1 1500.4,755.9 Z" stroke-width="0.55"/><path d="M1491,775.4 L1495.6,770.1 L1500.1,775.4 L1495.6,780.7 Z" stroke-width="0.8"/><line x1="1495.6" y1="763.5" x2="1495.6" y2="770.1" stroke-width="0.7"/><line x1="1495.6" y1="787.3" x2="1495.6" y2="780.7" stroke-width="0.7"/><line x1="1491.4" y1="766.2" x2="1491.4" y2="784.6" stroke-width="0.5"/><path d="M1509.8,775.4 L1505.2,770.1 L1500.7,775.4 L1505.2,780.7 Z" stroke-width="0.8"/><line x1="1505.2" y1="763.5" x2="1505.2" y2="770.1" stroke-width="0.7"/><line x1="1505.2" y1="787.3" x2="1505.2" y2="780.7" stroke-width="0.7"/><line x1="1509.4" y1="766.2" x2="1509.4" y2="784.6" stroke-width="0.5"/><path d="M1490.6,772.9 L1495.6,763.5 L1500.4,768.8 L1505.2,763.5 L1510.2,772.9" stroke-width="0.8"/><path d="M1495.6,763.5 L1500.4,756.9 L1505.2,763.5" stroke-width="0.8"/><path d="M1490.6,777.9 L1495.6,787.3 L1500.4,782 L1505.2,787.3 L1510.2,777.9" stroke-width="0.8"/><path d="M1495.6,787.3 L1500.4,793.9 L1505.2,787.3" stroke-width="0.8"/><line x1="1489.5" y1="775.4" x2="1511.3" y2="775.4" stroke-width="0.5"/><line x1="1500.4" y1="754.9" x2="1500.4" y2="795.9" stroke-width="0.8"/><circle cx="1500.4" cy="775.4" r="1" fill="#000" stroke="none"/><circle cx="1500.4" cy="792.2" r="0.9" fill="#000" stroke="none"/><circle cx="1500.4" cy="757.8" r="0.9" stroke-width="0.6"/><path d="M1520.4,754.9 C1535.7,763.5 1535.7,787.3 1520.4,795.9 C1505.1,787.3 1505.1,763.5 1520.4,754.9 Z" stroke-width="1.15"/><path d="M1520.4,755.9 C1533.9,764.1 1533.9,786.7 1520.4,794.9 C1506.9,786.7 1506.9,764.1 1520.4,755.9 Z" stroke-width="0.55"/><path d="M1511.7,775.4 L1516,770.1 L1520.1,775.4 L1516,780.7 Z" stroke-width="0.8"/><line x1="1516" y1="763.5" x2="1516" y2="770.1" stroke-width="0.7"/><line x1="1516" y1="787.3" x2="1516" y2="780.7" stroke-width="0.7"/><line x1="1512.1" y1="766.2" x2="1512.1" y2="784.6" stroke-width="0.5"/><path d="M1529.1,775.4 L1524.8,770.1 L1520.7,775.4 L1524.8,780.7 Z" stroke-width="0.8"/><line x1="1524.8" y1="763.5" x2="1524.8" y2="770.1" stroke-width="0.7"/><line x1="1524.8" y1="787.3" x2="1524.8" y2="780.7" stroke-width="0.7"/><line x1="1528.7" y1="766.2" x2="1528.7" y2="784.6" stroke-width="0.5"/><path d="M1511.4,772.9 L1516,763.5 L1520.4,768.8 L1524.8,763.5 L1529.4,772.9" stroke-width="0.8"/><path d="M1516,763.5 L1520.4,756.9 L1524.8,763.5" stroke-width="0.8"/><path d="M1511.4,777.9 L1516,787.3 L1520.4,782 L1524.8,787.3 L1529.4,777.9" stroke-width="0.8"/><path d="M1516,787.3 L1520.4,793.9 L1524.8,787.3" stroke-width="0.8"/><line x1="1510.3" y1="775.4" x2="1530.5" y2="775.4" stroke-width="0.5"/><line x1="1520.4" y1="754.9" x2="1520.4" y2="795.9" stroke-width="0.8"/><circle cx="1520.4" cy="775.4" r="1" fill="#000" stroke="none"/><circle cx="1520.4" cy="792.2" r="0.9" fill="#000" stroke="none"/><circle cx="1520.4" cy="757.8" r="0.9" stroke-width="0.6"/><path d="M1419.4,801.9 C1434.7,810.5 1434.7,834.3 1419.4,842.9 C1404.1,834.3 1404.1,810.5 1419.4,801.9 Z" stroke-width="1.15"/><path d="M1419.4,802.9 C1432.9,811.1 1432.9,833.7 1419.4,841.9 C1405.9,833.7 1405.9,811.1 1419.4,802.9 Z" stroke-width="0.55"/><path d="M1410.7,822.4 L1415,817.1 L1419.1,822.4 L1415,827.7 Z" stroke-width="0.8"/><line x1="1415" y1="810.5" x2="1415" y2="817.1" stroke-width="0.7"/><line x1="1415" y1="834.3" x2="1415" y2="827.7" stroke-width="0.7"/><line x1="1411.1" y1="813.2" x2="1411.1" y2="831.6" stroke-width="0.5"/><path d="M1428.1,822.4 L1423.8,817.1 L1419.7,822.4 L1423.8,827.7 Z" stroke-width="0.8"/><line x1="1423.8" y1="810.5" x2="1423.8" y2="817.1" stroke-width="0.7"/><line x1="1423.8" y1="834.3" x2="1423.8" y2="827.7" stroke-width="0.7"/><line x1="1427.7" y1="813.2" x2="1427.7" y2="831.6" stroke-width="0.5"/><path d="M1410.4,819.9 L1415,810.5 L1419.4,815.8 L1423.8,810.5 L1428.4,819.9" stroke-width="0.8"/><path d="M1415,810.5 L1419.4,803.9 L1423.8,810.5" stroke-width="0.8"/><path d="M1410.4,824.9 L1415,834.3 L1419.4,829 L1423.8,834.3 L1428.4,824.9" stroke-width="0.8"/><path d="M1415,834.3 L1419.4,840.9 L1423.8,834.3" stroke-width="0.8"/><line x1="1409.3" y1="822.4" x2="1429.5" y2="822.4" stroke-width="0.5"/><line x1="1419.4" y1="801.9" x2="1419.4" y2="842.9" stroke-width="0.8"/><circle cx="1419.4" cy="822.4" r="1" fill="#000" stroke="none"/><circle cx="1419.4" cy="839.2" r="0.9" fill="#000" stroke="none"/><circle cx="1419.4" cy="804.8" r="0.9" stroke-width="0.6"/><path d="M1440.6,801.9 C1457.3,810.5 1457.3,834.3 1440.6,842.9 C1423.9,834.3 1423.9,810.5 1440.6,801.9 Z" stroke-width="1.15"/><path d="M1440.6,802.9 C1455.3,811.1 1455.3,833.7 1440.6,841.9 C1425.9,833.7 1425.9,811.1 1440.6,802.9 Z" stroke-width="0.55"/><path d="M1431.2,822.4 L1435.8,817.1 L1440.3,822.4 L1435.8,827.7 Z" stroke-width="0.8"/><line x1="1435.8" y1="810.5" x2="1435.8" y2="817.1" stroke-width="0.7"/><line x1="1435.8" y1="834.3" x2="1435.8" y2="827.7" stroke-width="0.7"/><line x1="1431.6" y1="813.2" x2="1431.6" y2="831.6" stroke-width="0.5"/><path d="M1450,822.4 L1445.4,817.1 L1440.9,822.4 L1445.4,827.7 Z" stroke-width="0.8"/><line x1="1445.4" y1="810.5" x2="1445.4" y2="817.1" stroke-width="0.7"/><line x1="1445.4" y1="834.3" x2="1445.4" y2="827.7" stroke-width="0.7"/><line x1="1449.6" y1="813.2" x2="1449.6" y2="831.6" stroke-width="0.5"/><path d="M1430.8,819.9 L1435.8,810.5 L1440.6,815.8 L1445.4,810.5 L1450.4,819.9" stroke-width="0.8"/><path d="M1435.8,810.5 L1440.6,803.9 L1445.4,810.5" stroke-width="0.8"/><path d="M1430.8,824.9 L1435.8,834.3 L1440.6,829 L1445.4,834.3 L1450.4,824.9" stroke-width="0.8"/><path d="M1435.8,834.3 L1440.6,840.9 L1445.4,834.3" stroke-width="0.8"/><line x1="1429.7" y1="822.4" x2="1451.5" y2="822.4" stroke-width="0.5"/><line x1="1440.6" y1="801.9" x2="1440.6" y2="842.9" stroke-width="0.8"/><circle cx="1440.6" cy="822.4" r="1" fill="#000" stroke="none"/><circle cx="1440.6" cy="839.2" r="0.9" fill="#000" stroke="none"/><circle cx="1440.6" cy="804.8" r="0.9" stroke-width="0.6"/><path d="M1469.9,801.9 C1486.6,810.5 1486.6,834.3 1469.9,842.9 C1453.2,834.3 1453.2,810.5 1469.9,801.9 Z" stroke-width="1.15"/><path d="M1469.9,802.9 C1484.6,811.1 1484.6,833.7 1469.9,841.9 C1455.2,833.7 1455.2,811.1 1469.9,802.9 Z" stroke-width="0.55"/><path d="M1460.5,822.4 L1465.1,817.1 L1469.6,822.4 L1465.1,827.7 Z" stroke-width="0.8"/><line x1="1465.1" y1="810.5" x2="1465.1" y2="817.1" stroke-width="0.7"/><line x1="1465.1" y1="834.3" x2="1465.1" y2="827.7" stroke-width="0.7"/><line x1="1460.9" y1="813.2" x2="1460.9" y2="831.6" stroke-width="0.5"/><path d="M1479.3,822.4 L1474.7,817.1 L1470.2,822.4 L1474.7,827.7 Z" stroke-width="0.8"/><line x1="1474.7" y1="810.5" x2="1474.7" y2="817.1" stroke-width="0.7"/><line x1="1474.7" y1="834.3" x2="1474.7" y2="827.7" stroke-width="0.7"/><line x1="1478.9" y1="813.2" x2="1478.9" y2="831.6" stroke-width="0.5"/><path d="M1460.1,819.9 L1465.1,810.5 L1469.9,815.8 L1474.7,810.5 L1479.7,819.9" stroke-width="0.8"/><path d="M1465.1,810.5 L1469.9,803.9 L1474.7,810.5" stroke-width="0.8"/><path d="M1460.1,824.9 L1465.1,834.3 L1469.9,829 L1474.7,834.3 L1479.7,824.9" stroke-width="0.8"/><path d="M1465.1,834.3 L1469.9,840.9 L1474.7,834.3" stroke-width="0.8"/><line x1="1459" y1="822.4" x2="1480.8" y2="822.4" stroke-width="0.5"/><line x1="1469.9" y1="801.9" x2="1469.9" y2="842.9" stroke-width="0.8"/><circle cx="1469.9" cy="822.4" r="1" fill="#000" stroke="none"/><circle cx="1469.9" cy="839.2" r="0.9" fill="#000" stroke="none"/><circle cx="1469.9" cy="804.8" r="0.9" stroke-width="0.6"/><path d="M1500.4,801.9 C1517.1,810.5 1517.1,834.3 1500.4,842.9 C1483.7,834.3 1483.7,810.5 1500.4,801.9 Z" stroke-width="1.15"/><path d="M1500.4,802.9 C1515.1,811.1 1515.1,833.7 1500.4,841.9 C1485.7,833.7 1485.7,811.1 1500.4,802.9 Z" stroke-width="0.55"/><path d="M1491,822.4 L1495.6,817.1 L1500.1,822.4 L1495.6,827.7 Z" stroke-width="0.8"/><line x1="1495.6" y1="810.5" x2="1495.6" y2="817.1" stroke-width="0.7"/><line x1="1495.6" y1="834.3" x2="1495.6" y2="827.7" stroke-width="0.7"/><line x1="1491.4" y1="813.2" x2="1491.4" y2="831.6" stroke-width="0.5"/><path d="M1509.8,822.4 L1505.2,817.1 L1500.7,822.4 L1505.2,827.7 Z" stroke-width="0.8"/><line x1="1505.2" y1="810.5" x2="1505.2" y2="817.1" stroke-width="0.7"/><line x1="1505.2" y1="834.3" x2="1505.2" y2="827.7" stroke-width="0.7"/><line x1="1509.4" y1="813.2" x2="1509.4" y2="831.6" stroke-width="0.5"/><path d="M1490.6,819.9 L1495.6,810.5 L1500.4,815.8 L1505.2,810.5 L1510.2,819.9" stroke-width="0.8"/><path d="M1495.6,810.5 L1500.4,803.9 L1505.2,810.5" stroke-width="0.8"/><path d="M1490.6,824.9 L1495.6,834.3 L1500.4,829 L1505.2,834.3 L1510.2,824.9" stroke-width="0.8"/><path d="M1495.6,834.3 L1500.4,840.9 L1505.2,834.3" stroke-width="0.8"/><line x1="1489.5" y1="822.4" x2="1511.3" y2="822.4" stroke-width="0.5"/><line x1="1500.4" y1="801.9" x2="1500.4" y2="842.9" stroke-width="0.8"/><circle cx="1500.4" cy="822.4" r="1" fill="#000" stroke="none"/><circle cx="1500.4" cy="839.2" r="0.9" fill="#000" stroke="none"/><circle cx="1500.4" cy="804.8" r="0.9" stroke-width="0.6"/><path d="M1520.4,801.9 C1535.7,810.5 1535.7,834.3 1520.4,842.9 C1505.1,834.3 1505.1,810.5 1520.4,801.9 Z" stroke-width="1.15"/><path d="M1520.4,802.9 C1533.9,811.1 1533.9,833.7 1520.4,841.9 C1506.9,833.7 1506.9,811.1 1520.4,802.9 Z" stroke-width="0.55"/><path d="M1511.7,822.4 L1516,817.1 L1520.1,822.4 L1516,827.7 Z" stroke-width="0.8"/><line x1="1516" y1="810.5" x2="1516" y2="817.1" stroke-width="0.7"/><line x1="1516" y1="834.3" x2="1516" y2="827.7" stroke-width="0.7"/><line x1="1512.1" y1="813.2" x2="1512.1" y2="831.6" stroke-width="0.5"/><path d="M1529.1,822.4 L1524.8,817.1 L1520.7,822.4 L1524.8,827.7 Z" stroke-width="0.8"/><line x1="1524.8" y1="810.5" x2="1524.8" y2="817.1" stroke-width="0.7"/><line x1="1524.8" y1="834.3" x2="1524.8" y2="827.7" stroke-width="0.7"/><line x1="1528.7" y1="813.2" x2="1528.7" y2="831.6" stroke-width="0.5"/><path d="M1511.4,819.9 L1516,810.5 L1520.4,815.8 L1524.8,810.5 L1529.4,819.9" stroke-width="0.8"/><path d="M1516,810.5 L1520.4,803.9 L1524.8,810.5" stroke-width="0.8"/><path d="M1511.4,824.9 L1516,834.3 L1520.4,829 L1524.8,834.3 L1529.4,824.9" stroke-width="0.8"/><path d="M1516,834.3 L1520.4,840.9 L1524.8,834.3" stroke-width="0.8"/><line x1="1510.3" y1="822.4" x2="1530.5" y2="822.4" stroke-width="0.5"/><line x1="1520.4" y1="801.9" x2="1520.4" y2="842.9" stroke-width="0.8"/><circle cx="1520.4" cy="822.4" r="1" fill="#000" stroke="none"/><circle cx="1520.4" cy="839.2" r="0.9" fill="#000" stroke="none"/><circle cx="1520.4" cy="804.8" r="0.9" stroke-width="0.6"/><line x1="1438.9" y1="842.9" x2="1438.9" y2="860.9" stroke-width="0.9"/><circle cx="1438.9" cy="851.9" r="4" stroke-width="1.25" fill="#4e4e4e"/><circle cx="1438.9" cy="849.5" r="0.6" fill="#fff" stroke="none"/><circle cx="1441.2" cy="851.2" r="0.6" fill="#fff" stroke="none"/><circle cx="1440.3" cy="853.8" r="0.6" fill="#fff" stroke="none"/><circle cx="1437.5" cy="853.8" r="0.6" fill="#fff" stroke="none"/><circle cx="1436.6" cy="851.2" r="0.6" fill="#fff" stroke="none"/><circle cx="1438.9" cy="858.9" r="1.6" stroke-width="0.9"/><line x1="1502.9" y1="842.9" x2="1502.9" y2="860.9" stroke-width="0.9"/><circle cx="1502.9" cy="851.9" r="4" stroke-width="1.25" fill="#4e4e4e"/><circle cx="1502.9" cy="849.5" r="0.6" fill="#fff" stroke="none"/><circle cx="1505.2" cy="851.2" r="0.6" fill="#fff" stroke="none"/><circle cx="1504.3" cy="853.8" r="0.6" fill="#fff" stroke="none"/><circle cx="1501.5" cy="853.8" r="0.6" fill="#fff" stroke="none"/><circle cx="1500.6" cy="851.2" r="0.6" fill="#fff" stroke="none"/><circle cx="1502.9" cy="858.9" r="1.6" stroke-width="0.9"/><circle cx="1426.6" cy="708.4" r="6.4" stroke-width="1.25" fill="#4e4e4e"/><circle cx="1426.6" cy="704.6" r="1" fill="#fff" stroke="none"/><circle cx="1429.6" cy="706" r="1" fill="#fff" stroke="none"/><circle cx="1430.3" cy="709.3" r="1" fill="#fff" stroke="none"/><circle cx="1428.3" cy="711.9" r="1" fill="#fff" stroke="none"/><circle cx="1424.9" cy="711.9" r="1" fill="#fff" stroke="none"/><circle cx="1422.9" cy="709.3" r="1" fill="#fff" stroke="none"/><circle cx="1423.6" cy="706" r="1" fill="#fff" stroke="none"/><circle cx="1426.6" cy="718.9" r="4.1" stroke-width="1.25" fill="#4e4e4e"/><circle cx="1426.6" cy="716.4" r="0.7" fill="#fff" stroke="none"/><circle cx="1428.9" cy="718.1" r="0.7" fill="#fff" stroke="none"/><circle cx="1428" cy="720.9" r="0.7" fill="#fff" stroke="none"/><circle cx="1425.2" cy="720.9" r="0.7" fill="#fff" stroke="none"/><circle cx="1424.3" cy="718.1" r="0.7" fill="#fff" stroke="none"/><circle cx="1426.6" cy="727.6" r="4.1" stroke-width="1.25" fill="#4e4e4e"/><circle cx="1426.6" cy="725.1" r="0.7" fill="#fff" stroke="none"/><circle cx="1428.9" cy="726.8" r="0.7" fill="#fff" stroke="none"/><circle cx="1428" cy="729.6" r="0.7" fill="#fff" stroke="none"/><circle cx="1425.2" cy="729.6" r="0.7" fill="#fff" stroke="none"/><circle cx="1424.3" cy="726.8" r="0.7" fill="#fff" stroke="none"/><circle cx="1426.6" cy="736.2" r="4.1" stroke-width="1.25" fill="#4e4e4e"/><circle cx="1426.6" cy="733.8" r="0.7" fill="#fff" stroke="none"/><circle cx="1428.9" cy="735.5" r="0.7" fill="#fff" stroke="none"/><circle cx="1428" cy="738.2" r="0.7" fill="#fff" stroke="none"/><circle cx="1425.2" cy="738.2" r="0.7" fill="#fff" stroke="none"/><circle cx="1424.3" cy="735.5" r="0.7" fill="#fff" stroke="none"/><circle cx="1426.6" cy="744.9" r="4.1" stroke-width="1.25" fill="#4e4e4e"/><circle cx="1426.6" cy="742.4" r="0.7" fill="#fff" stroke="none"/><circle cx="1428.9" cy="744.1" r="0.7" fill="#fff" stroke="none"/><circle cx="1428" cy="746.9" r="0.7" fill="#fff" stroke="none"/><circle cx="1425.2" cy="746.9" r="0.7" fill="#fff" stroke="none"/><circle cx="1424.3" cy="744.1" r="0.7" fill="#fff" stroke="none"/><circle cx="1426.6" cy="755.4" r="6.4" stroke-width="1.25" fill="#4e4e4e"/><circle cx="1426.6" cy="751.6" r="1" fill="#fff" stroke="none"/><circle cx="1429.6" cy="753" r="1" fill="#fff" stroke="none"/><circle cx="1430.3" cy="756.3" r="1" fill="#fff" stroke="none"/><circle cx="1428.3" cy="758.9" r="1" fill="#fff" stroke="none"/><circle cx="1424.9" cy="758.9" r="1" fill="#fff" stroke="none"/><circle cx="1422.9" cy="756.3" r="1" fill="#fff" stroke="none"/><circle cx="1423.6" cy="753" r="1" fill="#fff" stroke="none"/><circle cx="1426.6" cy="765.9" r="4.1" stroke-width="1.25" fill="#4e4e4e"/><circle cx="1426.6" cy="763.4" r="0.7" fill="#fff" stroke="none"/><circle cx="1428.9" cy="765.1" r="0.7" fill="#fff" stroke="none"/><circle cx="1428" cy="767.9" r="0.7" fill="#fff" stroke="none"/><circle cx="1425.2" cy="767.9" r="0.7" fill="#fff" stroke="none"/><circle cx="1424.3" cy="765.1" r="0.7" fill="#fff" stroke="none"/><circle cx="1426.6" cy="774.6" r="4.1" stroke-width="1.25" fill="#4e4e4e"/><circle cx="1426.6" cy="772.1" r="0.7" fill="#fff" stroke="none"/><circle cx="1428.9" cy="773.8" r="0.7" fill="#fff" stroke="none"/><circle cx="1428" cy="776.6" r="0.7" fill="#fff" stroke="none"/><circle cx="1425.2" cy="776.6" r="0.7" fill="#fff" stroke="none"/><circle cx="1424.3" cy="773.8" r="0.7" fill="#fff" stroke="none"/><circle cx="1426.6" cy="783.2" r="4.1" stroke-width="1.25" fill="#4e4e4e"/><circle cx="1426.6" cy="780.8" r="0.7" fill="#fff" stroke="none"/><circle cx="1428.9" cy="782.5" r="0.7" fill="#fff" stroke="none"/><circle cx="1428" cy="785.2" r="0.7" fill="#fff" stroke="none"/><circle cx="1425.2" cy="785.2" r="0.7" fill="#fff" stroke="none"/><circle cx="1424.3" cy="782.5" r="0.7" fill="#fff" stroke="none"/><circle cx="1426.6" cy="791.9" r="4.1" stroke-width="1.25" fill="#4e4e4e"/><circle cx="1426.6" cy="789.4" r="0.7" fill="#fff" stroke="none"/><circle cx="1428.9" cy="791.1" r="0.7" fill="#fff" stroke="none"/><circle cx="1428" cy="793.9" r="0.7" fill="#fff" stroke="none"/><circle cx="1425.2" cy="793.9" r="0.7" fill="#fff" stroke="none"/><circle cx="1424.3" cy="791.1" r="0.7" fill="#fff" stroke="none"/><circle cx="1426.6" cy="802.4" r="6.4" stroke-width="1.25" fill="#4e4e4e"/><circle cx="1426.6" cy="798.6" r="1" fill="#fff" stroke="none"/><circle cx="1429.6" cy="800" r="1" fill="#fff" stroke="none"/><circle cx="1430.3" cy="803.3" r="1" fill="#fff" stroke="none"/><circle cx="1428.3" cy="805.9" r="1" fill="#fff" stroke="none"/><circle cx="1424.9" cy="805.9" r="1" fill="#fff" stroke="none"/><circle cx="1422.9" cy="803.3" r="1" fill="#fff" stroke="none"/><circle cx="1423.6" cy="800" r="1" fill="#fff" stroke="none"/><circle cx="1426.6" cy="812.9" r="4.1" stroke-width="1.25" fill="#4e4e4e"/><circle cx="1426.6" cy="810.4" r="0.7" fill="#fff" stroke="none"/><circle cx="1428.9" cy="812.1" r="0.7" fill="#fff" stroke="none"/><circle cx="1428" cy="814.9" r="0.7" fill="#fff" stroke="none"/><circle cx="1425.2" cy="814.9" r="0.7" fill="#fff" stroke="none"/><circle cx="1424.3" cy="812.1" r="0.7" fill="#fff" stroke="none"/><circle cx="1426.6" cy="821.6" r="4.1" stroke-width="1.25" fill="#4e4e4e"/><circle cx="1426.6" cy="819.1" r="0.7" fill="#fff" stroke="none"/><circle cx="1428.9" cy="820.8" r="0.7" fill="#fff" stroke="none"/><circle cx="1428" cy="823.6" r="0.7" fill="#fff" stroke="none"/><circle cx="1425.2" cy="823.6" r="0.7" fill="#fff" stroke="none"/><circle cx="1424.3" cy="820.8" r="0.7" fill="#fff" stroke="none"/><circle cx="1426.6" cy="830.2" r="4.1" stroke-width="1.25" fill="#4e4e4e"/><circle cx="1426.6" cy="827.8" r="0.7" fill="#fff" stroke="none"/><circle cx="1428.9" cy="829.5" r="0.7" fill="#fff" stroke="none"/><circle cx="1428" cy="832.2" r="0.7" fill="#fff" stroke="none"/><circle cx="1425.2" cy="832.2" r="0.7" fill="#fff" stroke="none"/><circle cx="1424.3" cy="829.5" r="0.7" fill="#fff" stroke="none"/><circle cx="1426.6" cy="838.9" r="4.1" stroke-width="1.25" fill="#4e4e4e"/><circle cx="1426.6" cy="836.4" r="0.7" fill="#fff" stroke="none"/><circle cx="1428.9" cy="838.1" r="0.7" fill="#fff" stroke="none"/><circle cx="1428" cy="840.9" r="0.7" fill="#fff" stroke="none"/><circle cx="1425.2" cy="840.9" r="0.7" fill="#fff" stroke="none"/><circle cx="1424.3" cy="838.1" r="0.7" fill="#fff" stroke="none"/><circle cx="1426.6" cy="849.4" r="6.4" stroke-width="1.25" fill="#4e4e4e"/><circle cx="1426.6" cy="845.6" r="1" fill="#fff" stroke="none"/><circle cx="1429.6" cy="847" r="1" fill="#fff" stroke="none"/><circle cx="1430.3" cy="850.3" r="1" fill="#fff" stroke="none"/><circle cx="1428.3" cy="852.9" r="1" fill="#fff" stroke="none"/><circle cx="1424.9" cy="852.9" r="1" fill="#fff" stroke="none"/><circle cx="1422.9" cy="850.3" r="1" fill="#fff" stroke="none"/><circle cx="1423.6" cy="847" r="1" fill="#fff" stroke="none"/><circle cx="1426.6" cy="859.4" r="4.1" stroke-width="1.25" fill="#4e4e4e"/><circle cx="1426.6" cy="856.9" r="0.7" fill="#fff" stroke="none"/><circle cx="1428.9" cy="858.6" r="0.7" fill="#fff" stroke="none"/><circle cx="1428" cy="861.4" r="0.7" fill="#fff" stroke="none"/><circle cx="1425.2" cy="861.4" r="0.7" fill="#fff" stroke="none"/><circle cx="1424.3" cy="858.6" r="0.7" fill="#fff" stroke="none"/><circle cx="1451.9" cy="708.4" r="6.4" stroke-width="1.25" fill="#4e4e4e"/><circle cx="1451.9" cy="704.6" r="1" fill="#fff" stroke="none"/><circle cx="1454.9" cy="706" r="1" fill="#fff" stroke="none"/><circle cx="1455.6" cy="709.3" r="1" fill="#fff" stroke="none"/><circle cx="1453.6" cy="711.9" r="1" fill="#fff" stroke="none"/><circle cx="1450.2" cy="711.9" r="1" fill="#fff" stroke="none"/><circle cx="1448.2" cy="709.3" r="1" fill="#fff" stroke="none"/><circle cx="1448.9" cy="706" r="1" fill="#fff" stroke="none"/><circle cx="1451.9" cy="718.9" r="4.1" stroke-width="1.25" fill="#4e4e4e"/><circle cx="1451.9" cy="716.4" r="0.7" fill="#fff" stroke="none"/><circle cx="1454.2" cy="718.1" r="0.7" fill="#fff" stroke="none"/><circle cx="1453.3" cy="720.9" r="0.7" fill="#fff" stroke="none"/><circle cx="1450.5" cy="720.9" r="0.7" fill="#fff" stroke="none"/><circle cx="1449.6" cy="718.1" r="0.7" fill="#fff" stroke="none"/><circle cx="1451.9" cy="727.6" r="4.1" stroke-width="1.25" fill="#4e4e4e"/><circle cx="1451.9" cy="725.1" r="0.7" fill="#fff" stroke="none"/><circle cx="1454.2" cy="726.8" r="0.7" fill="#fff" stroke="none"/><circle cx="1453.3" cy="729.6" r="0.7" fill="#fff" stroke="none"/><circle cx="1450.5" cy="729.6" r="0.7" fill="#fff" stroke="none"/><circle cx="1449.6" cy="726.8" r="0.7" fill="#fff" stroke="none"/><circle cx="1451.9" cy="736.2" r="4.1" stroke-width="1.25" fill="#4e4e4e"/><circle cx="1451.9" cy="733.8" r="0.7" fill="#fff" stroke="none"/><circle cx="1454.2" cy="735.5" r="0.7" fill="#fff" stroke="none"/><circle cx="1453.3" cy="738.2" r="0.7" fill="#fff" stroke="none"/><circle cx="1450.5" cy="738.2" r="0.7" fill="#fff" stroke="none"/><circle cx="1449.6" cy="735.5" r="0.7" fill="#fff" stroke="none"/><circle cx="1451.9" cy="744.9" r="4.1" stroke-width="1.25" fill="#4e4e4e"/><circle cx="1451.9" cy="742.4" r="0.7" fill="#fff" stroke="none"/><circle cx="1454.2" cy="744.1" r="0.7" fill="#fff" stroke="none"/><circle cx="1453.3" cy="746.9" r="0.7" fill="#fff" stroke="none"/><circle cx="1450.5" cy="746.9" r="0.7" fill="#fff" stroke="none"/><circle cx="1449.6" cy="744.1" r="0.7" fill="#fff" stroke="none"/><circle cx="1451.9" cy="755.4" r="6.4" stroke-width="1.25" fill="#4e4e4e"/><circle cx="1451.9" cy="751.6" r="1" fill="#fff" stroke="none"/><circle cx="1454.9" cy="753" r="1" fill="#fff" stroke="none"/><circle cx="1455.6" cy="756.3" r="1" fill="#fff" stroke="none"/><circle cx="1453.6" cy="758.9" r="1" fill="#fff" stroke="none"/><circle cx="1450.2" cy="758.9" r="1" fill="#fff" stroke="none"/><circle cx="1448.2" cy="756.3" r="1" fill="#fff" stroke="none"/><circle cx="1448.9" cy="753" r="1" fill="#fff" stroke="none"/><circle cx="1451.9" cy="765.9" r="4.1" stroke-width="1.25" fill="#4e4e4e"/><circle cx="1451.9" cy="763.4" r="0.7" fill="#fff" stroke="none"/><circle cx="1454.2" cy="765.1" r="0.7" fill="#fff" stroke="none"/><circle cx="1453.3" cy="767.9" r="0.7" fill="#fff" stroke="none"/><circle cx="1450.5" cy="767.9" r="0.7" fill="#fff" stroke="none"/><circle cx="1449.6" cy="765.1" r="0.7" fill="#fff" stroke="none"/><circle cx="1451.9" cy="774.6" r="4.1" stroke-width="1.25" fill="#4e4e4e"/><circle cx="1451.9" cy="772.1" r="0.7" fill="#fff" stroke="none"/><circle cx="1454.2" cy="773.8" r="0.7" fill="#fff" stroke="none"/><circle cx="1453.3" cy="776.6" r="0.7" fill="#fff" stroke="none"/><circle cx="1450.5" cy="776.6" r="0.7" fill="#fff" stroke="none"/><circle cx="1449.6" cy="773.8" r="0.7" fill="#fff" stroke="none"/><circle cx="1451.9" cy="783.2" r="4.1" stroke-width="1.25" fill="#4e4e4e"/><circle cx="1451.9" cy="780.8" r="0.7" fill="#fff" stroke="none"/><circle cx="1454.2" cy="782.5" r="0.7" fill="#fff" stroke="none"/><circle cx="1453.3" cy="785.2" r="0.7" fill="#fff" stroke="none"/><circle cx="1450.5" cy="785.2" r="0.7" fill="#fff" stroke="none"/><circle cx="1449.6" cy="782.5" r="0.7" fill="#fff" stroke="none"/><circle cx="1451.9" cy="791.9" r="4.1" stroke-width="1.25" fill="#4e4e4e"/><circle cx="1451.9" cy="789.4" r="0.7" fill="#fff" stroke="none"/><circle cx="1454.2" cy="791.1" r="0.7" fill="#fff" stroke="none"/><circle cx="1453.3" cy="793.9" r="0.7" fill="#fff" stroke="none"/><circle cx="1450.5" cy="793.9" r="0.7" fill="#fff" stroke="none"/><circle cx="1449.6" cy="791.1" r="0.7" fill="#fff" stroke="none"/><circle cx="1451.9" cy="802.4" r="6.4" stroke-width="1.25" fill="#4e4e4e"/><circle cx="1451.9" cy="798.6" r="1" fill="#fff" stroke="none"/><circle cx="1454.9" cy="800" r="1" fill="#fff" stroke="none"/><circle cx="1455.6" cy="803.3" r="1" fill="#fff" stroke="none"/><circle cx="1453.6" cy="805.9" r="1" fill="#fff" stroke="none"/><circle cx="1450.2" cy="805.9" r="1" fill="#fff" stroke="none"/><circle cx="1448.2" cy="803.3" r="1" fill="#fff" stroke="none"/><circle cx="1448.9" cy="800" r="1" fill="#fff" stroke="none"/><circle cx="1451.9" cy="812.9" r="4.1" stroke-width="1.25" fill="#4e4e4e"/><circle cx="1451.9" cy="810.4" r="0.7" fill="#fff" stroke="none"/><circle cx="1454.2" cy="812.1" r="0.7" fill="#fff" stroke="none"/><circle cx="1453.3" cy="814.9" r="0.7" fill="#fff" stroke="none"/><circle cx="1450.5" cy="814.9" r="0.7" fill="#fff" stroke="none"/><circle cx="1449.6" cy="812.1" r="0.7" fill="#fff" stroke="none"/><circle cx="1451.9" cy="821.6" r="4.1" stroke-width="1.25" fill="#4e4e4e"/><circle cx="1451.9" cy="819.1" r="0.7" fill="#fff" stroke="none"/><circle cx="1454.2" cy="820.8" r="0.7" fill="#fff" stroke="none"/><circle cx="1453.3" cy="823.6" r="0.7" fill="#fff" stroke="none"/><circle cx="1450.5" cy="823.6" r="0.7" fill="#fff" stroke="none"/><circle cx="1449.6" cy="820.8" r="0.7" fill="#fff" stroke="none"/><circle cx="1451.9" cy="830.2" r="4.1" stroke-width="1.25" fill="#4e4e4e"/><circle cx="1451.9" cy="827.8" r="0.7" fill="#fff" stroke="none"/><circle cx="1454.2" cy="829.5" r="0.7" fill="#fff" stroke="none"/><circle cx="1453.3" cy="832.2" r="0.7" fill="#fff" stroke="none"/><circle cx="1450.5" cy="832.2" r="0.7" fill="#fff" stroke="none"/><circle cx="1449.6" cy="829.5" r="0.7" fill="#fff" stroke="none"/><circle cx="1451.9" cy="838.9" r="4.1" stroke-width="1.25" fill="#4e4e4e"/><circle cx="1451.9" cy="836.4" r="0.7" fill="#fff" stroke="none"/><circle cx="1454.2" cy="838.1" r="0.7" fill="#fff" stroke="none"/><circle cx="1453.3" cy="840.9" r="0.7" fill="#fff" stroke="none"/><circle cx="1450.5" cy="840.9" r="0.7" fill="#fff" stroke="none"/><circle cx="1449.6" cy="838.1" r="0.7" fill="#fff" stroke="none"/><circle cx="1451.9" cy="849.4" r="6.4" stroke-width="1.25" fill="#4e4e4e"/><circle cx="1451.9" cy="845.6" r="1" fill="#fff" stroke="none"/><circle cx="1454.9" cy="847" r="1" fill="#fff" stroke="none"/><circle cx="1455.6" cy="850.3" r="1" fill="#fff" stroke="none"/><circle cx="1453.6" cy="852.9" r="1" fill="#fff" stroke="none"/><circle cx="1450.2" cy="852.9" r="1" fill="#fff" stroke="none"/><circle cx="1448.2" cy="850.3" r="1" fill="#fff" stroke="none"/><circle cx="1448.9" cy="847" r="1" fill="#fff" stroke="none"/><circle cx="1451.9" cy="859.4" r="4.1" stroke-width="1.25" fill="#4e4e4e"/><circle cx="1451.9" cy="856.9" r="0.7" fill="#fff" stroke="none"/><circle cx="1454.2" cy="858.6" r="0.7" fill="#fff" stroke="none"/><circle cx="1453.3" cy="861.4" r="0.7" fill="#fff" stroke="none"/><circle cx="1450.5" cy="861.4" r="0.7" fill="#fff" stroke="none"/><circle cx="1449.6" cy="858.6" r="0.7" fill="#fff" stroke="none"/><circle cx="1487.2" cy="708.4" r="6.4" stroke-width="1.25" fill="#4e4e4e"/><circle cx="1487.2" cy="704.6" r="1" fill="#fff" stroke="none"/><circle cx="1490.2" cy="706" r="1" fill="#fff" stroke="none"/><circle cx="1490.9" cy="709.3" r="1" fill="#fff" stroke="none"/><circle cx="1488.9" cy="711.9" r="1" fill="#fff" stroke="none"/><circle cx="1485.5" cy="711.9" r="1" fill="#fff" stroke="none"/><circle cx="1483.5" cy="709.3" r="1" fill="#fff" stroke="none"/><circle cx="1484.2" cy="706" r="1" fill="#fff" stroke="none"/><circle cx="1487.2" cy="718.9" r="4.1" stroke-width="1.25" fill="#4e4e4e"/><circle cx="1487.2" cy="716.4" r="0.7" fill="#fff" stroke="none"/><circle cx="1489.5" cy="718.1" r="0.7" fill="#fff" stroke="none"/><circle cx="1488.6" cy="720.9" r="0.7" fill="#fff" stroke="none"/><circle cx="1485.8" cy="720.9" r="0.7" fill="#fff" stroke="none"/><circle cx="1484.9" cy="718.1" r="0.7" fill="#fff" stroke="none"/><circle cx="1487.2" cy="727.6" r="4.1" stroke-width="1.25" fill="#4e4e4e"/><circle cx="1487.2" cy="725.1" r="0.7" fill="#fff" stroke="none"/><circle cx="1489.5" cy="726.8" r="0.7" fill="#fff" stroke="none"/><circle cx="1488.6" cy="729.6" r="0.7" fill="#fff" stroke="none"/><circle cx="1485.8" cy="729.6" r="0.7" fill="#fff" stroke="none"/><circle cx="1484.9" cy="726.8" r="0.7" fill="#fff" stroke="none"/><circle cx="1487.2" cy="736.2" r="4.1" stroke-width="1.25" fill="#4e4e4e"/><circle cx="1487.2" cy="733.8" r="0.7" fill="#fff" stroke="none"/><circle cx="1489.5" cy="735.5" r="0.7" fill="#fff" stroke="none"/><circle cx="1488.6" cy="738.2" r="0.7" fill="#fff" stroke="none"/><circle cx="1485.8" cy="738.2" r="0.7" fill="#fff" stroke="none"/><circle cx="1484.9" cy="735.5" r="0.7" fill="#fff" stroke="none"/><circle cx="1487.2" cy="744.9" r="4.1" stroke-width="1.25" fill="#4e4e4e"/><circle cx="1487.2" cy="742.4" r="0.7" fill="#fff" stroke="none"/><circle cx="1489.5" cy="744.1" r="0.7" fill="#fff" stroke="none"/><circle cx="1488.6" cy="746.9" r="0.7" fill="#fff" stroke="none"/><circle cx="1485.8" cy="746.9" r="0.7" fill="#fff" stroke="none"/><circle cx="1484.9" cy="744.1" r="0.7" fill="#fff" stroke="none"/><circle cx="1487.2" cy="755.4" r="6.4" stroke-width="1.25" fill="#4e4e4e"/><circle cx="1487.2" cy="751.6" r="1" fill="#fff" stroke="none"/><circle cx="1490.2" cy="753" r="1" fill="#fff" stroke="none"/><circle cx="1490.9" cy="756.3" r="1" fill="#fff" stroke="none"/><circle cx="1488.9" cy="758.9" r="1" fill="#fff" stroke="none"/><circle cx="1485.5" cy="758.9" r="1" fill="#fff" stroke="none"/><circle cx="1483.5" cy="756.3" r="1" fill="#fff" stroke="none"/><circle cx="1484.2" cy="753" r="1" fill="#fff" stroke="none"/><circle cx="1487.2" cy="765.9" r="4.1" stroke-width="1.25" fill="#4e4e4e"/><circle cx="1487.2" cy="763.4" r="0.7" fill="#fff" stroke="none"/><circle cx="1489.5" cy="765.1" r="0.7" fill="#fff" stroke="none"/><circle cx="1488.6" cy="767.9" r="0.7" fill="#fff" stroke="none"/><circle cx="1485.8" cy="767.9" r="0.7" fill="#fff" stroke="none"/><circle cx="1484.9" cy="765.1" r="0.7" fill="#fff" stroke="none"/><circle cx="1487.2" cy="774.6" r="4.1" stroke-width="1.25" fill="#4e4e4e"/><circle cx="1487.2" cy="772.1" r="0.7" fill="#fff" stroke="none"/><circle cx="1489.5" cy="773.8" r="0.7" fill="#fff" stroke="none"/><circle cx="1488.6" cy="776.6" r="0.7" fill="#fff" stroke="none"/><circle cx="1485.8" cy="776.6" r="0.7" fill="#fff" stroke="none"/><circle cx="1484.9" cy="773.8" r="0.7" fill="#fff" stroke="none"/><circle cx="1487.2" cy="783.2" r="4.1" stroke-width="1.25" fill="#4e4e4e"/><circle cx="1487.2" cy="780.8" r="0.7" fill="#fff" stroke="none"/><circle cx="1489.5" cy="782.5" r="0.7" fill="#fff" stroke="none"/><circle cx="1488.6" cy="785.2" r="0.7" fill="#fff" stroke="none"/><circle cx="1485.8" cy="785.2" r="0.7" fill="#fff" stroke="none"/><circle cx="1484.9" cy="782.5" r="0.7" fill="#fff" stroke="none"/><circle cx="1487.2" cy="791.9" r="4.1" stroke-width="1.25" fill="#4e4e4e"/><circle cx="1487.2" cy="789.4" r="0.7" fill="#fff" stroke="none"/><circle cx="1489.5" cy="791.1" r="0.7" fill="#fff" stroke="none"/><circle cx="1488.6" cy="793.9" r="0.7" fill="#fff" stroke="none"/><circle cx="1485.8" cy="793.9" r="0.7" fill="#fff" stroke="none"/><circle cx="1484.9" cy="791.1" r="0.7" fill="#fff" stroke="none"/><circle cx="1487.2" cy="802.4" r="6.4" stroke-width="1.25" fill="#4e4e4e"/><circle cx="1487.2" cy="798.6" r="1" fill="#fff" stroke="none"/><circle cx="1490.2" cy="800" r="1" fill="#fff" stroke="none"/><circle cx="1490.9" cy="803.3" r="1" fill="#fff" stroke="none"/><circle cx="1488.9" cy="805.9" r="1" fill="#fff" stroke="none"/><circle cx="1485.5" cy="805.9" r="1" fill="#fff" stroke="none"/><circle cx="1483.5" cy="803.3" r="1" fill="#fff" stroke="none"/><circle cx="1484.2" cy="800" r="1" fill="#fff" stroke="none"/><circle cx="1487.2" cy="812.9" r="4.1" stroke-width="1.25" fill="#4e4e4e"/><circle cx="1487.2" cy="810.4" r="0.7" fill="#fff" stroke="none"/><circle cx="1489.5" cy="812.1" r="0.7" fill="#fff" stroke="none"/><circle cx="1488.6" cy="814.9" r="0.7" fill="#fff" stroke="none"/><circle cx="1485.8" cy="814.9" r="0.7" fill="#fff" stroke="none"/><circle cx="1484.9" cy="812.1" r="0.7" fill="#fff" stroke="none"/><circle cx="1487.2" cy="821.6" r="4.1" stroke-width="1.25" fill="#4e4e4e"/><circle cx="1487.2" cy="819.1" r="0.7" fill="#fff" stroke="none"/><circle cx="1489.5" cy="820.8" r="0.7" fill="#fff" stroke="none"/><circle cx="1488.6" cy="823.6" r="0.7" fill="#fff" stroke="none"/><circle cx="1485.8" cy="823.6" r="0.7" fill="#fff" stroke="none"/><circle cx="1484.9" cy="820.8" r="0.7" fill="#fff" stroke="none"/><circle cx="1487.2" cy="830.2" r="4.1" stroke-width="1.25" fill="#4e4e4e"/><circle cx="1487.2" cy="827.8" r="0.7" fill="#fff" stroke="none"/><circle cx="1489.5" cy="829.5" r="0.7" fill="#fff" stroke="none"/><circle cx="1488.6" cy="832.2" r="0.7" fill="#fff" stroke="none"/><circle cx="1485.8" cy="832.2" r="0.7" fill="#fff" stroke="none"/><circle cx="1484.9" cy="829.5" r="0.7" fill="#fff" stroke="none"/><circle cx="1487.2" cy="838.9" r="4.1" stroke-width="1.25" fill="#4e4e4e"/><circle cx="1487.2" cy="836.4" r="0.7" fill="#fff" stroke="none"/><circle cx="1489.5" cy="838.1" r="0.7" fill="#fff" stroke="none"/><circle cx="1488.6" cy="840.9" r="0.7" fill="#fff" stroke="none"/><circle cx="1485.8" cy="840.9" r="0.7" fill="#fff" stroke="none"/><circle cx="1484.9" cy="838.1" r="0.7" fill="#fff" stroke="none"/><circle cx="1487.2" cy="849.4" r="6.4" stroke-width="1.25" fill="#4e4e4e"/><circle cx="1487.2" cy="845.6" r="1" fill="#fff" stroke="none"/><circle cx="1490.2" cy="847" r="1" fill="#fff" stroke="none"/><circle cx="1490.9" cy="850.3" r="1" fill="#fff" stroke="none"/><circle cx="1488.9" cy="852.9" r="1" fill="#fff" stroke="none"/><circle cx="1485.5" cy="852.9" r="1" fill="#fff" stroke="none"/><circle cx="1483.5" cy="850.3" r="1" fill="#fff" stroke="none"/><circle cx="1484.2" cy="847" r="1" fill="#fff" stroke="none"/><circle cx="1487.2" cy="859.4" r="4.1" stroke-width="1.25" fill="#4e4e4e"/><circle cx="1487.2" cy="856.9" r="0.7" fill="#fff" stroke="none"/><circle cx="1489.5" cy="858.6" r="0.7" fill="#fff" stroke="none"/><circle cx="1488.6" cy="861.4" r="0.7" fill="#fff" stroke="none"/><circle cx="1485.8" cy="861.4" r="0.7" fill="#fff" stroke="none"/><circle cx="1484.9" cy="858.6" r="0.7" fill="#fff" stroke="none"/><circle cx="1513.2" cy="708.4" r="6.4" stroke-width="1.25" fill="#4e4e4e"/><circle cx="1513.2" cy="704.6" r="1" fill="#fff" stroke="none"/><circle cx="1516.2" cy="706" r="1" fill="#fff" stroke="none"/><circle cx="1516.9" cy="709.3" r="1" fill="#fff" stroke="none"/><circle cx="1514.9" cy="711.9" r="1" fill="#fff" stroke="none"/><circle cx="1511.5" cy="711.9" r="1" fill="#fff" stroke="none"/><circle cx="1509.5" cy="709.3" r="1" fill="#fff" stroke="none"/><circle cx="1510.2" cy="706" r="1" fill="#fff" stroke="none"/><circle cx="1513.2" cy="718.9" r="4.1" stroke-width="1.25" fill="#4e4e4e"/><circle cx="1513.2" cy="716.4" r="0.7" fill="#fff" stroke="none"/><circle cx="1515.5" cy="718.1" r="0.7" fill="#fff" stroke="none"/><circle cx="1514.6" cy="720.9" r="0.7" fill="#fff" stroke="none"/><circle cx="1511.8" cy="720.9" r="0.7" fill="#fff" stroke="none"/><circle cx="1510.9" cy="718.1" r="0.7" fill="#fff" stroke="none"/><circle cx="1513.2" cy="727.6" r="4.1" stroke-width="1.25" fill="#4e4e4e"/><circle cx="1513.2" cy="725.1" r="0.7" fill="#fff" stroke="none"/><circle cx="1515.5" cy="726.8" r="0.7" fill="#fff" stroke="none"/><circle cx="1514.6" cy="729.6" r="0.7" fill="#fff" stroke="none"/><circle cx="1511.8" cy="729.6" r="0.7" fill="#fff" stroke="none"/><circle cx="1510.9" cy="726.8" r="0.7" fill="#fff" stroke="none"/><circle cx="1513.2" cy="736.2" r="4.1" stroke-width="1.25" fill="#4e4e4e"/><circle cx="1513.2" cy="733.8" r="0.7" fill="#fff" stroke="none"/><circle cx="1515.5" cy="735.5" r="0.7" fill="#fff" stroke="none"/><circle cx="1514.6" cy="738.2" r="0.7" fill="#fff" stroke="none"/><circle cx="1511.8" cy="738.2" r="0.7" fill="#fff" stroke="none"/><circle cx="1510.9" cy="735.5" r="0.7" fill="#fff" stroke="none"/><circle cx="1513.2" cy="744.9" r="4.1" stroke-width="1.25" fill="#4e4e4e"/><circle cx="1513.2" cy="742.4" r="0.7" fill="#fff" stroke="none"/><circle cx="1515.5" cy="744.1" r="0.7" fill="#fff" stroke="none"/><circle cx="1514.6" cy="746.9" r="0.7" fill="#fff" stroke="none"/><circle cx="1511.8" cy="746.9" r="0.7" fill="#fff" stroke="none"/><circle cx="1510.9" cy="744.1" r="0.7" fill="#fff" stroke="none"/><circle cx="1513.2" cy="755.4" r="6.4" stroke-width="1.25" fill="#4e4e4e"/><circle cx="1513.2" cy="751.6" r="1" fill="#fff" stroke="none"/><circle cx="1516.2" cy="753" r="1" fill="#fff" stroke="none"/><circle cx="1516.9" cy="756.3" r="1" fill="#fff" stroke="none"/><circle cx="1514.9" cy="758.9" r="1" fill="#fff" stroke="none"/><circle cx="1511.5" cy="758.9" r="1" fill="#fff" stroke="none"/><circle cx="1509.5" cy="756.3" r="1" fill="#fff" stroke="none"/><circle cx="1510.2" cy="753" r="1" fill="#fff" stroke="none"/><circle cx="1513.2" cy="765.9" r="4.1" stroke-width="1.25" fill="#4e4e4e"/><circle cx="1513.2" cy="763.4" r="0.7" fill="#fff" stroke="none"/><circle cx="1515.5" cy="765.1" r="0.7" fill="#fff" stroke="none"/><circle cx="1514.6" cy="767.9" r="0.7" fill="#fff" stroke="none"/><circle cx="1511.8" cy="767.9" r="0.7" fill="#fff" stroke="none"/><circle cx="1510.9" cy="765.1" r="0.7" fill="#fff" stroke="none"/><circle cx="1513.2" cy="774.6" r="4.1" stroke-width="1.25" fill="#4e4e4e"/><circle cx="1513.2" cy="772.1" r="0.7" fill="#fff" stroke="none"/><circle cx="1515.5" cy="773.8" r="0.7" fill="#fff" stroke="none"/><circle cx="1514.6" cy="776.6" r="0.7" fill="#fff" stroke="none"/><circle cx="1511.8" cy="776.6" r="0.7" fill="#fff" stroke="none"/><circle cx="1510.9" cy="773.8" r="0.7" fill="#fff" stroke="none"/><circle cx="1513.2" cy="783.2" r="4.1" stroke-width="1.25" fill="#4e4e4e"/><circle cx="1513.2" cy="780.8" r="0.7" fill="#fff" stroke="none"/><circle cx="1515.5" cy="782.5" r="0.7" fill="#fff" stroke="none"/><circle cx="1514.6" cy="785.2" r="0.7" fill="#fff" stroke="none"/><circle cx="1511.8" cy="785.2" r="0.7" fill="#fff" stroke="none"/><circle cx="1510.9" cy="782.5" r="0.7" fill="#fff" stroke="none"/><circle cx="1513.2" cy="791.9" r="4.1" stroke-width="1.25" fill="#4e4e4e"/><circle cx="1513.2" cy="789.4" r="0.7" fill="#fff" stroke="none"/><circle cx="1515.5" cy="791.1" r="0.7" fill="#fff" stroke="none"/><circle cx="1514.6" cy="793.9" r="0.7" fill="#fff" stroke="none"/><circle cx="1511.8" cy="793.9" r="0.7" fill="#fff" stroke="none"/><circle cx="1510.9" cy="791.1" r="0.7" fill="#fff" stroke="none"/><circle cx="1513.2" cy="802.4" r="6.4" stroke-width="1.25" fill="#4e4e4e"/><circle cx="1513.2" cy="798.6" r="1" fill="#fff" stroke="none"/><circle cx="1516.2" cy="800" r="1" fill="#fff" stroke="none"/><circle cx="1516.9" cy="803.3" r="1" fill="#fff" stroke="none"/><circle cx="1514.9" cy="805.9" r="1" fill="#fff" stroke="none"/><circle cx="1511.5" cy="805.9" r="1" fill="#fff" stroke="none"/><circle cx="1509.5" cy="803.3" r="1" fill="#fff" stroke="none"/><circle cx="1510.2" cy="800" r="1" fill="#fff" stroke="none"/><circle cx="1513.2" cy="812.9" r="4.1" stroke-width="1.25" fill="#4e4e4e"/><circle cx="1513.2" cy="810.4" r="0.7" fill="#fff" stroke="none"/><circle cx="1515.5" cy="812.1" r="0.7" fill="#fff" stroke="none"/><circle cx="1514.6" cy="814.9" r="0.7" fill="#fff" stroke="none"/><circle cx="1511.8" cy="814.9" r="0.7" fill="#fff" stroke="none"/><circle cx="1510.9" cy="812.1" r="0.7" fill="#fff" stroke="none"/><circle cx="1513.2" cy="821.6" r="4.1" stroke-width="1.25" fill="#4e4e4e"/><circle cx="1513.2" cy="819.1" r="0.7" fill="#fff" stroke="none"/><circle cx="1515.5" cy="820.8" r="0.7" fill="#fff" stroke="none"/><circle cx="1514.6" cy="823.6" r="0.7" fill="#fff" stroke="none"/><circle cx="1511.8" cy="823.6" r="0.7" fill="#fff" stroke="none"/><circle cx="1510.9" cy="820.8" r="0.7" fill="#fff" stroke="none"/><circle cx="1513.2" cy="830.2" r="4.1" stroke-width="1.25" fill="#4e4e4e"/><circle cx="1513.2" cy="827.8" r="0.7" fill="#fff" stroke="none"/><circle cx="1515.5" cy="829.5" r="0.7" fill="#fff" stroke="none"/><circle cx="1514.6" cy="832.2" r="0.7" fill="#fff" stroke="none"/><circle cx="1511.8" cy="832.2" r="0.7" fill="#fff" stroke="none"/><circle cx="1510.9" cy="829.5" r="0.7" fill="#fff" stroke="none"/><circle cx="1513.2" cy="838.9" r="4.1" stroke-width="1.25" fill="#4e4e4e"/><circle cx="1513.2" cy="836.4" r="0.7" fill="#fff" stroke="none"/><circle cx="1515.5" cy="838.1" r="0.7" fill="#fff" stroke="none"/><circle cx="1514.6" cy="840.9" r="0.7" fill="#fff" stroke="none"/><circle cx="1511.8" cy="840.9" r="0.7" fill="#fff" stroke="none"/><circle cx="1510.9" cy="838.1" r="0.7" fill="#fff" stroke="none"/><circle cx="1513.2" cy="849.4" r="6.4" stroke-width="1.25" fill="#4e4e4e"/><circle cx="1513.2" cy="845.6" r="1" fill="#fff" stroke="none"/><circle cx="1516.2" cy="847" r="1" fill="#fff" stroke="none"/><circle cx="1516.9" cy="850.3" r="1" fill="#fff" stroke="none"/><circle cx="1514.9" cy="852.9" r="1" fill="#fff" stroke="none"/><circle cx="1511.5" cy="852.9" r="1" fill="#fff" stroke="none"/><circle cx="1509.5" cy="850.3" r="1" fill="#fff" stroke="none"/><circle cx="1510.2" cy="847" r="1" fill="#fff" stroke="none"/><circle cx="1513.2" cy="859.4" r="4.1" stroke-width="1.25" fill="#4e4e4e"/><circle cx="1513.2" cy="856.9" r="0.7" fill="#fff" stroke="none"/><circle cx="1515.5" cy="858.6" r="0.7" fill="#fff" stroke="none"/><circle cx="1514.6" cy="861.4" r="0.7" fill="#fff" stroke="none"/><circle cx="1511.8" cy="861.4" r="0.7" fill="#fff" stroke="none"/><circle cx="1510.9" cy="858.6" r="0.7" fill="#fff" stroke="none"/><path d="M1469.9,706.5 C1485.9,714.7 1485.9,737.3 1469.9,745.5 C1454,737.3 1454,714.7 1469.9,706.5 Z" stroke-width="1.15"/><path d="M1469.9,707.5 C1483.9,715.3 1483.9,736.7 1469.9,744.5 C1455.9,736.7 1455.9,715.3 1469.9,707.5 Z" stroke-width="0.55"/><path d="M1460.9,726 L1465.3,720.9 L1469.6,726 L1465.3,731.1 Z" stroke-width="0.8"/><line x1="1465.3" y1="714.7" x2="1465.3" y2="720.9" stroke-width="0.7"/><line x1="1465.3" y1="737.3" x2="1465.3" y2="731.1" stroke-width="0.7"/><line x1="1461.3" y1="717.2" x2="1461.3" y2="734.8" stroke-width="0.5"/><path d="M1478.9,726 L1474.5,720.9 L1470.2,726 L1474.5,731.1 Z" stroke-width="0.8"/><line x1="1474.5" y1="714.7" x2="1474.5" y2="720.9" stroke-width="0.7"/><line x1="1474.5" y1="737.3" x2="1474.5" y2="731.1" stroke-width="0.7"/><line x1="1478.5" y1="717.2" x2="1478.5" y2="734.8" stroke-width="0.5"/><path d="M1460.6,723.7 L1465.3,714.7 L1469.9,719.8 L1474.5,714.7 L1479.2,723.7" stroke-width="0.8"/><path d="M1465.3,714.7 L1469.9,708.5 L1474.5,714.7" stroke-width="0.8"/><path d="M1460.6,728.3 L1465.3,737.3 L1469.9,732.2 L1474.5,737.3 L1479.2,728.3" stroke-width="0.8"/><path d="M1465.3,737.3 L1469.9,743.5 L1474.5,737.3" stroke-width="0.8"/><line x1="1459.5" y1="726" x2="1480.4" y2="726" stroke-width="0.5"/><line x1="1469.9" y1="706.5" x2="1469.9" y2="745.5" stroke-width="0.8"/><circle cx="1469.9" cy="726" r="1" fill="#000" stroke="none"/><circle cx="1469.9" cy="742" r="0.9" fill="#000" stroke="none"/><circle cx="1469.9" cy="709.2" r="0.9" stroke-width="0.6"/><path d="M1446,708 C1452,716 1488,716 1494,708" stroke-width="1.1"/><path d="M1419.7,863.7 C1416.4,866.5 1415,860.8 1419.7,858.9 C1425.4,857.1 1430.1,859.9 1434.9,868.4 C1440.5,878.8 1449.1,889.3 1464.2,892.4 M1420.2,863.2 C1424.4,861.3 1429.2,863.7 1431.1,870.3 C1434.9,881.7 1440.5,891.1 1452.9,892.4" stroke-width="1.3"/><circle cx="1428.7" cy="876.3" r="1.9" stroke-width="1.0" fill="#fff"/><path d="M1438.2,863.7 C1435.8,861.8 1436.8,858.5 1440.5,858.5 C1445.3,858.9 1451,869.4 1460.4,883.6 M1440.1,860.8 C1441.5,867.5 1443.4,873.2 1445.3,880.7 M1442.4,875.5 C1447.2,873.2 1450,878.8 1453.8,881.7 C1457.6,883.6 1461.4,886.4 1464.7,892.1 M1442.4,875.5 C1444.3,883.6 1449.1,890.2 1458.5,892.4" stroke-width="1.2"/><path d="M1520.1,863.7 C1523.4,866.5 1524.8,860.8 1520.1,858.9 C1514.4,857.1 1509.7,859.9 1504.9,868.4 C1499.3,878.8 1490.7,889.3 1475.6,892.4 M1519.6,863.2 C1515.4,861.3 1510.6,863.7 1508.7,870.3 C1504.9,881.7 1499.3,891.1 1486.9,892.4" stroke-width="1.3"/><circle cx="1511.1" cy="876.3" r="1.9" stroke-width="1.0" fill="#fff"/><path d="M1501.6,863.7 C1504,861.8 1503,858.5 1499.3,858.5 C1494.5,858.9 1488.8,869.4 1479.4,883.6 M1499.7,860.8 C1498.3,867.5 1496.4,873.2 1494.5,880.7 M1497.4,875.5 C1492.6,873.2 1489.8,878.8 1486,881.7 C1482.2,883.6 1478.4,886.4 1475.1,892.1 M1497.4,875.5 C1495.5,883.6 1490.7,890.2 1481.3,892.4" stroke-width="1.2"/><path d="M1469.9,859.4 L1460.9,880.7 C1460.4,886.4 1464.2,892.1 1469.9,892.4 C1475.6,892.1 1479.4,886.4 1478.9,880.7 Z" stroke-width="1.1"/><path d="M1469.9,859.9 C1467.1,860.8 1467.1,862.7 1469.9,865.6 C1472.7,862.7 1472.7,860.8 1469.9,859.9 Z" stroke-width="1.0" fill="#333"/><line x1="1449.1" y1="892.4" x2="1490.7" y2="892.4" stroke-width="1.2"/><path d="M1457,892.7 C1458.5,897.8 1462.3,899.7 1464.2,899.7 L1475.6,899.7 C1477.5,899.7 1481.3,897.8 1482.4,892.7" stroke-width="1.1"/><line x1="1457.6" y1="894.6" x2="1482.2" y2="894.6" stroke-width="0.9"/><path d="M1466.1,900.2 L1466.1,912.9 M1473.7,900.2 L1473.7,912.9" stroke-width="1.0"/><path d="M1465.2,900.6 C1461.4,905.4 1462.3,912 1469.9,915.3 C1477.5,912 1478.4,905.4 1474.6,900.6" stroke="#222" stroke-width="3.1727999999999996" fill="none" stroke-linecap="butt"/><path d="M1465.2,900.6 C1461.4,905.4 1462.3,912 1469.9,915.3 C1477.5,912 1478.4,905.4 1474.6,900.6" stroke="#fff" stroke-width="1.3727999999999998" fill="none" stroke-linecap="butt"/><circle cx="1469.9" cy="916.7" r="1.7" fill="#111" stroke-width="0.8"/><line x1="1469.9" y1="918.1" x2="1469.9" y2="925.2" stroke-width="0.9"/><clipPath id="cb14699_9440"><path d="M1466.6,925.6 L1473.2,925.6 C1480.2,927.1 1485.1,934.8 1485.1,944 C1485.1,953.2 1478.3,959.8 1469.9,962.4 C1461.5,959.8 1454.7,953.2 1454.7,944 C1454.7,934.8 1459.6,927.1 1466.6,925.6 Z"/></clipPath><g clip-path="url(#cb14699_9440)" stroke-width="0.68"><line x1="1401.1" y1="905.4" x2="1445.2" y2="982.6"/><line x1="1445.2" y1="905.4" x2="1401.1" y2="982.6"/><line x1="1406.9" y1="905.4" x2="1451.1" y2="982.6"/><line x1="1451.1" y1="905.4" x2="1406.9" y2="982.6"/><line x1="1412.7" y1="905.4" x2="1456.9" y2="982.6"/><line x1="1456.9" y1="905.4" x2="1412.7" y2="982.6"/><line x1="1418.6" y1="905.4" x2="1462.7" y2="982.6"/><line x1="1462.7" y1="905.4" x2="1418.6" y2="982.6"/><line x1="1424.4" y1="905.4" x2="1468.6" y2="982.6"/><line x1="1468.6" y1="905.4" x2="1424.4" y2="982.6"/><line x1="1430.3" y1="905.4" x2="1474.4" y2="982.6"/><line x1="1474.4" y1="905.4" x2="1430.3" y2="982.6"/><line x1="1436.1" y1="905.4" x2="1480.3" y2="982.6"/><line x1="1480.3" y1="905.4" x2="1436.1" y2="982.6"/><line x1="1442" y1="905.4" x2="1486.1" y2="982.6"/><line x1="1486.1" y1="905.4" x2="1442" y2="982.6"/><line x1="1447.8" y1="905.4" x2="1492" y2="982.6"/><line x1="1492" y1="905.4" x2="1447.8" y2="982.6"/><line x1="1453.7" y1="905.4" x2="1497.8" y2="982.6"/><line x1="1497.8" y1="905.4" x2="1453.7" y2="982.6"/><line x1="1459.5" y1="905.4" x2="1503.7" y2="982.6"/><line x1="1503.7" y1="905.4" x2="1459.5" y2="982.6"/><line x1="1465.4" y1="905.4" x2="1509.5" y2="982.6"/><line x1="1509.5" y1="905.4" x2="1465.4" y2="982.6"/><line x1="1471.2" y1="905.4" x2="1515.4" y2="982.6"/><line x1="1515.4" y1="905.4" x2="1471.2" y2="982.6"/><line x1="1477.1" y1="905.4" x2="1521.2" y2="982.6"/><line x1="1521.2" y1="905.4" x2="1477.1" y2="982.6"/><line x1="1482.9" y1="905.4" x2="1527.1" y2="982.6"/><line x1="1527.1" y1="905.4" x2="1482.9" y2="982.6"/><line x1="1488.7" y1="905.4" x2="1532.9" y2="982.6"/><line x1="1532.9" y1="905.4" x2="1488.7" y2="982.6"/><line x1="1494.6" y1="905.4" x2="1538.7" y2="982.6"/><line x1="1538.7" y1="905.4" x2="1494.6" y2="982.6"/><line x1="1451.7" y1="913.5" x2="1488.1" y2="913.5"/><line x1="1451.7" y1="918.6" x2="1488.1" y2="918.6"/><line x1="1451.7" y1="923.7" x2="1488.1" y2="923.7"/><line x1="1451.7" y1="928.7" x2="1488.1" y2="928.7"/><line x1="1451.7" y1="933.8" x2="1488.1" y2="933.8"/><line x1="1451.7" y1="938.9" x2="1488.1" y2="938.9"/><line x1="1451.7" y1="944" x2="1488.1" y2="944"/><line x1="1451.7" y1="949.1" x2="1488.1" y2="949.1"/><line x1="1451.7" y1="954.2" x2="1488.1" y2="954.2"/><line x1="1451.7" y1="959.3" x2="1488.1" y2="959.3"/><line x1="1451.7" y1="964.3" x2="1488.1" y2="964.3"/><line x1="1451.7" y1="969.4" x2="1488.1" y2="969.4"/><line x1="1451.7" y1="974.5" x2="1488.1" y2="974.5"/></g><path d="M1466.6,925.6 L1473.2,925.6 C1480.2,927.1 1485.1,934.8 1485.1,944 C1485.1,953.2 1478.3,959.8 1469.9,962.4 C1461.5,959.8 1454.7,953.2 1454.7,944 C1454.7,934.8 1459.6,927.1 1466.6,925.6 Z" stroke-width="1.1199999999999999"/><circle cx="1469.9" cy="928.6" r="1.6" stroke-width="0.8"/><circle cx="1419" cy="856" r="2" stroke-width="0.9"/><circle cx="1440.6" cy="856" r="2" stroke-width="0.9"/><circle cx="1469.9" cy="856" r="2" stroke-width="0.9"/><circle cx="1500.4" cy="856" r="2" stroke-width="0.9"/><circle cx="1520.8" cy="856" r="2" stroke-width="0.9"/></g><line x1="1355.6" y1="455" x2="1656.5" y2="455" stroke="#555" stroke-width="1"/><line x1="1363.4" y1="455" x2="1363.4" y2="962.5" stroke="#444" stroke-width="1"/><path d="M1363.4,455.3 L1366.2,471.3 L1360.6,471.3 Z" fill="#000" stroke="none"/><path d="M1363.4,962.5 L1360.6,946.5 L1366.2,946.5 Z" fill="#000" stroke="none"/><line x1="1355.3" y1="963.2" x2="1466" y2="963.2" stroke="#444" stroke-width="1"/><line x1="1416.2" y1="868.3" x2="1416.2" y2="1006.9" stroke="#444" stroke-width="1"/><line x1="1908.1" y1="868.4" x2="1908.1" y2="1006.9" stroke="#444" stroke-width="1"/><line x1="1416.2" y1="998.8" x2="1908.1" y2="998.8" stroke="#444" stroke-width="1"/><path d="M1416.2,998.8 L1432.2,995.9 L1432.2,1001.6 Z" fill="#000" stroke="none"/><path d="M1908.1,998.8 L1892.1,1001.6 L1892.1,995.9 Z" fill="#000" stroke="none"/><text x="1361.9" y="731" font-size="23" font-family="Liberation Sans" fill="#444" stroke="#fff" stroke-width="0.7" letter-spacing="3" transform="rotate(-90 1361.9 731)">470</text><text x="1635" y="996" font-size="23" font-family="Liberation Sans" fill="#444" stroke="#fff" stroke-width="0.7" letter-spacing="2">ø480</text><path d="M1359.4,1287.3 L1359.4,1268.8 L1345,1238 C1344,1235 1343.7,1232 1343.7,1229.5 C1343.7,1214 1356,1202.2 1372,1202.2 C1388,1202.2 1400.1,1214 1400.1,1229.5 C1400.1,1232 1399.8,1235 1398.8,1238 L1383.8,1268.8 L1383.8,1287.3 Z" stroke="#231f20" stroke-width="2.6"/><path d="M1362,1237 L1380.6,1237 L1371.3,1263 Z" stroke="#231f20" stroke-width="2.6"/><rect x="1358.2" y="1298.7" width="26.3" height="11.4" stroke="#231f20" stroke-width="2.6"/><path d="M1835.2,1183 L1836.8,1183 L1836.4,1229 L1835.6,1229 Z" fill="#231f20" stroke="none"/><path d="M1835.8,1141 C1836.7,1141 1837.5,1144 1838.5,1145.5 C1839.5,1147 1841.1,1148.3 1841.6,1150 C1842,1151.7 1841.7,1154.1 1841.2,1155.5 C1840.7,1156.9 1839.4,1157.8 1838.5,1158.5 C1837.6,1159.2 1836.7,1159.5 1835.8,1159.5 C1834.9,1159.5 1833.9,1159.2 1833,1158.5 C1832.1,1157.8 1830.8,1156.9 1830.3,1155.5 C1829.8,1154.1 1829.5,1151.7 1830,1150 C1830.5,1148.3 1832,1147 1833,1145.5 C1834,1144 1834.9,1141 1835.8,1141 Z" fill="#231f20" stroke="none"/><path d="M1832.2,1163 C1833.5,1161.2 1838.1,1161.2 1839.4,1163 C1840.7,1164.8 1839.9,1170.8 1839.8,1174 C1839.7,1177.2 1839.3,1180.7 1838.6,1182.5 C1837.9,1184.3 1836.7,1185 1835.8,1185 C1834.9,1185 1833.7,1184.3 1833,1182.5 C1832.3,1180.7 1831.9,1177.2 1831.8,1174 C1831.7,1170.8 1830.9,1164.8 1832.2,1163 Z" fill="#231f20" stroke="none"/><path d="M1819.5,1151 C1820.4,1150.4 1823.3,1151.7 1825,1152.5 C1826.7,1153.3 1828.4,1154.8 1829.5,1156 C1830.6,1157.2 1830.8,1158.7 1831.5,1160 C1832.2,1161.3 1833.2,1162.5 1833.5,1164 C1833.8,1165.5 1834.1,1168.7 1833,1169 C1831.9,1169.3 1828.8,1167.3 1827,1166 C1825.2,1164.7 1823.2,1162.7 1822,1161 C1820.8,1159.3 1820.2,1157.7 1819.8,1156 C1819.4,1154.3 1818.6,1151.6 1819.5,1151 Z" fill="#231f20" stroke="none"/><ellipse cx="1827.5" cy="1158.5" rx="1.6" ry="3.2" fill="#fff" stroke="none" transform="rotate(-30 1827.5 1158.5)"/><path d="M1833.5,1146 C1831,1142.5 1827,1141 1823.5,1141.8 C1820.5,1142.8 1820,1146.5 1822.8,1147.3" stroke="#231f20" stroke-width="1.7" fill="none"/><circle cx="1822.3" cy="1145.6" r="1.7" fill="#231f20" stroke="none"/><path d="M1795.5,1199.5 C1795.3,1198.8 1797.1,1195.7 1798.5,1194.5 C1799.9,1193.3 1802.2,1192.4 1804,1192.6 C1805.8,1192.8 1808.3,1193.9 1809.5,1195.5 C1810.7,1197.1 1810.8,1199.9 1811.2,1202 C1811.6,1204.1 1810.9,1206.2 1811.8,1208 C1812.7,1209.8 1815.3,1210.4 1816.5,1212.5 C1817.7,1214.6 1818.8,1217.8 1818.8,1220.5 C1818.8,1223.2 1817.6,1226.2 1816.5,1229 C1815.4,1231.8 1813.8,1234.4 1812,1237 C1810.2,1239.6 1808.5,1243.1 1806,1244.5 C1803.5,1245.9 1799.8,1246 1797,1245.5 C1794.2,1245 1791,1243.8 1789,1241.5 C1787,1239.2 1785.7,1235.2 1785.2,1232 C1784.7,1228.8 1785.2,1225.2 1786,1222 C1786.8,1218.8 1788.2,1215.7 1790,1213 C1791.8,1210.3 1795.2,1207.9 1797,1206 C1798.8,1204.1 1800.6,1203 1801,1201.8 C1801.4,1200.5 1800.4,1198.9 1799.5,1198.5 C1798.6,1198.1 1795.7,1200.2 1795.5,1199.5 Z" fill="#231f20" stroke="none"/><path d="M1801.5,1221.5 C1804,1217.5 1809,1216.5 1812.5,1219" stroke="#fff" stroke-width="1.8" fill="none"/><path d="M1809,1232 C1809,1226 1803,1224.5 1800.5,1228.5 C1798.5,1232 1801,1235.5 1804,1234.5" stroke="#fff" stroke-width="1.9" fill="none"/><circle cx="1829.7" cy="1219.2" r="4" fill="#231f20" stroke="none"/><path d="M1831,1222 C1835,1224 1836,1229 1835.5,1233 C1834.5,1240 1826,1245.5 1815,1246 L1804,1245.5" stroke="#231f20" stroke-width="2.2" fill="none"/><path d="M1788,1237.5 C1782,1232.5 1774,1229.5 1766,1229.5 C1757,1229.5 1751.5,1235 1752.5,1242 C1753.5,1247.5 1760,1249 1762,1245.5 C1763,1243 1761,1241 1759,1242" stroke="#231f20" stroke-width="2.8" fill="none"/><path d="M1836,1240 C1834,1245 1829,1246 1828,1250 C1827.5,1253 1831,1254 1832.5,1252" stroke="#231f20" stroke-width="1.4" fill="none"/><circle cx="1831.8" cy="1251.6" r="1.2" fill="#231f20" stroke="none"/><g transform="matrix(-1 0 0 1 3672 0)"><path d="M1819.5,1151 C1820.4,1150.4 1823.3,1151.7 1825,1152.5 C1826.7,1153.3 1828.4,1154.8 1829.5,1156 C1830.6,1157.2 1830.8,1158.7 1831.5,1160 C1832.2,1161.3 1833.2,1162.5 1833.5,1164 C1833.8,1165.5 1834.1,1168.7 1833,1169 C1831.9,1169.3 1828.8,1167.3 1827,1166 C1825.2,1164.7 1823.2,1162.7 1822,1161 C1820.8,1159.3 1820.2,1157.7 1819.8,1156 C1819.4,1154.3 1818.6,1151.6 1819.5,1151 Z" fill="#231f20" stroke="none"/><ellipse cx="1827.5" cy="1158.5" rx="1.6" ry="3.2" fill="#fff" stroke="none" transform="rotate(-30 1827.5 1158.5)"/><path d="M1833.5,1146 C1831,1142.5 1827,1141 1823.5,1141.8 C1820.5,1142.8 1820,1146.5 1822.8,1147.3" stroke="#231f20" stroke-width="1.7" fill="none"/><circle cx="1822.3" cy="1145.6" r="1.7" fill="#231f20" stroke="none"/><path d="M1795.5,1199.5 C1795.3,1198.8 1797.1,1195.7 1798.5,1194.5 C1799.9,1193.3 1802.2,1192.4 1804,1192.6 C1805.8,1192.8 1808.3,1193.9 1809.5,1195.5 C1810.7,1197.1 1810.8,1199.9 1811.2,1202 C1811.6,1204.1 1810.9,1206.2 1811.8,1208 C1812.7,1209.8 1815.3,1210.4 1816.5,1212.5 C1817.7,1214.6 1818.8,1217.8 1818.8,1220.5 C1818.8,1223.2 1817.6,1226.2 1816.5,1229 C1815.4,1231.8 1813.8,1234.4 1812,1237 C1810.2,1239.6 1808.5,1243.1 1806,1244.5 C1803.5,1245.9 1799.8,1246 1797,1245.5 C1794.2,1245 1791,1243.8 1789,1241.5 C1787,1239.2 1785.7,1235.2 1785.2,1232 C1784.7,1228.8 1785.2,1225.2 1786,1222 C1786.8,1218.8 1788.2,1215.7 1790,1213 C1791.8,1210.3 1795.2,1207.9 1797,1206 C1798.8,1204.1 1800.6,1203 1801,1201.8 C1801.4,1200.5 1800.4,1198.9 1799.5,1198.5 C1798.6,1198.1 1795.7,1200.2 1795.5,1199.5 Z" fill="#231f20" stroke="none"/><path d="M1801.5,1221.5 C1804,1217.5 1809,1216.5 1812.5,1219" stroke="#fff" stroke-width="1.8" fill="none"/><path d="M1809,1232 C1809,1226 1803,1224.5 1800.5,1228.5 C1798.5,1232 1801,1235.5 1804,1234.5" stroke="#fff" stroke-width="1.9" fill="none"/><circle cx="1829.7" cy="1219.2" r="4" fill="#231f20" stroke="none"/><path d="M1831,1222 C1835,1224 1836,1229 1835.5,1233 C1834.5,1240 1826,1245.5 1815,1246 L1804,1245.5" stroke="#231f20" stroke-width="2.2" fill="none"/><path d="M1788,1237.5 C1782,1232.5 1774,1229.5 1766,1229.5 C1757,1229.5 1751.5,1235 1752.5,1242 C1753.5,1247.5 1760,1249 1762,1245.5 C1763,1243 1761,1241 1759,1242" stroke="#231f20" stroke-width="2.8" fill="none"/><path d="M1836,1240 C1834,1245 1829,1246 1828,1250 C1827.5,1253 1831,1254 1832.5,1252" stroke="#231f20" stroke-width="1.4" fill="none"/><circle cx="1831.8" cy="1251.6" r="1.2" fill="#231f20" stroke="none"/></g><text x="1749" y="1305" font-size="47" font-family="Liberation Serif" fill="#231f20" stroke="none" textLength="175" lengthAdjust="spacingAndGlyphs">MAYTONI</text><text x="1775" y="1325.8" font-size="17.5" font-family="Liberation Serif" fill="#231f20" stroke="none" textLength="123.5" lengthAdjust="spacingAndGlyphs">CHANDELIERS</text></g>
</svg>
</body></html>
